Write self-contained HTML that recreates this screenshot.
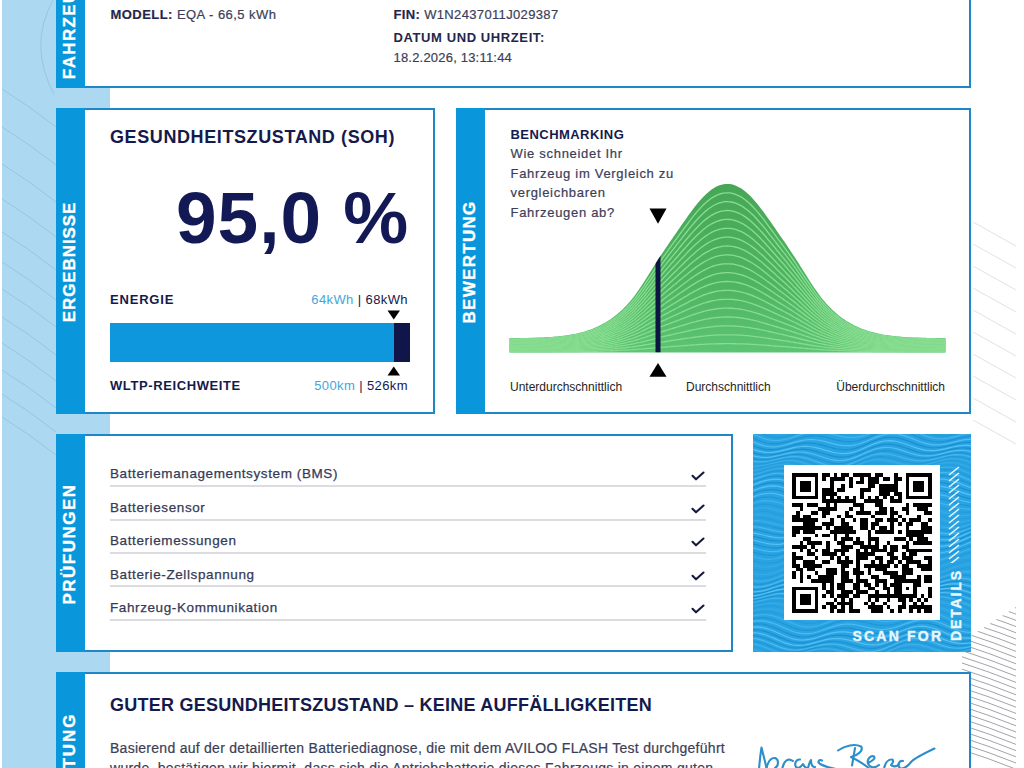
<!DOCTYPE html>
<html lang="de">
<head>
<meta charset="utf-8">
<title>AVILOO Batteriezertifikat</title>
<style>
*{margin:0;padding:0;box-sizing:border-box}
html,body{width:1024px;height:768px;overflow:hidden;background:#fff}
body{position:relative;font-family:"Liberation Sans",Arial,sans-serif;color:#1a1d4a}
.abs{position:absolute;white-space:nowrap;line-height:1}
.bgstrip{position:absolute;left:2px;top:0;width:54px;height:768px;background:#acd9f1}
.gap{position:absolute;left:56px;width:54px;background:#acd9f1}
.card{position:absolute;border:2px solid #1f87c7;background:#fff}
.lab{position:absolute;background:#0996da}
.lab span{position:absolute;left:calc(50% - 1.5px);top:calc(50% + 1px);-webkit-text-stroke:0.35px #fff;transform:translate(-50%,-50%) rotate(-90deg);color:#fff;font-weight:bold;font-size:17px;letter-spacing:1px;white-space:nowrap;line-height:1}
.t13{font-size:13px}
.b{font-weight:bold}
.navy{color:#141a4c}
.gray{color:#3b3e58;-webkit-text-stroke:0.2px #3b3e58}
.row{position:absolute;left:110px;width:596px;height:2px;background:#dcdce0}
.item{position:absolute;left:110px;font-size:13.5px;letter-spacing:0.6px;color:#363a57;-webkit-text-stroke:0.25px #363a57;line-height:1;white-space:nowrap}
.chk{position:absolute;left:691px;width:14px;height:10px}
</style>
</head>
<body>
<!-- background -->
<div class="bgstrip"></div>
<svg class="abs" style="left:0;top:0" width="1024" height="768" viewBox="0 0 1024 768">
  <g stroke="#93c5e2" stroke-width="1" fill="none" opacity="0.9"><path d="M2 89 Q28 105 56 127"/><path d="M2 127 Q28 143 56 165"/><path d="M2 164 Q28 180 56 202"/><path d="M2 199 Q28 215 56 237"/><path d="M2 232 Q28 248 56 270"/><path d="M2 262 Q28 278 56 300"/><path d="M2 289 Q28 305 56 327"/><path d="M2 317 Q28 333 56 355"/><path d="M2 343 Q28 359 56 381"/><path d="M2 370 Q28 386 56 408"/><path d="M2 394 Q28 410 56 432"/><path d="M2 417 Q28 433 56 455"/><path d="M53 0 Q28 46 54 94"/></g>
  <g stroke="#e2e2e6" stroke-width="1" fill="none"><path d="M973 222 L1016 246"/><path d="M973 244 L1016 268"/><path d="M973 266 L1016 290"/><path d="M973 288 L1016 312"/><path d="M973 310 L1016 334"/><path d="M973 332 L1016 356"/><path d="M973 354 L1016 378"/><path d="M973 376 L1016 400"/><path d="M973 398 L1016 422"/><path d="M973 420 L1016 444"/></g>
  <g stroke="#a4a4aa" stroke-width="1" fill="none"><path d="M1015.0 607.6 Q1015.5 607.8 1016 608.0"/><path d="M1008.8 611.6 Q1012.4 612.8 1016 614.2"/><path d="M1002.6 615.6 Q1009.3 617.7 1016 620.4"/><path d="M996.4 619.5 Q1006.2 622.7 1016 626.6"/><path d="M990.2 623.5 Q1003.1 627.6 1016 632.8"/><path d="M984.0 627.5 Q1000.0 632.6 1016 639.0"/><path d="M977.8 631.4 Q996.9 637.6 1016 645.2"/><path d="M971.6 635.4 Q993.8 642.5 1016 651.4"/><path d="M965.4 639.4 Q990.7 647.5 1016 657.6"/><path d="M962.0 644.4 Q989.0 653.0 1016 663.8"/><path d="M962.0 650.6 Q989.0 659.2 1016 670.0"/><path d="M962.0 656.8 Q989.0 665.4 1016 676.2"/><path d="M962.0 663.0 Q989.0 671.6 1016 682.4"/><path d="M962.0 669.2 Q989.0 677.8 1016 688.6"/><path d="M962.0 675.4 Q989.0 684.0 1016 694.8"/><path d="M962.0 681.6 Q989.0 690.2 1016 701.0"/><path d="M962.0 687.8 Q989.0 696.4 1016 707.2"/><path d="M962.0 694.0 Q989.0 702.6 1016 713.4"/><path d="M962.0 700.2 Q989.0 708.8 1016 719.6"/><path d="M962.0 706.4 Q989.0 715.0 1016 725.8"/><path d="M962.0 712.6 Q989.0 721.2 1016 732.0"/><path d="M962.0 718.8 Q989.0 727.4 1016 738.2"/><path d="M962.0 725.0 Q989.0 733.6 1016 744.4"/><path d="M962.0 731.2 Q989.0 739.8 1016 750.6"/><path d="M962.0 737.4 Q989.0 746.0 1016 756.8"/><path d="M962.0 743.6 Q989.0 752.2 1016 763.0"/><path d="M962.0 749.8 Q989.0 758.4 1016 769.2"/></g>
</svg>
<div class="gap" style="top:88px;height:20px"></div>
<div class="gap" style="top:414px;height:20px"></div>
<div class="gap" style="top:652px;height:20px"></div>

<!-- Card 1: Fahrzeug -->
<div class="card" style="left:56px;top:-33px;width:915px;height:121px"></div>
<div class="lab" style="left:56px;top:-33px;width:29px;height:121px"><span style="top:calc(50% - 0.5px);letter-spacing:1.35px">FAHRZEUG</span></div>
<div class="abs t13 gray" style="left:110.5px;top:7.5px;letter-spacing:0.45px"><b class="navy" style="color:#23264a">MODELL:</b> EQA - 66,5 kWh</div>
<div class="abs t13 gray" style="left:393.5px;top:7.9px;letter-spacing:0.35px"><b style="color:#23264a">FIN:</b> W1N2437011J029387</div>
<div class="abs t13 b" style="left:393.5px;top:31.4px;color:#23264a;letter-spacing:0.6px">DATUM UND UHRZEIT:</div>
<div class="abs t13 gray" style="left:393.5px;top:50.5px;letter-spacing:0.2px">18.2.2026, 13:11:44</div>

<!-- Card 2: Ergebnisse -->
<div class="card" style="left:56px;top:108px;width:379px;height:306px"></div>
<div class="lab" style="left:56px;top:108px;width:29px;height:306px"><span style="letter-spacing:0.9px">ERGEBNISSE</span></div>
<div class="abs b navy" style="left:110px;top:128.2px;font-size:18px;letter-spacing:0.6px">GESUNDHEITSZUSTAND (SOH)</div>
<div class="abs b" style="left:176px;top:181.3px;font-size:73px;color:#131955;letter-spacing:1px">95,0 %</div>
<div class="abs b navy t13" style="left:110px;top:293.3px;letter-spacing:0.8px">ENERGIE</div>
<div class="abs t13" style="right:616px;top:293.4px;letter-spacing:0.4px"><span style="color:#3fa7dd">64kWh</span> <span class="navy">| 68kWh</span></div>
<div class="abs" style="left:110px;top:323px;width:284px;height:39px;background:#0e97dc"></div>
<div class="abs" style="left:394px;top:323px;width:15.5px;height:39px;background:#10164a"></div>
<svg class="abs" style="left:387px;top:310px" width="14" height="10"><path d="M0.5 0.5 L13 0.5 L6.75 9.5 Z" fill="#000"/></svg>
<svg class="abs" style="left:387px;top:365.5px" width="14" height="10"><path d="M0.5 9.5 L13 9.5 L6.75 0.5 Z" fill="#000"/></svg>
<div class="abs b navy t13" style="left:110px;top:378.7px;letter-spacing:0.6px">WLTP-REICHWEITE</div>
<div class="abs t13" style="right:616px;top:378.7px;letter-spacing:0.4px"><span style="color:#3fa7dd">500km</span> <span class="navy">| 526km</span></div>

<!-- Card 3: Bewertung -->
<div class="card" style="left:456px;top:108px;width:515px;height:306px"></div>
<div class="lab" style="left:456px;top:108px;width:29px;height:306px"><span style="letter-spacing:1.3px">BEWERTUNG</span></div>
<div class="abs b t13 navy" style="left:510.5px;top:127.6px;letter-spacing:0.45px">BENCHMARKING</div>
<div class="abs t13 gray" style="left:510.5px;top:147px;letter-spacing:0.7px">Wie schneidet Ihr</div>
<div class="abs t13 gray" style="left:510.5px;top:167px;letter-spacing:0.7px">Fahrzeug im Vergleich zu</div>
<div class="abs t13 gray" style="left:510.5px;top:186.1px;letter-spacing:0.7px">vergleichbaren</div>
<div class="abs t13 gray" style="left:510.5px;top:205.7px;letter-spacing:0.7px">Fahrzeugen ab?</div>
<svg class="abs" style="left:0;top:0" width="1024" height="420" viewBox="0 0 1024 420">
  <defs>
    <linearGradient id="gfill" x1="0" y1="180" x2="0" y2="353" gradientUnits="userSpaceOnUse">
      <stop offset="0" stop-color="#45a656"/>
      <stop offset="0.6" stop-color="#4fb462"/>
      <stop offset="1" stop-color="#5cc474"/>
    </linearGradient>
  </defs>
  <clipPath id="bellclip"><path d="M509.5 338.1 L511.5 338.1 L513.5 338.1 L515.4 338.0 L517.4 338.0 L519.4 338.0 L521.4 338.0 L523.4 337.9 L525.4 337.9 L527.3 337.9 L529.3 337.8 L531.3 337.8 L533.3 337.7 L535.3 337.7 L537.2 337.6 L539.2 337.5 L541.2 337.4 L543.2 337.4 L545.2 337.3 L547.2 337.1 L549.1 337.0 L551.1 336.9 L553.1 336.7 L555.1 336.6 L557.1 336.4 L559.0 336.2 L561.0 336.0 L563.0 335.8 L565.0 335.5 L567.0 335.2 L569.0 334.9 L570.9 334.6 L572.9 334.2 L574.9 333.9 L576.9 333.4 L578.9 333.0 L580.8 332.5 L582.8 332.0 L584.8 331.4 L586.8 330.8 L588.8 330.1 L590.8 329.4 L592.7 328.7 L594.7 327.8 L596.7 327.0 L598.7 326.1 L600.7 325.1 L602.6 324.0 L604.6 322.9 L606.6 321.7 L608.6 320.5 L610.6 319.2 L612.6 317.7 L614.5 316.3 L616.5 314.7 L618.5 313.0 L620.5 311.3 L622.5 309.4 L624.4 307.5 L626.4 305.4 L628.4 303.2 L630.4 300.9 L632.4 298.5 L634.4 295.9 L636.3 293.3 L638.3 290.5 L640.3 287.6 L642.3 284.6 L644.3 281.6 L646.2 278.5 L648.2 275.3 L650.2 272.1 L652.2 268.9 L654.2 265.8 L656.2 262.6 L658.1 259.5 L660.1 256.5 L662.1 253.5 L664.1 250.5 L666.1 247.6 L668.0 244.7 L670.0 241.8 L672.0 238.9 L674.0 236.0 L676.0 233.2 L678.0 230.3 L679.9 227.5 L681.9 224.6 L683.9 221.8 L685.9 218.9 L687.9 216.1 L689.8 213.4 L691.8 210.7 L693.8 208.1 L695.8 205.5 L697.8 203.1 L699.8 200.7 L701.7 198.5 L703.7 196.4 L705.7 194.5 L707.7 192.7 L709.7 191.0 L711.6 189.5 L713.6 188.2 L715.6 187.1 L717.6 186.1 L719.6 185.3 L721.6 184.7 L723.5 184.2 L725.5 184.0 L727.5 183.9 L729.5 184.0 L731.5 184.3 L733.4 184.8 L735.4 185.5 L737.4 186.4 L739.4 187.4 L741.4 188.6 L743.4 190.0 L745.3 191.5 L747.3 193.2 L749.3 195.1 L751.3 197.1 L753.3 199.2 L755.2 201.4 L757.2 203.8 L759.2 206.3 L761.2 208.9 L763.2 211.5 L765.2 214.2 L767.1 217.0 L769.1 219.8 L771.1 222.6 L773.1 225.5 L775.1 228.3 L777.0 231.2 L779.0 234.0 L781.0 236.9 L783.0 239.8 L785.0 242.6 L787.0 245.5 L788.9 248.4 L790.9 251.4 L792.9 254.4 L794.9 257.4 L796.9 260.5 L798.8 263.6 L800.8 266.7 L802.8 269.9 L804.8 273.1 L806.8 276.3 L808.8 279.4 L810.7 282.5 L812.7 285.5 L814.7 288.5 L816.7 291.3 L818.7 294.1 L820.6 296.7 L822.6 299.2 L824.6 301.6 L826.6 303.9 L828.6 306.0 L830.6 308.1 L832.5 310.0 L834.5 311.8 L836.5 313.5 L838.5 315.2 L840.5 316.7 L842.4 318.2 L844.4 319.6 L846.4 320.9 L848.4 322.1 L850.4 323.3 L852.4 324.3 L854.3 325.4 L856.3 326.3 L858.3 327.2 L860.3 328.1 L862.3 328.9 L864.2 329.6 L866.2 330.3 L868.2 331.0 L870.2 331.6 L872.2 332.1 L874.2 332.6 L876.1 333.1 L878.1 333.6 L880.1 334.0 L882.1 334.4 L884.1 334.7 L886.0 335.0 L888.0 335.3 L890.0 335.6 L892.0 335.8 L894.0 336.1 L896.0 336.3 L897.9 336.5 L899.9 336.6 L901.9 336.8 L903.9 336.9 L905.9 337.1 L907.8 337.2 L909.8 337.3 L911.8 337.4 L913.8 337.5 L915.8 337.6 L917.8 337.6 L919.7 337.7 L921.7 337.7 L923.7 337.8 L925.7 337.8 L927.7 337.9 L929.6 337.9 L931.6 338.0 L933.6 338.0 L935.6 338.0 L937.6 338.0 L939.6 338.1 L941.5 338.1 L943.5 338.1 L945.5 338.1 L945.5 352.5 L509.5 352.5 Z"/></clipPath>
<path d="M509.5 338.1 L511.5 338.1 L513.5 338.1 L515.4 338.0 L517.4 338.0 L519.4 338.0 L521.4 338.0 L523.4 337.9 L525.4 337.9 L527.3 337.9 L529.3 337.8 L531.3 337.8 L533.3 337.7 L535.3 337.7 L537.2 337.6 L539.2 337.5 L541.2 337.4 L543.2 337.4 L545.2 337.3 L547.2 337.1 L549.1 337.0 L551.1 336.9 L553.1 336.7 L555.1 336.6 L557.1 336.4 L559.0 336.2 L561.0 336.0 L563.0 335.8 L565.0 335.5 L567.0 335.2 L569.0 334.9 L570.9 334.6 L572.9 334.2 L574.9 333.9 L576.9 333.4 L578.9 333.0 L580.8 332.5 L582.8 332.0 L584.8 331.4 L586.8 330.8 L588.8 330.1 L590.8 329.4 L592.7 328.7 L594.7 327.8 L596.7 327.0 L598.7 326.1 L600.7 325.1 L602.6 324.0 L604.6 322.9 L606.6 321.7 L608.6 320.5 L610.6 319.2 L612.6 317.7 L614.5 316.3 L616.5 314.7 L618.5 313.0 L620.5 311.3 L622.5 309.4 L624.4 307.5 L626.4 305.4 L628.4 303.2 L630.4 300.9 L632.4 298.5 L634.4 295.9 L636.3 293.3 L638.3 290.5 L640.3 287.6 L642.3 284.6 L644.3 281.6 L646.2 278.5 L648.2 275.3 L650.2 272.1 L652.2 268.9 L654.2 265.8 L656.2 262.6 L658.1 259.5 L660.1 256.5 L662.1 253.5 L664.1 250.5 L666.1 247.6 L668.0 244.7 L670.0 241.8 L672.0 238.9 L674.0 236.0 L676.0 233.2 L678.0 230.3 L679.9 227.5 L681.9 224.6 L683.9 221.8 L685.9 218.9 L687.9 216.1 L689.8 213.4 L691.8 210.7 L693.8 208.1 L695.8 205.5 L697.8 203.1 L699.8 200.7 L701.7 198.5 L703.7 196.4 L705.7 194.5 L707.7 192.7 L709.7 191.0 L711.6 189.5 L713.6 188.2 L715.6 187.1 L717.6 186.1 L719.6 185.3 L721.6 184.7 L723.5 184.2 L725.5 184.0 L727.5 183.9 L729.5 184.0 L731.5 184.3 L733.4 184.8 L735.4 185.5 L737.4 186.4 L739.4 187.4 L741.4 188.6 L743.4 190.0 L745.3 191.5 L747.3 193.2 L749.3 195.1 L751.3 197.1 L753.3 199.2 L755.2 201.4 L757.2 203.8 L759.2 206.3 L761.2 208.9 L763.2 211.5 L765.2 214.2 L767.1 217.0 L769.1 219.8 L771.1 222.6 L773.1 225.5 L775.1 228.3 L777.0 231.2 L779.0 234.0 L781.0 236.9 L783.0 239.8 L785.0 242.6 L787.0 245.5 L788.9 248.4 L790.9 251.4 L792.9 254.4 L794.9 257.4 L796.9 260.5 L798.8 263.6 L800.8 266.7 L802.8 269.9 L804.8 273.1 L806.8 276.3 L808.8 279.4 L810.7 282.5 L812.7 285.5 L814.7 288.5 L816.7 291.3 L818.7 294.1 L820.6 296.7 L822.6 299.2 L824.6 301.6 L826.6 303.9 L828.6 306.0 L830.6 308.1 L832.5 310.0 L834.5 311.8 L836.5 313.5 L838.5 315.2 L840.5 316.7 L842.4 318.2 L844.4 319.6 L846.4 320.9 L848.4 322.1 L850.4 323.3 L852.4 324.3 L854.3 325.4 L856.3 326.3 L858.3 327.2 L860.3 328.1 L862.3 328.9 L864.2 329.6 L866.2 330.3 L868.2 331.0 L870.2 331.6 L872.2 332.1 L874.2 332.6 L876.1 333.1 L878.1 333.6 L880.1 334.0 L882.1 334.4 L884.1 334.7 L886.0 335.0 L888.0 335.3 L890.0 335.6 L892.0 335.8 L894.0 336.1 L896.0 336.3 L897.9 336.5 L899.9 336.6 L901.9 336.8 L903.9 336.9 L905.9 337.1 L907.8 337.2 L909.8 337.3 L911.8 337.4 L913.8 337.5 L915.8 337.6 L917.8 337.6 L919.7 337.7 L921.7 337.7 L923.7 337.8 L925.7 337.8 L927.7 337.9 L929.6 337.9 L931.6 338.0 L933.6 338.0 L935.6 338.0 L937.6 338.0 L939.6 338.1 L941.5 338.1 L943.5 338.1 L945.5 338.1 L945.5 352.5 L509.5 352.5 Z" fill="url(#gfill)"/>
<path d="M509.5 338.9 L511.5 338.8 L513.5 338.8 L515.4 338.8 L517.4 338.8 L519.4 338.8 L521.4 338.7 L523.4 338.7 L525.4 338.7 L527.3 338.6 L529.3 338.6 L531.3 338.6 L533.3 338.5 L535.3 338.4 L537.2 338.4 L539.2 338.3 L541.2 338.2 L543.2 338.2 L545.2 338.1 L547.2 338.0 L549.1 337.8 L551.1 337.7 L553.1 337.6 L555.1 337.4 L557.1 337.3 L559.0 337.1 L561.0 336.9 L563.0 336.6 L565.0 336.4 L567.0 336.1 L569.0 335.9 L570.9 335.5 L572.9 335.2 L574.9 334.8 L576.9 334.4 L578.9 334.0 L580.8 333.5 L582.8 333.0 L584.8 332.5 L586.8 331.9 L588.8 331.3 L590.8 330.6 L592.7 329.9 L594.7 329.1 L596.7 328.3 L598.7 327.4 L600.7 326.5 L602.6 325.5 L604.6 324.5 L606.6 323.3 L608.6 322.2 L610.6 320.9 L612.6 319.6 L614.5 318.2 L616.5 316.7 L618.5 315.1 L620.5 313.4 L622.5 311.7 L624.4 309.8 L626.4 307.9 L628.4 305.8 L630.4 303.6 L632.4 301.3 L634.4 298.9 L636.3 296.4 L638.3 293.7 L640.3 291.0 L642.3 288.2 L644.3 285.3 L646.2 282.4 L648.2 279.4 L650.2 276.4 L652.2 273.3 L654.2 270.3 L656.2 267.4 L658.1 264.4 L660.1 261.5 L662.1 258.7 L664.1 255.9 L666.1 253.1 L668.0 250.3 L670.0 247.6 L672.0 244.9 L674.0 242.2 L676.0 239.5 L678.0 236.7 L679.9 234.0 L681.9 231.3 L683.9 228.6 L685.9 226.0 L687.9 223.3 L689.8 220.7 L691.8 218.2 L693.8 215.7 L695.8 213.3 L697.8 210.9 L699.8 208.7 L701.7 206.6 L703.7 204.6 L705.7 202.8 L707.7 201.1 L709.7 199.5 L711.6 198.1 L713.6 196.9 L715.6 195.8 L717.6 194.8 L719.6 194.1 L721.6 193.5 L723.5 193.1 L725.5 192.8 L727.5 192.8 L729.5 192.9 L731.5 193.2 L733.4 193.6 L735.4 194.3 L737.4 195.1 L739.4 196.1 L741.4 197.2 L743.4 198.5 L745.3 200.0 L747.3 201.6 L749.3 203.3 L751.3 205.2 L753.3 207.3 L755.2 209.4 L757.2 211.6 L759.2 214.0 L761.2 216.4 L763.2 218.9 L765.2 221.5 L767.1 224.1 L769.1 226.8 L771.1 229.5 L773.1 232.2 L775.1 234.9 L777.0 237.6 L779.0 240.3 L781.0 243.0 L783.0 245.7 L785.0 248.4 L787.0 251.2 L788.9 253.9 L790.9 256.7 L792.9 259.5 L794.9 262.4 L796.9 265.3 L798.8 268.3 L800.8 271.3 L802.8 274.3 L804.8 277.3 L806.8 280.3 L808.8 283.2 L810.7 286.2 L812.7 289.1 L814.7 291.9 L816.7 294.6 L818.7 297.2 L820.6 299.6 L822.6 302.0 L824.6 304.3 L826.6 306.4 L828.6 308.5 L830.6 310.4 L832.5 312.2 L834.5 314.0 L836.5 315.6 L838.5 317.1 L840.5 318.6 L842.4 320.0 L844.4 321.3 L846.4 322.5 L848.4 323.7 L850.4 324.8 L852.4 325.8 L854.3 326.8 L856.3 327.7 L858.3 328.6 L860.3 329.4 L862.3 330.1 L864.2 330.8 L866.2 331.5 L868.2 332.1 L870.2 332.7 L872.2 333.2 L874.2 333.7 L876.1 334.1 L878.1 334.6 L880.1 334.9 L882.1 335.3 L884.1 335.6 L886.0 335.9 L888.0 336.2 L890.0 336.5 L892.0 336.7 L894.0 336.9 L896.0 337.1 L897.9 337.3 L899.9 337.5 L901.9 337.6 L903.9 337.8 L905.9 337.9 L907.8 338.0 L909.8 338.1 L911.8 338.2 L913.8 338.3 L915.8 338.3 L917.8 338.4 L919.7 338.5 L921.7 338.5 L923.7 338.6 L925.7 338.6 L927.7 338.7 L929.6 338.7 L931.6 338.7 L933.6 338.7 L935.6 338.8 L937.6 338.8 L939.6 338.8 L941.5 338.8 L943.5 338.8 L945.5 338.9" fill="none" stroke="#86dc8f" stroke-width="1.35"/>
<path d="M509.5 339.6 L511.5 339.6 L513.5 339.6 L515.4 339.6 L517.4 339.5 L519.4 339.5 L521.4 339.5 L523.4 339.5 L525.4 339.4 L527.3 339.4 L529.3 339.4 L531.3 339.3 L533.3 339.3 L535.3 339.2 L537.2 339.2 L539.2 339.1 L541.2 339.0 L543.2 339.0 L545.2 338.9 L547.2 338.8 L549.1 338.7 L551.1 338.5 L553.1 338.4 L555.1 338.3 L557.1 338.1 L559.0 337.9 L561.0 337.7 L563.0 337.5 L565.0 337.3 L567.0 337.0 L569.0 336.8 L570.9 336.5 L572.9 336.2 L574.9 335.8 L576.9 335.4 L578.9 335.0 L580.8 334.6 L582.8 334.1 L584.8 333.6 L586.8 333.1 L588.8 332.5 L590.8 331.8 L592.7 331.2 L594.7 330.4 L596.7 329.7 L598.7 328.8 L600.7 328.0 L602.6 327.0 L604.6 326.0 L606.6 325.0 L608.6 323.8 L610.6 322.7 L612.6 321.4 L614.5 320.1 L616.5 318.7 L618.5 317.2 L620.5 315.6 L622.5 314.0 L624.4 312.2 L626.4 310.3 L628.4 308.4 L630.4 306.3 L632.4 304.2 L634.4 301.9 L636.3 299.5 L638.3 297.0 L640.3 294.4 L642.3 291.8 L644.3 289.0 L646.2 286.2 L648.2 283.4 L650.2 280.6 L652.2 277.7 L654.2 274.9 L656.2 272.1 L658.1 269.3 L660.1 266.6 L662.1 263.9 L664.1 261.2 L666.1 258.6 L668.0 256.0 L670.0 253.4 L672.0 250.9 L674.0 248.3 L676.0 245.7 L678.0 243.2 L679.9 240.6 L681.9 238.1 L683.9 235.5 L685.9 233.0 L687.9 230.5 L689.8 228.0 L691.8 225.6 L693.8 223.3 L695.8 221.0 L697.8 218.8 L699.8 216.7 L701.7 214.7 L703.7 212.9 L705.7 211.1 L707.7 209.5 L709.7 208.0 L711.6 206.7 L713.6 205.5 L715.6 204.5 L717.6 203.6 L719.6 202.9 L721.6 202.3 L723.5 201.9 L725.5 201.7 L727.5 201.6 L729.5 201.8 L731.5 202.0 L733.4 202.5 L735.4 203.1 L737.4 203.8 L739.4 204.8 L741.4 205.8 L743.4 207.1 L745.3 208.5 L747.3 210.0 L749.3 211.6 L751.3 213.4 L753.3 215.3 L755.2 217.3 L757.2 219.5 L759.2 221.7 L761.2 224.0 L763.2 226.3 L765.2 228.8 L767.1 231.2 L769.1 233.8 L771.1 236.3 L773.1 238.8 L775.1 241.4 L777.0 244.0 L779.0 246.5 L781.0 249.1 L783.0 251.6 L785.0 254.2 L787.0 256.8 L788.9 259.4 L790.9 262.0 L792.9 264.7 L794.9 267.4 L796.9 270.2 L798.8 272.9 L800.8 275.8 L802.8 278.6 L804.8 281.4 L806.8 284.3 L808.8 287.1 L810.7 289.9 L812.7 292.6 L814.7 295.2 L816.7 297.8 L818.7 300.2 L820.6 302.6 L822.6 304.8 L824.6 307.0 L826.6 309.0 L828.6 310.9 L830.6 312.7 L832.5 314.5 L834.5 316.1 L836.5 317.6 L838.5 319.1 L840.5 320.5 L842.4 321.8 L844.4 323.0 L846.4 324.2 L848.4 325.3 L850.4 326.3 L852.4 327.3 L854.3 328.2 L856.3 329.1 L858.3 329.9 L860.3 330.7 L862.3 331.4 L864.2 332.0 L866.2 332.7 L868.2 333.2 L870.2 333.8 L872.2 334.3 L874.2 334.7 L876.1 335.2 L878.1 335.6 L880.1 335.9 L882.1 336.3 L884.1 336.6 L886.0 336.9 L888.0 337.1 L890.0 337.4 L892.0 337.6 L894.0 337.8 L896.0 338.0 L897.9 338.2 L899.9 338.3 L901.9 338.4 L903.9 338.6 L905.9 338.7 L907.8 338.8 L909.8 338.9 L911.8 339.0 L913.8 339.1 L915.8 339.1 L917.8 339.2 L919.7 339.2 L921.7 339.3 L923.7 339.3 L925.7 339.4 L927.7 339.4 L929.6 339.5 L931.6 339.5 L933.6 339.5 L935.6 339.5 L937.6 339.6 L939.6 339.6 L941.5 339.6 L943.5 339.6 L945.5 339.6" fill="none" stroke="#86dc8f" stroke-width="1.35"/>
<path d="M509.5 340.4 L511.5 340.4 L513.5 340.3 L515.4 340.3 L517.4 340.3 L519.4 340.3 L521.4 340.3 L523.4 340.2 L525.4 340.2 L527.3 340.2 L529.3 340.1 L531.3 340.1 L533.3 340.1 L535.3 340.0 L537.2 340.0 L539.2 339.9 L541.2 339.8 L543.2 339.7 L545.2 339.7 L547.2 339.6 L549.1 339.5 L551.1 339.4 L553.1 339.2 L555.1 339.1 L557.1 338.9 L559.0 338.8 L561.0 338.6 L563.0 338.4 L565.0 338.2 L567.0 338.0 L569.0 337.7 L570.9 337.4 L572.9 337.1 L574.9 336.8 L576.9 336.4 L578.9 336.1 L580.8 335.6 L582.8 335.2 L584.8 334.7 L586.8 334.2 L588.8 333.6 L590.8 333.1 L592.7 332.4 L594.7 331.7 L596.7 331.0 L598.7 330.2 L600.7 329.4 L602.6 328.5 L604.6 327.6 L606.6 326.6 L608.6 325.5 L610.6 324.4 L612.6 323.2 L614.5 322.0 L616.5 320.7 L618.5 319.3 L620.5 317.8 L622.5 316.2 L624.4 314.6 L626.4 312.8 L628.4 311.0 L630.4 309.0 L632.4 307.0 L634.4 304.9 L636.3 302.6 L638.3 300.3 L640.3 297.8 L642.3 295.3 L644.3 292.8 L646.2 290.1 L648.2 287.5 L650.2 284.8 L652.2 282.1 L654.2 279.5 L656.2 276.8 L658.1 274.2 L660.1 271.6 L662.1 269.1 L664.1 266.6 L666.1 264.1 L668.0 261.7 L670.0 259.3 L672.0 256.8 L674.0 254.4 L676.0 252.0 L678.0 249.6 L679.9 247.2 L681.9 244.8 L683.9 242.4 L685.9 240.0 L687.9 237.7 L689.8 235.3 L691.8 233.1 L693.8 230.9 L695.8 228.7 L697.8 226.7 L699.8 224.7 L701.7 222.8 L703.7 221.1 L705.7 219.4 L707.7 217.9 L709.7 216.5 L711.6 215.3 L713.6 214.2 L715.6 213.2 L717.6 212.4 L719.6 211.7 L721.6 211.2 L723.5 210.8 L725.5 210.6 L727.5 210.5 L729.5 210.6 L731.5 210.9 L733.4 211.3 L735.4 211.9 L737.4 212.6 L739.4 213.5 L741.4 214.5 L743.4 215.6 L745.3 216.9 L747.3 218.4 L749.3 219.9 L751.3 221.6 L753.3 223.4 L755.2 225.3 L757.2 227.3 L759.2 229.4 L761.2 231.5 L763.2 233.8 L765.2 236.0 L767.1 238.4 L769.1 240.7 L771.1 243.1 L773.1 245.5 L775.1 247.9 L777.0 250.3 L779.0 252.7 L781.0 255.2 L783.0 257.6 L785.0 260.0 L787.0 262.4 L788.9 264.9 L790.9 267.4 L792.9 269.9 L794.9 272.4 L796.9 275.0 L798.8 277.6 L800.8 280.3 L802.8 282.9 L804.8 285.6 L806.8 288.3 L808.8 290.9 L810.7 293.6 L812.7 296.1 L814.7 298.6 L816.7 301.0 L818.7 303.3 L820.6 305.5 L822.6 307.6 L824.6 309.6 L826.6 311.6 L828.6 313.4 L830.6 315.1 L832.5 316.7 L834.5 318.2 L836.5 319.7 L838.5 321.1 L840.5 322.4 L842.4 323.6 L844.4 324.8 L846.4 325.9 L848.4 326.9 L850.4 327.9 L852.4 328.8 L854.3 329.7 L856.3 330.5 L858.3 331.2 L860.3 331.9 L862.3 332.6 L864.2 333.2 L866.2 333.8 L868.2 334.4 L870.2 334.9 L872.2 335.3 L874.2 335.8 L876.1 336.2 L878.1 336.6 L880.1 336.9 L882.1 337.2 L884.1 337.5 L886.0 337.8 L888.0 338.0 L890.0 338.3 L892.0 338.5 L894.0 338.7 L896.0 338.8 L897.9 339.0 L899.9 339.1 L901.9 339.3 L903.9 339.4 L905.9 339.5 L907.8 339.6 L909.8 339.7 L911.8 339.8 L913.8 339.8 L915.8 339.9 L917.8 340.0 L919.7 340.0 L921.7 340.1 L923.7 340.1 L925.7 340.2 L927.7 340.2 L929.6 340.2 L931.6 340.2 L933.6 340.3 L935.6 340.3 L937.6 340.3 L939.6 340.3 L941.5 340.3 L943.5 340.4 L945.5 340.4" fill="none" stroke="#86dc8f" stroke-width="1.35"/>
<path d="M509.5 341.1 L511.5 341.1 L513.5 341.1 L515.4 341.1 L517.4 341.1 L519.4 341.1 L521.4 341.0 L523.4 341.0 L525.4 341.0 L527.3 340.9 L529.3 340.9 L531.3 340.9 L533.3 340.8 L535.3 340.8 L537.2 340.7 L539.2 340.7 L541.2 340.6 L543.2 340.5 L545.2 340.5 L547.2 340.4 L549.1 340.3 L551.1 340.2 L553.1 340.1 L555.1 339.9 L557.1 339.8 L559.0 339.6 L561.0 339.5 L563.0 339.3 L565.0 339.1 L567.0 338.9 L569.0 338.6 L570.9 338.4 L572.9 338.1 L574.9 337.8 L576.9 337.4 L578.9 337.1 L580.8 336.7 L582.8 336.3 L584.8 335.8 L586.8 335.3 L588.8 334.8 L590.8 334.3 L592.7 333.7 L594.7 333.0 L596.7 332.3 L598.7 331.6 L600.7 330.8 L602.6 330.0 L604.6 329.1 L606.6 328.2 L608.6 327.2 L610.6 326.2 L612.6 325.1 L614.5 323.9 L616.5 322.6 L618.5 321.3 L620.5 320.0 L622.5 318.5 L624.4 316.9 L626.4 315.3 L628.4 313.6 L630.4 311.8 L632.4 309.8 L634.4 307.8 L636.3 305.7 L638.3 303.5 L640.3 301.3 L642.3 298.9 L644.3 296.5 L646.2 294.0 L648.2 291.6 L650.2 289.0 L652.2 286.5 L654.2 284.0 L656.2 281.6 L658.1 279.1 L660.1 276.7 L662.1 274.3 L664.1 272.0 L666.1 269.7 L668.0 267.4 L670.0 265.1 L672.0 262.8 L674.0 260.6 L676.0 258.3 L678.0 256.0 L679.9 253.8 L681.9 251.5 L683.9 249.3 L685.9 247.1 L687.9 244.8 L689.8 242.7 L691.8 240.5 L693.8 238.5 L695.8 236.5 L697.8 234.5 L699.8 232.7 L701.7 230.9 L703.7 229.3 L705.7 227.8 L707.7 226.3 L709.7 225.0 L711.6 223.8 L713.6 222.8 L715.6 221.9 L717.6 221.1 L719.6 220.5 L721.6 220.0 L723.5 219.6 L725.5 219.4 L727.5 219.4 L729.5 219.5 L731.5 219.7 L733.4 220.1 L735.4 220.7 L737.4 221.3 L739.4 222.1 L741.4 223.1 L743.4 224.2 L745.3 225.4 L747.3 226.7 L749.3 228.2 L751.3 229.8 L753.3 231.5 L755.2 233.2 L757.2 235.1 L759.2 237.1 L761.2 239.1 L763.2 241.2 L765.2 243.3 L767.1 245.5 L769.1 247.7 L771.1 250.0 L773.1 252.2 L775.1 254.5 L777.0 256.7 L779.0 259.0 L781.0 261.2 L783.0 263.5 L785.0 265.8 L787.0 268.1 L788.9 270.4 L790.9 272.7 L792.9 275.0 L794.9 277.4 L796.9 279.8 L798.8 282.3 L800.8 284.8 L802.8 287.3 L804.8 289.8 L806.8 292.3 L808.8 294.8 L810.7 297.2 L812.7 299.6 L814.7 302.0 L816.7 304.2 L818.7 306.4 L820.6 308.5 L822.6 310.4 L824.6 312.3 L826.6 314.1 L828.6 315.8 L830.6 317.4 L832.5 318.9 L834.5 320.4 L836.5 321.7 L838.5 323.0 L840.5 324.3 L842.4 325.4 L844.4 326.5 L846.4 327.5 L848.4 328.5 L850.4 329.4 L852.4 330.3 L854.3 331.1 L856.3 331.8 L858.3 332.6 L860.3 333.2 L862.3 333.9 L864.2 334.4 L866.2 335.0 L868.2 335.5 L870.2 336.0 L872.2 336.4 L874.2 336.8 L876.1 337.2 L878.1 337.6 L880.1 337.9 L882.1 338.2 L884.1 338.4 L886.0 338.7 L888.0 338.9 L890.0 339.1 L892.0 339.3 L894.0 339.5 L896.0 339.7 L897.9 339.8 L899.9 340.0 L901.9 340.1 L903.9 340.2 L905.9 340.3 L907.8 340.4 L909.8 340.5 L911.8 340.6 L913.8 340.6 L915.8 340.7 L917.8 340.8 L919.7 340.8 L921.7 340.9 L923.7 340.9 L925.7 340.9 L927.7 341.0 L929.6 341.0 L931.6 341.0 L933.6 341.0 L935.6 341.1 L937.6 341.1 L939.6 341.1 L941.5 341.1 L943.5 341.1 L945.5 341.1" fill="none" stroke="#86dc8f" stroke-width="1.35"/>
<path d="M509.5 341.9 L511.5 341.9 L513.5 341.9 L515.4 341.8 L517.4 341.8 L519.4 341.8 L521.4 341.8 L523.4 341.8 L525.4 341.7 L527.3 341.7 L529.3 341.7 L531.3 341.7 L533.3 341.6 L535.3 341.6 L537.2 341.5 L539.2 341.5 L541.2 341.4 L543.2 341.3 L545.2 341.3 L547.2 341.2 L549.1 341.1 L551.1 341.0 L553.1 340.9 L555.1 340.8 L557.1 340.6 L559.0 340.5 L561.0 340.3 L563.0 340.2 L565.0 340.0 L567.0 339.8 L569.0 339.6 L570.9 339.3 L572.9 339.0 L574.9 338.8 L576.9 338.5 L578.9 338.1 L580.8 337.8 L582.8 337.4 L584.8 336.9 L586.8 336.5 L588.8 336.0 L590.8 335.5 L592.7 334.9 L594.7 334.3 L596.7 333.7 L598.7 333.0 L600.7 332.3 L602.6 331.5 L604.6 330.7 L606.6 329.8 L608.6 328.9 L610.6 327.9 L612.6 326.9 L614.5 325.8 L616.5 324.6 L618.5 323.4 L620.5 322.1 L622.5 320.8 L624.4 319.3 L626.4 317.8 L628.4 316.2 L630.4 314.5 L632.4 312.7 L634.4 310.8 L636.3 308.8 L638.3 306.8 L640.3 304.7 L642.3 302.5 L644.3 300.2 L646.2 297.9 L648.2 295.6 L650.2 293.3 L652.2 290.9 L654.2 288.6 L656.2 286.3 L658.1 284.0 L660.1 281.8 L662.1 279.5 L664.1 277.3 L666.1 275.2 L668.0 273.0 L670.0 270.9 L672.0 268.8 L674.0 266.7 L676.0 264.6 L678.0 262.5 L679.9 260.4 L681.9 258.3 L683.9 256.2 L685.9 254.1 L687.9 252.0 L689.8 250.0 L691.8 248.0 L693.8 246.1 L695.8 244.2 L697.8 242.4 L699.8 240.7 L701.7 239.0 L703.7 237.5 L705.7 236.1 L707.7 234.7 L709.7 233.5 L711.6 232.4 L713.6 231.4 L715.6 230.6 L717.6 229.9 L719.6 229.3 L721.6 228.8 L723.5 228.5 L725.5 228.3 L727.5 228.3 L729.5 228.4 L731.5 228.6 L733.4 228.9 L735.4 229.4 L737.4 230.1 L739.4 230.8 L741.4 231.7 L743.4 232.7 L745.3 233.9 L747.3 235.1 L749.3 236.5 L751.3 238.0 L753.3 239.5 L755.2 241.2 L757.2 242.9 L759.2 244.8 L761.2 246.7 L763.2 248.6 L765.2 250.6 L767.1 252.6 L769.1 254.7 L771.1 256.8 L773.1 258.9 L775.1 261.0 L777.0 263.1 L779.0 265.2 L781.0 267.3 L783.0 269.4 L785.0 271.6 L787.0 273.7 L788.9 275.8 L790.9 278.0 L792.9 280.2 L794.9 282.4 L796.9 284.7 L798.8 287.0 L800.8 289.3 L802.8 291.6 L804.8 294.0 L806.8 296.3 L808.8 298.6 L810.7 300.9 L812.7 303.2 L814.7 305.3 L816.7 307.4 L818.7 309.5 L820.6 311.4 L822.6 313.2 L824.6 315.0 L826.6 316.7 L828.6 318.3 L830.6 319.8 L832.5 321.2 L834.5 322.5 L836.5 323.8 L838.5 325.0 L840.5 326.1 L842.4 327.2 L844.4 328.2 L846.4 329.2 L848.4 330.1 L850.4 330.9 L852.4 331.8 L854.3 332.5 L856.3 333.2 L858.3 333.9 L860.3 334.5 L862.3 335.1 L864.2 335.6 L866.2 336.2 L868.2 336.6 L870.2 337.1 L872.2 337.5 L874.2 337.9 L876.1 338.2 L878.1 338.5 L880.1 338.8 L882.1 339.1 L884.1 339.4 L886.0 339.6 L888.0 339.8 L890.0 340.0 L892.0 340.2 L894.0 340.4 L896.0 340.5 L897.9 340.7 L899.9 340.8 L901.9 340.9 L903.9 341.0 L905.9 341.1 L907.8 341.2 L909.8 341.3 L911.8 341.4 L913.8 341.4 L915.8 341.5 L917.8 341.5 L919.7 341.6 L921.7 341.6 L923.7 341.7 L925.7 341.7 L927.7 341.7 L929.6 341.8 L931.6 341.8 L933.6 341.8 L935.6 341.8 L937.6 341.8 L939.6 341.9 L941.5 341.9 L943.5 341.9 L945.5 341.9" fill="none" stroke="#86dc8f" stroke-width="1.35"/>
<path d="M509.5 342.6 L511.5 342.6 L513.5 342.6 L515.4 342.6 L517.4 342.6 L519.4 342.6 L521.4 342.6 L523.4 342.5 L525.4 342.5 L527.3 342.5 L529.3 342.5 L531.3 342.4 L533.3 342.4 L535.3 342.4 L537.2 342.3 L539.2 342.3 L541.2 342.2 L543.2 342.1 L545.2 342.1 L547.2 342.0 L549.1 341.9 L551.1 341.8 L553.1 341.7 L555.1 341.6 L557.1 341.5 L559.0 341.4 L561.0 341.2 L563.0 341.0 L565.0 340.9 L567.0 340.7 L569.0 340.5 L570.9 340.3 L572.9 340.0 L574.9 339.7 L576.9 339.5 L578.9 339.1 L580.8 338.8 L582.8 338.4 L584.8 338.1 L586.8 337.6 L588.8 337.2 L590.8 336.7 L592.7 336.2 L594.7 335.6 L596.7 335.0 L598.7 334.4 L600.7 333.7 L602.6 333.0 L604.6 332.3 L606.6 331.4 L608.6 330.6 L610.6 329.7 L612.6 328.7 L614.5 327.7 L616.5 326.6 L618.5 325.5 L620.5 324.3 L622.5 323.0 L624.4 321.7 L626.4 320.3 L628.4 318.8 L630.4 317.2 L632.4 315.5 L634.4 313.8 L636.3 312.0 L638.3 310.1 L640.3 308.1 L642.3 306.1 L644.3 304.0 L646.2 301.8 L648.2 299.7 L650.2 297.5 L652.2 295.3 L654.2 293.2 L656.2 291.0 L658.1 288.9 L660.1 286.8 L662.1 284.7 L664.1 282.7 L666.1 280.7 L668.0 278.7 L670.0 276.7 L672.0 274.8 L674.0 272.8 L676.0 270.9 L678.0 268.9 L679.9 266.9 L681.9 265.0 L683.9 263.0 L685.9 261.1 L687.9 259.2 L689.8 257.3 L691.8 255.5 L693.8 253.7 L695.8 251.9 L697.8 250.3 L699.8 248.7 L701.7 247.1 L703.7 245.7 L705.7 244.4 L707.7 243.1 L709.7 242.0 L711.6 241.0 L713.6 240.1 L715.6 239.3 L717.6 238.6 L719.6 238.1 L721.6 237.7 L723.5 237.4 L725.5 237.2 L727.5 237.1 L729.5 237.2 L731.5 237.4 L733.4 237.8 L735.4 238.2 L737.4 238.8 L739.4 239.5 L741.4 240.4 L743.4 241.3 L745.3 242.4 L747.3 243.5 L749.3 244.8 L751.3 246.1 L753.3 247.6 L755.2 249.1 L757.2 250.8 L759.2 252.5 L761.2 254.2 L763.2 256.0 L765.2 257.9 L767.1 259.8 L769.1 261.7 L771.1 263.6 L773.1 265.6 L775.1 267.5 L777.0 269.5 L779.0 271.5 L781.0 273.4 L783.0 275.4 L785.0 277.3 L787.0 279.3 L788.9 281.3 L790.9 283.3 L792.9 285.4 L794.9 287.4 L796.9 289.5 L798.8 291.7 L800.8 293.8 L802.8 296.0 L804.8 298.2 L806.8 300.3 L808.8 302.5 L810.7 304.6 L812.7 306.7 L814.7 308.7 L816.7 310.6 L818.7 312.5 L820.6 314.3 L822.6 316.0 L824.6 317.7 L826.6 319.2 L828.6 320.7 L830.6 322.1 L832.5 323.4 L834.5 324.7 L836.5 325.8 L838.5 327.0 L840.5 328.0 L842.4 329.0 L844.4 330.0 L846.4 330.9 L848.4 331.7 L850.4 332.5 L852.4 333.2 L854.3 333.9 L856.3 334.6 L858.3 335.2 L860.3 335.8 L862.3 336.3 L864.2 336.9 L866.2 337.3 L868.2 337.8 L870.2 338.2 L872.2 338.6 L874.2 338.9 L876.1 339.2 L878.1 339.5 L880.1 339.8 L882.1 340.1 L884.1 340.3 L886.0 340.5 L888.0 340.7 L890.0 340.9 L892.0 341.1 L894.0 341.3 L896.0 341.4 L897.9 341.5 L899.9 341.6 L901.9 341.8 L903.9 341.9 L905.9 341.9 L907.8 342.0 L909.8 342.1 L911.8 342.2 L913.8 342.2 L915.8 342.3 L917.8 342.3 L919.7 342.4 L921.7 342.4 L923.7 342.4 L925.7 342.5 L927.7 342.5 L929.6 342.5 L931.6 342.5 L933.6 342.6 L935.6 342.6 L937.6 342.6 L939.6 342.6 L941.5 342.6 L943.5 342.6 L945.5 342.6" fill="none" stroke="#86dc8f" stroke-width="1.35"/>
<path d="M509.5 343.4 L511.5 343.4 L513.5 343.4 L515.4 343.4 L517.4 343.4 L519.4 343.3 L521.4 343.3 L523.4 343.3 L525.4 343.3 L527.3 343.3 L529.3 343.2 L531.3 343.2 L533.3 343.2 L535.3 343.1 L537.2 343.1 L539.2 343.0 L541.2 343.0 L543.2 342.9 L545.2 342.9 L547.2 342.8 L549.1 342.7 L551.1 342.6 L553.1 342.6 L555.1 342.4 L557.1 342.3 L559.0 342.2 L561.0 342.1 L563.0 341.9 L565.0 341.8 L567.0 341.6 L569.0 341.4 L570.9 341.2 L572.9 341.0 L574.9 340.7 L576.9 340.5 L578.9 340.2 L580.8 339.9 L582.8 339.5 L584.8 339.2 L586.8 338.8 L588.8 338.4 L590.8 337.9 L592.7 337.4 L594.7 336.9 L596.7 336.4 L598.7 335.8 L600.7 335.2 L602.6 334.5 L604.6 333.8 L606.6 333.1 L608.6 332.3 L610.6 331.4 L612.6 330.6 L614.5 329.6 L616.5 328.6 L618.5 327.6 L620.5 326.5 L622.5 325.3 L624.4 324.1 L626.4 322.7 L628.4 321.4 L630.4 319.9 L632.4 318.4 L634.4 316.8 L636.3 315.1 L638.3 313.3 L640.3 311.5 L642.3 309.6 L644.3 307.7 L646.2 305.7 L648.2 303.7 L650.2 301.7 L652.2 299.7 L654.2 297.7 L656.2 295.7 L658.1 293.8 L660.1 291.9 L662.1 290.0 L664.1 288.1 L666.1 286.2 L668.0 284.4 L670.0 282.6 L672.0 280.8 L674.0 278.9 L676.0 277.1 L678.0 275.3 L679.9 273.5 L681.9 271.7 L683.9 269.9 L685.9 268.1 L687.9 266.4 L689.8 264.6 L691.8 262.9 L693.8 261.3 L695.8 259.7 L697.8 258.1 L699.8 256.7 L701.7 255.3 L703.7 253.9 L705.7 252.7 L707.7 251.6 L709.7 250.5 L711.6 249.6 L713.6 248.7 L715.6 248.0 L717.6 247.4 L719.6 246.9 L721.6 246.5 L723.5 246.2 L725.5 246.1 L727.5 246.0 L729.5 246.1 L731.5 246.3 L733.4 246.6 L735.4 247.0 L737.4 247.6 L739.4 248.2 L741.4 249.0 L743.4 249.9 L745.3 250.8 L747.3 251.9 L749.3 253.1 L751.3 254.3 L753.3 255.7 L755.2 257.1 L757.2 258.6 L759.2 260.2 L761.2 261.8 L763.2 263.4 L765.2 265.2 L767.1 266.9 L769.1 268.7 L771.1 270.5 L773.1 272.3 L775.1 274.1 L777.0 275.9 L779.0 277.7 L781.0 279.5 L783.0 281.3 L785.0 283.1 L787.0 284.9 L788.9 286.8 L790.9 288.6 L792.9 290.5 L794.9 292.4 L796.9 294.4 L798.8 296.3 L800.8 298.3 L802.8 300.3 L804.8 302.3 L806.8 304.3 L808.8 306.3 L810.7 308.3 L812.7 310.2 L814.7 312.1 L816.7 313.9 L818.7 315.6 L820.6 317.3 L822.6 318.8 L824.6 320.4 L826.6 321.8 L828.6 323.1 L830.6 324.4 L832.5 325.7 L834.5 326.8 L836.5 327.9 L838.5 328.9 L840.5 329.9 L842.4 330.8 L844.4 331.7 L846.4 332.5 L848.4 333.3 L850.4 334.0 L852.4 334.7 L854.3 335.4 L856.3 336.0 L858.3 336.5 L860.3 337.1 L862.3 337.6 L864.2 338.1 L866.2 338.5 L868.2 338.9 L870.2 339.3 L872.2 339.6 L874.2 340.0 L876.1 340.3 L878.1 340.5 L880.1 340.8 L882.1 341.0 L884.1 341.3 L886.0 341.5 L888.0 341.6 L890.0 341.8 L892.0 342.0 L894.0 342.1 L896.0 342.3 L897.9 342.4 L899.9 342.5 L901.9 342.6 L903.9 342.7 L905.9 342.8 L907.8 342.8 L909.8 342.9 L911.8 343.0 L913.8 343.0 L915.8 343.1 L917.8 343.1 L919.7 343.1 L921.7 343.2 L923.7 343.2 L925.7 343.2 L927.7 343.3 L929.6 343.3 L931.6 343.3 L933.6 343.3 L935.6 343.3 L937.6 343.4 L939.6 343.4 L941.5 343.4 L943.5 343.4 L945.5 343.4" fill="none" stroke="#86dc8f" stroke-width="1.35"/>
<path d="M509.5 344.2 L511.5 344.2 L513.5 344.1 L515.4 344.1 L517.4 344.1 L519.4 344.1 L521.4 344.1 L523.4 344.1 L525.4 344.1 L527.3 344.0 L529.3 344.0 L531.3 344.0 L533.3 343.9 L535.3 343.9 L537.2 343.9 L539.2 343.8 L541.2 343.8 L543.2 343.7 L545.2 343.7 L547.2 343.6 L549.1 343.5 L551.1 343.5 L553.1 343.4 L555.1 343.3 L557.1 343.2 L559.0 343.1 L561.0 342.9 L563.0 342.8 L565.0 342.7 L567.0 342.5 L569.0 342.3 L570.9 342.1 L572.9 341.9 L574.9 341.7 L576.9 341.5 L578.9 341.2 L580.8 340.9 L582.8 340.6 L584.8 340.3 L586.8 339.9 L588.8 339.5 L590.8 339.1 L592.7 338.7 L594.7 338.2 L596.7 337.7 L598.7 337.2 L600.7 336.6 L602.6 336.0 L604.6 335.4 L606.6 334.7 L608.6 334.0 L610.6 333.2 L612.6 332.4 L614.5 331.5 L616.5 330.6 L618.5 329.6 L620.5 328.6 L622.5 327.6 L624.4 326.4 L626.4 325.2 L628.4 324.0 L630.4 322.6 L632.4 321.2 L634.4 319.7 L636.3 318.2 L638.3 316.6 L640.3 314.9 L642.3 313.2 L644.3 311.4 L646.2 309.6 L648.2 307.8 L650.2 306.0 L652.2 304.1 L654.2 302.3 L656.2 300.5 L658.1 298.7 L660.1 296.9 L662.1 295.2 L664.1 293.4 L666.1 291.7 L668.0 290.1 L670.0 288.4 L672.0 286.7 L674.0 285.1 L676.0 283.4 L678.0 281.8 L679.9 280.1 L681.9 278.5 L683.9 276.8 L685.9 275.2 L687.9 273.6 L689.8 272.0 L691.8 270.4 L693.8 268.9 L695.8 267.4 L697.8 266.0 L699.8 264.6 L701.7 263.4 L703.7 262.1 L705.7 261.0 L707.7 260.0 L709.7 259.0 L711.6 258.2 L713.6 257.4 L715.6 256.7 L717.6 256.1 L719.6 255.7 L721.6 255.3 L723.5 255.1 L725.5 254.9 L727.5 254.9 L729.5 255.0 L731.5 255.1 L733.4 255.4 L735.4 255.8 L737.4 256.3 L739.4 256.9 L741.4 257.6 L743.4 258.4 L745.3 259.3 L747.3 260.3 L749.3 261.4 L751.3 262.5 L753.3 263.7 L755.2 265.0 L757.2 266.4 L759.2 267.8 L761.2 269.3 L763.2 270.9 L765.2 272.4 L767.1 274.0 L769.1 275.7 L771.1 277.3 L773.1 279.0 L775.1 280.6 L777.0 282.3 L779.0 283.9 L781.0 285.6 L783.0 287.2 L785.0 288.9 L787.0 290.6 L788.9 292.3 L790.9 294.0 L792.9 295.7 L794.9 297.4 L796.9 299.2 L798.8 301.0 L800.8 302.8 L802.8 304.7 L804.8 306.5 L806.8 308.4 L808.8 310.2 L810.7 312.0 L812.7 313.7 L814.7 315.4 L816.7 317.1 L818.7 318.7 L820.6 320.2 L822.6 321.7 L824.6 323.0 L826.6 324.3 L828.6 325.6 L830.6 326.8 L832.5 327.9 L834.5 328.9 L836.5 329.9 L838.5 330.9 L840.5 331.8 L842.4 332.6 L844.4 333.4 L846.4 334.2 L848.4 334.9 L850.4 335.6 L852.4 336.2 L854.3 336.8 L856.3 337.4 L858.3 337.9 L860.3 338.4 L862.3 338.8 L864.2 339.3 L866.2 339.7 L868.2 340.0 L870.2 340.4 L872.2 340.7 L874.2 341.0 L876.1 341.3 L878.1 341.5 L880.1 341.8 L882.1 342.0 L884.1 342.2 L886.0 342.4 L888.0 342.6 L890.0 342.7 L892.0 342.9 L894.0 343.0 L896.0 343.1 L897.9 343.2 L899.9 343.3 L901.9 343.4 L903.9 343.5 L905.9 343.6 L907.8 343.6 L909.8 343.7 L911.8 343.7 L913.8 343.8 L915.8 343.8 L917.8 343.9 L919.7 343.9 L921.7 344.0 L923.7 344.0 L925.7 344.0 L927.7 344.0 L929.6 344.1 L931.6 344.1 L933.6 344.1 L935.6 344.1 L937.6 344.1 L939.6 344.1 L941.5 344.1 L943.5 344.2 L945.5 344.2" fill="none" stroke="#86dc8f" stroke-width="1.35"/>
<path d="M509.5 344.9 L511.5 344.9 L513.5 344.9 L515.4 344.9 L517.4 344.9 L519.4 344.9 L521.4 344.9 L523.4 344.8 L525.4 344.8 L527.3 344.8 L529.3 344.8 L531.3 344.8 L533.3 344.7 L535.3 344.7 L537.2 344.7 L539.2 344.6 L541.2 344.6 L543.2 344.5 L545.2 344.5 L547.2 344.4 L549.1 344.4 L551.1 344.3 L553.1 344.2 L555.1 344.1 L557.1 344.0 L559.0 343.9 L561.0 343.8 L563.0 343.7 L565.0 343.6 L567.0 343.4 L569.0 343.3 L570.9 343.1 L572.9 342.9 L574.9 342.7 L576.9 342.5 L578.9 342.2 L580.8 342.0 L582.8 341.7 L584.8 341.4 L586.8 341.1 L588.8 340.7 L590.8 340.3 L592.7 339.9 L594.7 339.5 L596.7 339.1 L598.7 338.6 L600.7 338.1 L602.6 337.5 L604.6 336.9 L606.6 336.3 L608.6 335.6 L610.6 334.9 L612.6 334.2 L614.5 333.4 L616.5 332.6 L618.5 331.7 L620.5 330.8 L622.5 329.8 L624.4 328.8 L626.4 327.7 L628.4 326.6 L630.4 325.3 L632.4 324.1 L634.4 322.7 L636.3 321.3 L638.3 319.9 L640.3 318.3 L642.3 316.8 L644.3 315.2 L646.2 313.5 L648.2 311.9 L650.2 310.2 L652.2 308.5 L654.2 306.9 L656.2 305.2 L658.1 303.6 L660.1 302.0 L662.1 300.4 L664.1 298.8 L666.1 297.3 L668.0 295.7 L670.0 294.2 L672.0 292.7 L674.0 291.2 L676.0 289.7 L678.0 288.2 L679.9 286.7 L681.9 285.2 L683.9 283.7 L685.9 282.2 L687.9 280.7 L689.8 279.3 L691.8 277.9 L693.8 276.5 L695.8 275.1 L697.8 273.9 L699.8 272.6 L701.7 271.5 L703.7 270.4 L705.7 269.3 L707.7 268.4 L709.7 267.5 L711.6 266.7 L713.6 266.0 L715.6 265.4 L717.6 264.9 L719.6 264.5 L721.6 264.2 L723.5 263.9 L725.5 263.8 L727.5 263.8 L729.5 263.8 L731.5 264.0 L733.4 264.2 L735.4 264.6 L737.4 265.1 L739.4 265.6 L741.4 266.2 L743.4 267.0 L745.3 267.8 L747.3 268.7 L749.3 269.6 L751.3 270.7 L753.3 271.8 L755.2 273.0 L757.2 274.2 L759.2 275.5 L761.2 276.9 L763.2 278.3 L765.2 279.7 L767.1 281.2 L769.1 282.6 L771.1 284.1 L773.1 285.6 L775.1 287.1 L777.0 288.7 L779.0 290.2 L781.0 291.7 L783.0 293.2 L785.0 294.7 L787.0 296.2 L788.9 297.7 L790.9 299.3 L792.9 300.9 L794.9 302.4 L796.9 304.1 L798.8 305.7 L800.8 307.4 L802.8 309.0 L804.8 310.7 L806.8 312.4 L808.8 314.0 L810.7 315.7 L812.7 317.3 L814.7 318.8 L816.7 320.3 L818.7 321.8 L820.6 323.1 L822.6 324.5 L824.6 325.7 L826.6 326.9 L828.6 328.0 L830.6 329.1 L832.5 330.1 L834.5 331.1 L836.5 332.0 L838.5 332.9 L840.5 333.7 L842.4 334.4 L844.4 335.2 L846.4 335.8 L848.4 336.5 L850.4 337.1 L852.4 337.7 L854.3 338.2 L856.3 338.7 L858.3 339.2 L860.3 339.7 L862.3 340.1 L864.2 340.5 L866.2 340.8 L868.2 341.2 L870.2 341.5 L872.2 341.8 L874.2 342.0 L876.1 342.3 L878.1 342.5 L880.1 342.7 L882.1 342.9 L884.1 343.1 L886.0 343.3 L888.0 343.5 L890.0 343.6 L892.0 343.7 L894.0 343.8 L896.0 344.0 L897.9 344.1 L899.9 344.1 L901.9 344.2 L903.9 344.3 L905.9 344.4 L907.8 344.4 L909.8 344.5 L911.8 344.5 L913.8 344.6 L915.8 344.6 L917.8 344.7 L919.7 344.7 L921.7 344.7 L923.7 344.8 L925.7 344.8 L927.7 344.8 L929.6 344.8 L931.6 344.8 L933.6 344.9 L935.6 344.9 L937.6 344.9 L939.6 344.9 L941.5 344.9 L943.5 344.9 L945.5 344.9" fill="none" stroke="#86dc8f" stroke-width="1.35"/>
<path d="M509.5 345.7 L511.5 345.7 L513.5 345.7 L515.4 345.7 L517.4 345.6 L519.4 345.6 L521.4 345.6 L523.4 345.6 L525.4 345.6 L527.3 345.6 L529.3 345.5 L531.3 345.5 L533.3 345.5 L535.3 345.5 L537.2 345.4 L539.2 345.4 L541.2 345.4 L543.2 345.3 L545.2 345.3 L547.2 345.2 L549.1 345.2 L551.1 345.1 L553.1 345.0 L555.1 345.0 L557.1 344.9 L559.0 344.8 L561.0 344.7 L563.0 344.6 L565.0 344.5 L567.0 344.3 L569.0 344.2 L570.9 344.0 L572.9 343.9 L574.9 343.7 L576.9 343.5 L578.9 343.3 L580.8 343.0 L582.8 342.8 L584.8 342.5 L586.8 342.2 L588.8 341.9 L590.8 341.6 L592.7 341.2 L594.7 340.8 L596.7 340.4 L598.7 340.0 L600.7 339.5 L602.6 339.0 L604.6 338.5 L606.6 337.9 L608.6 337.3 L610.6 336.7 L612.6 336.0 L614.5 335.3 L616.5 334.6 L618.5 333.8 L620.5 333.0 L622.5 332.1 L624.4 331.2 L626.4 330.2 L628.4 329.1 L630.4 328.1 L632.4 326.9 L634.4 325.7 L636.3 324.4 L638.3 323.1 L640.3 321.8 L642.3 320.3 L644.3 318.9 L646.2 317.4 L648.2 315.9 L650.2 314.4 L652.2 312.9 L654.2 311.4 L656.2 309.9 L658.1 308.5 L660.1 307.0 L662.1 305.6 L664.1 304.2 L666.1 302.8 L668.0 301.4 L670.0 300.1 L672.0 298.7 L674.0 297.3 L676.0 296.0 L678.0 294.6 L679.9 293.3 L681.9 291.9 L683.9 290.6 L685.9 289.2 L687.9 287.9 L689.8 286.6 L691.8 285.3 L693.8 284.1 L695.8 282.9 L697.8 281.7 L699.8 280.6 L701.7 279.6 L703.7 278.6 L705.7 277.7 L707.7 276.8 L709.7 276.0 L711.6 275.3 L713.6 274.7 L715.6 274.1 L717.6 273.7 L719.6 273.3 L721.6 273.0 L723.5 272.8 L725.5 272.7 L727.5 272.6 L729.5 272.7 L731.5 272.8 L733.4 273.1 L735.4 273.4 L737.4 273.8 L739.4 274.3 L741.4 274.9 L743.4 275.5 L745.3 276.2 L747.3 277.0 L749.3 277.9 L751.3 278.9 L753.3 279.9 L755.2 280.9 L757.2 282.1 L759.2 283.2 L761.2 284.5 L763.2 285.7 L765.2 287.0 L767.1 288.3 L769.1 289.6 L771.1 291.0 L773.1 292.3 L775.1 293.7 L777.0 295.0 L779.0 296.4 L781.0 297.7 L783.0 299.1 L785.0 300.5 L787.0 301.8 L788.9 303.2 L790.9 304.6 L792.9 306.0 L794.9 307.5 L796.9 308.9 L798.8 310.4 L800.8 311.9 L802.8 313.4 L804.8 314.9 L806.8 316.4 L808.8 317.9 L810.7 319.3 L812.7 320.8 L814.7 322.2 L816.7 323.5 L818.7 324.8 L820.6 326.1 L822.6 327.3 L824.6 328.4 L826.6 329.5 L828.6 330.5 L830.6 331.4 L832.5 332.4 L834.5 333.2 L836.5 334.0 L838.5 334.8 L840.5 335.6 L842.4 336.2 L844.4 336.9 L846.4 337.5 L848.4 338.1 L850.4 338.6 L852.4 339.2 L854.3 339.7 L856.3 340.1 L858.3 340.5 L860.3 340.9 L862.3 341.3 L864.2 341.7 L866.2 342.0 L868.2 342.3 L870.2 342.6 L872.2 342.8 L874.2 343.1 L876.1 343.3 L878.1 343.5 L880.1 343.7 L882.1 343.9 L884.1 344.1 L886.0 344.2 L888.0 344.4 L890.0 344.5 L892.0 344.6 L894.0 344.7 L896.0 344.8 L897.9 344.9 L899.9 345.0 L901.9 345.1 L903.9 345.1 L905.9 345.2 L907.8 345.2 L909.8 345.3 L911.8 345.3 L913.8 345.4 L915.8 345.4 L917.8 345.5 L919.7 345.5 L921.7 345.5 L923.7 345.5 L925.7 345.6 L927.7 345.6 L929.6 345.6 L931.6 345.6 L933.6 345.6 L935.6 345.6 L937.6 345.6 L939.6 345.7 L941.5 345.7 L943.5 345.7 L945.5 345.7" fill="none" stroke="#86dc8f" stroke-width="1.35"/>
<path d="M509.5 346.4 L511.5 346.4 L513.5 346.4 L515.4 346.4 L517.4 346.4 L519.4 346.4 L521.4 346.4 L523.4 346.4 L525.4 346.4 L527.3 346.3 L529.3 346.3 L531.3 346.3 L533.3 346.3 L535.3 346.3 L537.2 346.2 L539.2 346.2 L541.2 346.2 L543.2 346.1 L545.2 346.1 L547.2 346.0 L549.1 346.0 L551.1 345.9 L553.1 345.9 L555.1 345.8 L557.1 345.7 L559.0 345.6 L561.0 345.6 L563.0 345.5 L565.0 345.3 L567.0 345.2 L569.0 345.1 L570.9 345.0 L572.9 344.8 L574.9 344.6 L576.9 344.5 L578.9 344.3 L580.8 344.1 L582.8 343.9 L584.8 343.6 L586.8 343.4 L588.8 343.1 L590.8 342.8 L592.7 342.5 L594.7 342.1 L596.7 341.8 L598.7 341.4 L600.7 340.9 L602.6 340.5 L604.6 340.0 L606.6 339.5 L608.6 339.0 L610.6 338.5 L612.6 337.9 L614.5 337.2 L616.5 336.6 L618.5 335.9 L620.5 335.1 L622.5 334.4 L624.4 333.5 L626.4 332.7 L628.4 331.7 L630.4 330.8 L632.4 329.8 L634.4 328.7 L636.3 327.6 L638.3 326.4 L640.3 325.2 L642.3 323.9 L644.3 322.6 L646.2 321.3 L648.2 320.0 L650.2 318.7 L652.2 317.3 L654.2 316.0 L656.2 314.7 L658.1 313.4 L660.1 312.1 L662.1 310.8 L664.1 309.6 L666.1 308.3 L668.0 307.1 L670.0 305.9 L672.0 304.7 L674.0 303.5 L676.0 302.3 L678.0 301.1 L679.9 299.9 L681.9 298.6 L683.9 297.4 L685.9 296.3 L687.9 295.1 L689.8 293.9 L691.8 292.8 L693.8 291.7 L695.8 290.6 L697.8 289.6 L699.8 288.6 L701.7 287.7 L703.7 286.8 L705.7 286.0 L707.7 285.2 L709.7 284.5 L711.6 283.9 L713.6 283.3 L715.6 282.8 L717.6 282.4 L719.6 282.1 L721.6 281.8 L723.5 281.6 L725.5 281.5 L727.5 281.5 L729.5 281.6 L731.5 281.7 L733.4 281.9 L735.4 282.2 L737.4 282.5 L739.4 283.0 L741.4 283.5 L743.4 284.1 L745.3 284.7 L747.3 285.4 L749.3 286.2 L751.3 287.0 L753.3 287.9 L755.2 288.9 L757.2 289.9 L759.2 290.9 L761.2 292.0 L763.2 293.1 L765.2 294.3 L767.1 295.4 L769.1 296.6 L771.1 297.8 L773.1 299.0 L775.1 300.2 L777.0 301.4 L779.0 302.6 L781.0 303.8 L783.0 305.0 L785.0 306.2 L787.0 307.5 L788.9 308.7 L790.9 309.9 L792.9 311.2 L794.9 312.5 L796.9 313.8 L798.8 315.1 L800.8 316.4 L802.8 317.7 L804.8 319.1 L806.8 320.4 L808.8 321.7 L810.7 323.0 L812.7 324.3 L814.7 325.5 L816.7 326.7 L818.7 327.9 L820.6 329.0 L822.6 330.1 L824.6 331.1 L826.6 332.0 L828.6 332.9 L830.6 333.8 L832.5 334.6 L834.5 335.4 L836.5 336.1 L838.5 336.8 L840.5 337.4 L842.4 338.0 L844.4 338.6 L846.4 339.2 L848.4 339.7 L850.4 340.2 L852.4 340.6 L854.3 341.1 L856.3 341.5 L858.3 341.9 L860.3 342.2 L862.3 342.6 L864.2 342.9 L866.2 343.2 L868.2 343.4 L870.2 343.7 L872.2 343.9 L874.2 344.1 L876.1 344.3 L878.1 344.5 L880.1 344.7 L882.1 344.9 L884.1 345.0 L886.0 345.1 L888.0 345.3 L890.0 345.4 L892.0 345.5 L894.0 345.6 L896.0 345.7 L897.9 345.7 L899.9 345.8 L901.9 345.9 L903.9 345.9 L905.9 346.0 L907.8 346.1 L909.8 346.1 L911.8 346.1 L913.8 346.2 L915.8 346.2 L917.8 346.2 L919.7 346.3 L921.7 346.3 L923.7 346.3 L925.7 346.3 L927.7 346.3 L929.6 346.4 L931.6 346.4 L933.6 346.4 L935.6 346.4 L937.6 346.4 L939.6 346.4 L941.5 346.4 L943.5 346.4 L945.5 346.4" fill="none" stroke="#86dc8f" stroke-width="1.35"/>
<path d="M509.5 347.2 L511.5 347.2 L513.5 347.2 L515.4 347.2 L517.4 347.2 L519.4 347.2 L521.4 347.1 L523.4 347.1 L525.4 347.1 L527.3 347.1 L529.3 347.1 L531.3 347.1 L533.3 347.1 L535.3 347.0 L537.2 347.0 L539.2 347.0 L541.2 347.0 L543.2 346.9 L545.2 346.9 L547.2 346.8 L549.1 346.8 L551.1 346.8 L553.1 346.7 L555.1 346.6 L557.1 346.6 L559.0 346.5 L561.0 346.4 L563.0 346.3 L565.0 346.2 L567.0 346.1 L569.0 346.0 L570.9 345.9 L572.9 345.8 L574.9 345.6 L576.9 345.5 L578.9 345.3 L580.8 345.1 L582.8 344.9 L584.8 344.7 L586.8 344.5 L588.8 344.3 L590.8 344.0 L592.7 343.7 L594.7 343.4 L596.7 343.1 L598.7 342.8 L600.7 342.4 L602.6 342.0 L604.6 341.6 L606.6 341.2 L608.6 340.7 L610.6 340.2 L612.6 339.7 L614.5 339.1 L616.5 338.6 L618.5 338.0 L620.5 337.3 L622.5 336.6 L624.4 335.9 L626.4 335.1 L628.4 334.3 L630.4 333.5 L632.4 332.6 L634.4 331.7 L636.3 330.7 L638.3 329.7 L640.3 328.6 L642.3 327.5 L644.3 326.4 L646.2 325.2 L648.2 324.1 L650.2 322.9 L652.2 321.7 L654.2 320.6 L656.2 319.4 L658.1 318.3 L660.1 317.1 L662.1 316.0 L664.1 314.9 L666.1 313.8 L668.0 312.8 L670.0 311.7 L672.0 310.6 L674.0 309.6 L676.0 308.5 L678.0 307.5 L679.9 306.4 L681.9 305.4 L683.9 304.3 L685.9 303.3 L687.9 302.3 L689.8 301.2 L691.8 300.3 L693.8 299.3 L695.8 298.4 L697.8 297.5 L699.8 296.6 L701.7 295.8 L703.7 295.0 L705.7 294.3 L707.7 293.6 L709.7 293.0 L711.6 292.5 L713.6 292.0 L715.6 291.5 L717.6 291.2 L719.6 290.9 L721.6 290.7 L723.5 290.5 L725.5 290.4 L727.5 290.4 L729.5 290.4 L731.5 290.5 L733.4 290.7 L735.4 291.0 L737.4 291.3 L739.4 291.7 L741.4 292.1 L743.4 292.6 L745.3 293.2 L747.3 293.8 L749.3 294.5 L751.3 295.2 L753.3 296.0 L755.2 296.8 L757.2 297.7 L759.2 298.6 L761.2 299.6 L763.2 300.6 L765.2 301.6 L767.1 302.6 L769.1 303.6 L771.1 304.6 L773.1 305.7 L775.1 306.8 L777.0 307.8 L779.0 308.9 L781.0 309.9 L783.0 311.0 L785.0 312.0 L787.0 313.1 L788.9 314.2 L790.9 315.2 L792.9 316.3 L794.9 317.5 L796.9 318.6 L798.8 319.7 L800.8 320.9 L802.8 322.1 L804.8 323.2 L806.8 324.4 L808.8 325.6 L810.7 326.7 L812.7 327.8 L814.7 328.9 L816.7 330.0 L818.7 331.0 L820.6 331.9 L822.6 332.9 L824.6 333.7 L826.6 334.6 L828.6 335.4 L830.6 336.1 L832.5 336.8 L834.5 337.5 L836.5 338.1 L838.5 338.7 L840.5 339.3 L842.4 339.9 L844.4 340.4 L846.4 340.8 L848.4 341.3 L850.4 341.7 L852.4 342.1 L854.3 342.5 L856.3 342.9 L858.3 343.2 L860.3 343.5 L862.3 343.8 L864.2 344.1 L866.2 344.3 L868.2 344.6 L870.2 344.8 L872.2 345.0 L874.2 345.2 L876.1 345.4 L878.1 345.5 L880.1 345.7 L882.1 345.8 L884.1 345.9 L886.0 346.1 L888.0 346.2 L890.0 346.3 L892.0 346.4 L894.0 346.4 L896.0 346.5 L897.9 346.6 L899.9 346.7 L901.9 346.7 L903.9 346.8 L905.9 346.8 L907.8 346.9 L909.8 346.9 L911.8 346.9 L913.8 347.0 L915.8 347.0 L917.8 347.0 L919.7 347.0 L921.7 347.1 L923.7 347.1 L925.7 347.1 L927.7 347.1 L929.6 347.1 L931.6 347.1 L933.6 347.2 L935.6 347.2 L937.6 347.2 L939.6 347.2 L941.5 347.2 L943.5 347.2 L945.5 347.2" fill="none" stroke="#86dc8f" stroke-width="1.35"/>
<path d="M509.5 348.0 L511.5 347.9 L513.5 347.9 L515.4 347.9 L517.4 347.9 L519.4 347.9 L521.4 347.9 L523.4 347.9 L525.4 347.9 L527.3 347.9 L529.3 347.9 L531.3 347.9 L533.3 347.8 L535.3 347.8 L537.2 347.8 L539.2 347.8 L541.2 347.7 L543.2 347.7 L545.2 347.7 L547.2 347.7 L549.1 347.6 L551.1 347.6 L553.1 347.5 L555.1 347.5 L557.1 347.4 L559.0 347.4 L561.0 347.3 L563.0 347.2 L565.0 347.1 L567.0 347.0 L569.0 347.0 L570.9 346.8 L572.9 346.7 L574.9 346.6 L576.9 346.5 L578.9 346.3 L580.8 346.2 L582.8 346.0 L584.8 345.8 L586.8 345.6 L588.8 345.4 L590.8 345.2 L592.7 345.0 L594.7 344.7 L596.7 344.4 L598.7 344.1 L600.7 343.8 L602.6 343.5 L604.6 343.2 L606.6 342.8 L608.6 342.4 L610.6 342.0 L612.6 341.5 L614.5 341.1 L616.5 340.6 L618.5 340.0 L620.5 339.5 L622.5 338.9 L624.4 338.3 L626.4 337.6 L628.4 336.9 L630.4 336.2 L632.4 335.4 L634.4 334.6 L636.3 333.8 L638.3 332.9 L640.3 332.0 L642.3 331.1 L644.3 330.1 L646.2 329.1 L648.2 328.1 L650.2 327.1 L652.2 326.1 L654.2 325.1 L656.2 324.1 L658.1 323.1 L660.1 322.2 L662.1 321.2 L664.1 320.3 L666.1 319.4 L668.0 318.4 L670.0 317.5 L672.0 316.6 L674.0 315.7 L676.0 314.8 L678.0 313.9 L679.9 313.0 L681.9 312.1 L683.9 311.2 L685.9 310.3 L687.9 309.4 L689.8 308.6 L691.8 307.7 L693.8 306.9 L695.8 306.1 L697.8 305.3 L699.8 304.6 L701.7 303.9 L703.7 303.2 L705.7 302.6 L707.7 302.0 L709.7 301.5 L711.6 301.0 L713.6 300.6 L715.6 300.3 L717.6 299.9 L719.6 299.7 L721.6 299.5 L723.5 299.4 L725.5 299.3 L727.5 299.3 L729.5 299.3 L731.5 299.4 L733.4 299.5 L735.4 299.8 L737.4 300.0 L739.4 300.4 L741.4 300.7 L743.4 301.2 L745.3 301.7 L747.3 302.2 L749.3 302.8 L751.3 303.4 L753.3 304.1 L755.2 304.8 L757.2 305.5 L759.2 306.3 L761.2 307.1 L763.2 308.0 L765.2 308.8 L767.1 309.7 L769.1 310.6 L771.1 311.5 L773.1 312.4 L775.1 313.3 L777.0 314.2 L779.0 315.1 L781.0 316.0 L783.0 316.9 L785.0 317.8 L787.0 318.7 L788.9 319.6 L790.9 320.6 L792.9 321.5 L794.9 322.5 L796.9 323.4 L798.8 324.4 L800.8 325.4 L802.8 326.4 L804.8 327.4 L806.8 328.4 L808.8 329.4 L810.7 330.4 L812.7 331.4 L814.7 332.3 L816.7 333.2 L818.7 334.1 L820.6 334.9 L822.6 335.7 L824.6 336.4 L826.6 337.1 L828.6 337.8 L830.6 338.5 L832.5 339.1 L834.5 339.7 L836.5 340.2 L838.5 340.7 L840.5 341.2 L842.4 341.7 L844.4 342.1 L846.4 342.5 L848.4 342.9 L850.4 343.3 L852.4 343.6 L854.3 343.9 L856.3 344.2 L858.3 344.5 L860.3 344.8 L862.3 345.0 L864.2 345.3 L866.2 345.5 L868.2 345.7 L870.2 345.9 L872.2 346.1 L874.2 346.2 L876.1 346.4 L878.1 346.5 L880.1 346.6 L882.1 346.8 L884.1 346.9 L886.0 347.0 L888.0 347.1 L890.0 347.2 L892.0 347.2 L894.0 347.3 L896.0 347.4 L897.9 347.4 L899.9 347.5 L901.9 347.5 L903.9 347.6 L905.9 347.6 L907.8 347.7 L909.8 347.7 L911.8 347.7 L913.8 347.8 L915.8 347.8 L917.8 347.8 L919.7 347.8 L921.7 347.8 L923.7 347.9 L925.7 347.9 L927.7 347.9 L929.6 347.9 L931.6 347.9 L933.6 347.9 L935.6 347.9 L937.6 347.9 L939.6 347.9 L941.5 347.9 L943.5 347.9 L945.5 348.0" fill="none" stroke="#86dc8f" stroke-width="1.35"/>
<path d="M509.5 348.7 L511.5 348.7 L513.5 348.7 L515.4 348.7 L517.4 348.7 L519.4 348.7 L521.4 348.7 L523.4 348.7 L525.4 348.7 L527.3 348.6 L529.3 348.6 L531.3 348.6 L533.3 348.6 L535.3 348.6 L537.2 348.6 L539.2 348.6 L541.2 348.5 L543.2 348.5 L545.2 348.5 L547.2 348.5 L549.1 348.4 L551.1 348.4 L553.1 348.4 L555.1 348.3 L557.1 348.3 L559.0 348.2 L561.0 348.2 L563.0 348.1 L565.0 348.0 L567.0 348.0 L569.0 347.9 L570.9 347.8 L572.9 347.7 L574.9 347.6 L576.9 347.5 L578.9 347.4 L580.8 347.2 L582.8 347.1 L584.8 346.9 L586.8 346.8 L588.8 346.6 L590.8 346.4 L592.7 346.2 L594.7 346.0 L596.7 345.8 L598.7 345.5 L600.7 345.3 L602.6 345.0 L604.6 344.7 L606.6 344.4 L608.6 344.1 L610.6 343.7 L612.6 343.4 L614.5 343.0 L616.5 342.5 L618.5 342.1 L620.5 341.7 L622.5 341.2 L624.4 340.6 L626.4 340.1 L628.4 339.5 L630.4 338.9 L632.4 338.3 L634.4 337.6 L636.3 336.9 L638.3 336.2 L640.3 335.4 L642.3 334.6 L644.3 333.8 L646.2 333.0 L648.2 332.2 L650.2 331.3 L652.2 330.5 L654.2 329.7 L656.2 328.9 L658.1 328.0 L660.1 327.2 L662.1 326.4 L664.1 325.7 L666.1 324.9 L668.0 324.1 L670.0 323.4 L672.0 322.6 L674.0 321.9 L676.0 321.1 L678.0 320.3 L679.9 319.6 L681.9 318.8 L683.9 318.1 L685.9 317.4 L687.9 316.6 L689.8 315.9 L691.8 315.2 L693.8 314.5 L695.8 313.8 L697.8 313.2 L699.8 312.6 L701.7 312.0 L703.7 311.4 L705.7 310.9 L707.7 310.4 L709.7 310.0 L711.6 309.6 L713.6 309.3 L715.6 309.0 L717.6 308.7 L719.6 308.5 L721.6 308.3 L723.5 308.2 L725.5 308.1 L727.5 308.1 L729.5 308.2 L731.5 308.2 L733.4 308.4 L735.4 308.6 L737.4 308.8 L739.4 309.0 L741.4 309.4 L743.4 309.7 L745.3 310.1 L747.3 310.6 L749.3 311.1 L751.3 311.6 L753.3 312.2 L755.2 312.7 L757.2 313.4 L759.2 314.0 L761.2 314.7 L763.2 315.4 L765.2 316.1 L767.1 316.8 L769.1 317.6 L771.1 318.3 L773.1 319.1 L775.1 319.8 L777.0 320.6 L779.0 321.3 L781.0 322.1 L783.0 322.8 L785.0 323.6 L787.0 324.4 L788.9 325.1 L790.9 325.9 L792.9 326.7 L794.9 327.5 L796.9 328.3 L798.8 329.1 L800.8 329.9 L802.8 330.8 L804.8 331.6 L806.8 332.4 L808.8 333.3 L810.7 334.1 L812.7 334.9 L814.7 335.7 L816.7 336.4 L818.7 337.1 L820.6 337.8 L822.6 338.5 L824.6 339.1 L826.6 339.7 L828.6 340.3 L830.6 340.8 L832.5 341.3 L834.5 341.8 L836.5 342.2 L838.5 342.7 L840.5 343.1 L842.4 343.5 L844.4 343.8 L846.4 344.2 L848.4 344.5 L850.4 344.8 L852.4 345.1 L854.3 345.4 L856.3 345.6 L858.3 345.9 L860.3 346.1 L862.3 346.3 L864.2 346.5 L866.2 346.7 L868.2 346.8 L870.2 347.0 L872.2 347.1 L874.2 347.3 L876.1 347.4 L878.1 347.5 L880.1 347.6 L882.1 347.7 L884.1 347.8 L886.0 347.9 L888.0 348.0 L890.0 348.0 L892.0 348.1 L894.0 348.2 L896.0 348.2 L897.9 348.3 L899.9 348.3 L901.9 348.4 L903.9 348.4 L905.9 348.4 L907.8 348.5 L909.8 348.5 L911.8 348.5 L913.8 348.5 L915.8 348.6 L917.8 348.6 L919.7 348.6 L921.7 348.6 L923.7 348.6 L925.7 348.6 L927.7 348.7 L929.6 348.7 L931.6 348.7 L933.6 348.7 L935.6 348.7 L937.6 348.7 L939.6 348.7 L941.5 348.7 L943.5 348.7 L945.5 348.7" fill="none" stroke="#86dc8f" stroke-width="1.35"/>
<path d="M509.5 349.5 L511.5 349.5 L513.5 349.5 L515.4 349.5 L517.4 349.5 L519.4 349.4 L521.4 349.4 L523.4 349.4 L525.4 349.4 L527.3 349.4 L529.3 349.4 L531.3 349.4 L533.3 349.4 L535.3 349.4 L537.2 349.4 L539.2 349.3 L541.2 349.3 L543.2 349.3 L545.2 349.3 L547.2 349.3 L549.1 349.2 L551.1 349.2 L553.1 349.2 L555.1 349.1 L557.1 349.1 L559.0 349.1 L561.0 349.0 L563.0 349.0 L565.0 348.9 L567.0 348.9 L569.0 348.8 L570.9 348.7 L572.9 348.7 L574.9 348.6 L576.9 348.5 L578.9 348.4 L580.8 348.3 L582.8 348.2 L584.8 348.1 L586.8 347.9 L588.8 347.8 L590.8 347.6 L592.7 347.5 L594.7 347.3 L596.7 347.1 L598.7 346.9 L600.7 346.7 L602.6 346.5 L604.6 346.3 L606.6 346.0 L608.6 345.8 L610.6 345.5 L612.6 345.2 L614.5 344.9 L616.5 344.5 L618.5 344.2 L620.5 343.8 L622.5 343.4 L624.4 343.0 L626.4 342.6 L628.4 342.1 L630.4 341.6 L632.4 341.1 L634.4 340.6 L636.3 340.0 L638.3 339.4 L640.3 338.8 L642.3 338.2 L644.3 337.6 L646.2 336.9 L648.2 336.2 L650.2 335.6 L652.2 334.9 L654.2 334.2 L656.2 333.6 L658.1 332.9 L660.1 332.3 L662.1 331.7 L664.1 331.0 L666.1 330.4 L668.0 329.8 L670.0 329.2 L672.0 328.6 L674.0 328.0 L676.0 327.4 L678.0 326.8 L679.9 326.2 L681.9 325.6 L683.9 325.0 L685.9 324.4 L687.9 323.8 L689.8 323.2 L691.8 322.6 L693.8 322.1 L695.8 321.6 L697.8 321.0 L699.8 320.6 L701.7 320.1 L703.7 319.6 L705.7 319.2 L707.7 318.9 L709.7 318.5 L711.6 318.2 L713.6 317.9 L715.6 317.7 L717.6 317.5 L719.6 317.3 L721.6 317.2 L723.5 317.1 L725.5 317.0 L727.5 317.0 L729.5 317.0 L731.5 317.1 L733.4 317.2 L735.4 317.3 L737.4 317.5 L739.4 317.7 L741.4 318.0 L743.4 318.3 L745.3 318.6 L747.3 319.0 L749.3 319.4 L751.3 319.8 L753.3 320.2 L755.2 320.7 L757.2 321.2 L759.2 321.7 L761.2 322.3 L763.2 322.8 L765.2 323.4 L767.1 324.0 L769.1 324.6 L771.1 325.2 L773.1 325.8 L775.1 326.4 L777.0 327.0 L779.0 327.6 L781.0 328.2 L783.0 328.8 L785.0 329.4 L787.0 330.0 L788.9 330.6 L790.9 331.2 L792.9 331.8 L794.9 332.5 L796.9 333.1 L798.8 333.8 L800.8 334.4 L802.8 335.1 L804.8 335.8 L806.8 336.4 L808.8 337.1 L810.7 337.8 L812.7 338.4 L814.7 339.0 L816.7 339.6 L818.7 340.2 L820.6 340.8 L822.6 341.3 L824.6 341.8 L826.6 342.3 L828.6 342.7 L830.6 343.1 L832.5 343.6 L834.5 343.9 L836.5 344.3 L838.5 344.6 L840.5 345.0 L842.4 345.3 L844.4 345.6 L846.4 345.8 L848.4 346.1 L850.4 346.3 L852.4 346.6 L854.3 346.8 L856.3 347.0 L858.3 347.2 L860.3 347.4 L862.3 347.5 L864.2 347.7 L866.2 347.8 L868.2 348.0 L870.2 348.1 L872.2 348.2 L874.2 348.3 L876.1 348.4 L878.1 348.5 L880.1 348.6 L882.1 348.7 L884.1 348.8 L886.0 348.8 L888.0 348.9 L890.0 348.9 L892.0 349.0 L894.0 349.0 L896.0 349.1 L897.9 349.1 L899.9 349.2 L901.9 349.2 L903.9 349.2 L905.9 349.3 L907.8 349.3 L909.8 349.3 L911.8 349.3 L913.8 349.3 L915.8 349.4 L917.8 349.4 L919.7 349.4 L921.7 349.4 L923.7 349.4 L925.7 349.4 L927.7 349.4 L929.6 349.4 L931.6 349.4 L933.6 349.4 L935.6 349.4 L937.6 349.5 L939.6 349.5 L941.5 349.5 L943.5 349.5 L945.5 349.5" fill="none" stroke="#86dc8f" stroke-width="1.35"/>
<path d="M509.5 350.2 L511.5 350.2 L513.5 350.2 L515.4 350.2 L517.4 350.2 L519.4 350.2 L521.4 350.2 L523.4 350.2 L525.4 350.2 L527.3 350.2 L529.3 350.2 L531.3 350.2 L533.3 350.2 L535.3 350.2 L537.2 350.1 L539.2 350.1 L541.2 350.1 L543.2 350.1 L545.2 350.1 L547.2 350.1 L549.1 350.1 L551.1 350.0 L553.1 350.0 L555.1 350.0 L557.1 350.0 L559.0 349.9 L561.0 349.9 L563.0 349.9 L565.0 349.8 L567.0 349.8 L569.0 349.7 L570.9 349.7 L572.9 349.6 L574.9 349.6 L576.9 349.5 L578.9 349.4 L580.8 349.3 L582.8 349.3 L584.8 349.2 L586.8 349.1 L588.8 349.0 L590.8 348.9 L592.7 348.7 L594.7 348.6 L596.7 348.5 L598.7 348.3 L600.7 348.2 L602.6 348.0 L604.6 347.8 L606.6 347.6 L608.6 347.4 L610.6 347.2 L612.6 347.0 L614.5 346.8 L616.5 346.5 L618.5 346.3 L620.5 346.0 L622.5 345.7 L624.4 345.4 L626.4 345.1 L628.4 344.7 L630.4 344.4 L632.4 344.0 L634.4 343.6 L636.3 343.1 L638.3 342.7 L640.3 342.3 L642.3 341.8 L644.3 341.3 L646.2 340.8 L648.2 340.3 L650.2 339.8 L652.2 339.3 L654.2 338.8 L656.2 338.3 L658.1 337.8 L660.1 337.3 L662.1 336.9 L664.1 336.4 L666.1 335.9 L668.0 335.5 L670.0 335.0 L672.0 334.6 L674.0 334.1 L676.0 333.7 L678.0 333.2 L679.9 332.8 L681.9 332.3 L683.9 331.9 L685.9 331.4 L687.9 331.0 L689.8 330.5 L691.8 330.1 L693.8 329.7 L695.8 329.3 L697.8 328.9 L699.8 328.5 L701.7 328.2 L703.7 327.9 L705.7 327.6 L707.7 327.3 L709.7 327.0 L711.6 326.8 L713.6 326.6 L715.6 326.4 L717.6 326.2 L719.6 326.1 L721.6 326.0 L723.5 325.9 L725.5 325.9 L727.5 325.9 L729.5 325.9 L731.5 325.9 L733.4 326.0 L735.4 326.1 L737.4 326.3 L739.4 326.4 L741.4 326.6 L743.4 326.8 L745.3 327.1 L747.3 327.3 L749.3 327.6 L751.3 328.0 L753.3 328.3 L755.2 328.6 L757.2 329.0 L759.2 329.4 L761.2 329.8 L763.2 330.2 L765.2 330.7 L767.1 331.1 L769.1 331.5 L771.1 332.0 L773.1 332.4 L775.1 332.9 L777.0 333.3 L779.0 333.8 L781.0 334.2 L783.0 334.7 L785.0 335.2 L787.0 335.6 L788.9 336.1 L790.9 336.5 L792.9 337.0 L794.9 337.5 L796.9 338.0 L798.8 338.5 L800.8 339.0 L802.8 339.5 L804.8 340.0 L806.8 340.5 L808.8 341.0 L810.7 341.4 L812.7 341.9 L814.7 342.4 L816.7 342.8 L818.7 343.3 L820.6 343.7 L822.6 344.1 L824.6 344.5 L826.6 344.8 L828.6 345.2 L830.6 345.5 L832.5 345.8 L834.5 346.1 L836.5 346.3 L838.5 346.6 L840.5 346.9 L842.4 347.1 L844.4 347.3 L846.4 347.5 L848.4 347.7 L850.4 347.9 L852.4 348.1 L854.3 348.2 L856.3 348.4 L858.3 348.5 L860.3 348.6 L862.3 348.8 L864.2 348.9 L866.2 349.0 L868.2 349.1 L870.2 349.2 L872.2 349.3 L874.2 349.4 L876.1 349.4 L878.1 349.5 L880.1 349.6 L882.1 349.6 L884.1 349.7 L886.0 349.7 L888.0 349.8 L890.0 349.8 L892.0 349.9 L894.0 349.9 L896.0 349.9 L897.9 350.0 L899.9 350.0 L901.9 350.0 L903.9 350.0 L905.9 350.1 L907.8 350.1 L909.8 350.1 L911.8 350.1 L913.8 350.1 L915.8 350.1 L917.8 350.2 L919.7 350.2 L921.7 350.2 L923.7 350.2 L925.7 350.2 L927.7 350.2 L929.6 350.2 L931.6 350.2 L933.6 350.2 L935.6 350.2 L937.6 350.2 L939.6 350.2 L941.5 350.2 L943.5 350.2 L945.5 350.2" fill="none" stroke="#86dc8f" stroke-width="1.35"/>
<path d="M509.5 351.0 L511.5 351.0 L513.5 351.0 L515.4 351.0 L517.4 351.0 L519.4 351.0 L521.4 351.0 L523.4 351.0 L525.4 351.0 L527.3 351.0 L529.3 351.0 L531.3 351.0 L533.3 350.9 L535.3 350.9 L537.2 350.9 L539.2 350.9 L541.2 350.9 L543.2 350.9 L545.2 350.9 L547.2 350.9 L549.1 350.9 L551.1 350.9 L553.1 350.8 L555.1 350.8 L557.1 350.8 L559.0 350.8 L561.0 350.8 L563.0 350.7 L565.0 350.7 L567.0 350.7 L569.0 350.7 L570.9 350.6 L572.9 350.6 L574.9 350.5 L576.9 350.5 L578.9 350.4 L580.8 350.4 L582.8 350.3 L584.8 350.3 L586.8 350.2 L588.8 350.1 L590.8 350.1 L592.7 350.0 L594.7 349.9 L596.7 349.8 L598.7 349.7 L600.7 349.6 L602.6 349.5 L604.6 349.4 L606.6 349.3 L608.6 349.1 L610.6 349.0 L612.6 348.8 L614.5 348.7 L616.5 348.5 L618.5 348.3 L620.5 348.2 L622.5 348.0 L624.4 347.8 L626.4 347.5 L628.4 347.3 L630.4 347.1 L632.4 346.8 L634.4 346.5 L636.3 346.3 L638.3 346.0 L640.3 345.7 L642.3 345.4 L644.3 345.0 L646.2 344.7 L648.2 344.4 L650.2 344.0 L652.2 343.7 L654.2 343.4 L656.2 343.0 L658.1 342.7 L660.1 342.4 L662.1 342.1 L664.1 341.8 L666.1 341.5 L668.0 341.1 L670.0 340.8 L672.0 340.5 L674.0 340.2 L676.0 339.9 L678.0 339.6 L679.9 339.3 L681.9 339.0 L683.9 338.7 L685.9 338.4 L687.9 338.1 L689.8 337.9 L691.8 337.6 L693.8 337.3 L695.8 337.0 L697.8 336.8 L699.8 336.5 L701.7 336.3 L703.7 336.1 L705.7 335.9 L707.7 335.7 L709.7 335.5 L711.6 335.3 L713.6 335.2 L715.6 335.1 L717.6 335.0 L719.6 334.9 L721.6 334.8 L723.5 334.8 L725.5 334.8 L727.5 334.8 L729.5 334.8 L731.5 334.8 L733.4 334.8 L735.4 334.9 L737.4 335.0 L739.4 335.1 L741.4 335.2 L743.4 335.4 L745.3 335.6 L747.3 335.7 L749.3 335.9 L751.3 336.1 L753.3 336.4 L755.2 336.6 L757.2 336.8 L759.2 337.1 L761.2 337.4 L763.2 337.7 L765.2 337.9 L767.1 338.2 L769.1 338.5 L771.1 338.8 L773.1 339.1 L775.1 339.4 L777.0 339.7 L779.0 340.0 L781.0 340.3 L783.0 340.6 L785.0 340.9 L787.0 341.2 L788.9 341.5 L790.9 341.9 L792.9 342.2 L794.9 342.5 L796.9 342.8 L798.8 343.1 L800.8 343.5 L802.8 343.8 L804.8 344.1 L806.8 344.5 L808.8 344.8 L810.7 345.1 L812.7 345.5 L814.7 345.8 L816.7 346.1 L818.7 346.4 L820.6 346.6 L822.6 346.9 L824.6 347.1 L826.6 347.4 L828.6 347.6 L830.6 347.8 L832.5 348.0 L834.5 348.2 L836.5 348.4 L838.5 348.6 L840.5 348.7 L842.4 348.9 L844.4 349.0 L846.4 349.2 L848.4 349.3 L850.4 349.4 L852.4 349.5 L854.3 349.6 L856.3 349.7 L858.3 349.8 L860.3 349.9 L862.3 350.0 L864.2 350.1 L866.2 350.2 L868.2 350.2 L870.2 350.3 L872.2 350.4 L874.2 350.4 L876.1 350.5 L878.1 350.5 L880.1 350.5 L882.1 350.6 L884.1 350.6 L886.0 350.7 L888.0 350.7 L890.0 350.7 L892.0 350.7 L894.0 350.8 L896.0 350.8 L897.9 350.8 L899.9 350.8 L901.9 350.8 L903.9 350.9 L905.9 350.9 L907.8 350.9 L909.8 350.9 L911.8 350.9 L913.8 350.9 L915.8 350.9 L917.8 350.9 L919.7 350.9 L921.7 350.9 L923.7 351.0 L925.7 351.0 L927.7 351.0 L929.6 351.0 L931.6 351.0 L933.6 351.0 L935.6 351.0 L937.6 351.0 L939.6 351.0 L941.5 351.0 L943.5 351.0 L945.5 351.0" fill="none" stroke="#86dc8f" stroke-width="1.35"/>
<path d="M509.5 351.7 L511.5 351.7 L513.5 351.7 L515.4 351.7 L517.4 351.7 L519.4 351.7 L521.4 351.7 L523.4 351.7 L525.4 351.7 L527.3 351.7 L529.3 351.7 L531.3 351.7 L533.3 351.7 L535.3 351.7 L537.2 351.7 L539.2 351.7 L541.2 351.7 L543.2 351.7 L545.2 351.7 L547.2 351.7 L549.1 351.7 L551.1 351.7 L553.1 351.7 L555.1 351.7 L557.1 351.7 L559.0 351.6 L561.0 351.6 L563.0 351.6 L565.0 351.6 L567.0 351.6 L569.0 351.6 L570.9 351.6 L572.9 351.5 L574.9 351.5 L576.9 351.5 L578.9 351.5 L580.8 351.4 L582.8 351.4 L584.8 351.4 L586.8 351.4 L588.8 351.3 L590.8 351.3 L592.7 351.2 L594.7 351.2 L596.7 351.2 L598.7 351.1 L600.7 351.1 L602.6 351.0 L604.6 350.9 L606.6 350.9 L608.6 350.8 L610.6 350.7 L612.6 350.7 L614.5 350.6 L616.5 350.5 L618.5 350.4 L620.5 350.3 L622.5 350.2 L624.4 350.1 L626.4 350.0 L628.4 349.9 L630.4 349.8 L632.4 349.7 L634.4 349.5 L636.3 349.4 L638.3 349.2 L640.3 349.1 L642.3 348.9 L644.3 348.8 L646.2 348.6 L648.2 348.4 L650.2 348.3 L652.2 348.1 L654.2 347.9 L656.2 347.8 L658.1 347.6 L660.1 347.4 L662.1 347.3 L664.1 347.1 L666.1 347.0 L668.0 346.8 L670.0 346.7 L672.0 346.5 L674.0 346.4 L676.0 346.2 L678.0 346.1 L679.9 345.9 L681.9 345.8 L683.9 345.6 L685.9 345.5 L687.9 345.3 L689.8 345.2 L691.8 345.0 L693.8 344.9 L695.8 344.8 L697.8 344.6 L699.8 344.5 L701.7 344.4 L703.7 344.3 L705.7 344.2 L707.7 344.1 L709.7 344.0 L711.6 343.9 L713.6 343.9 L715.6 343.8 L717.6 343.7 L719.6 343.7 L721.6 343.7 L723.5 343.6 L725.5 343.6 L727.5 343.6 L729.5 343.6 L731.5 343.6 L733.4 343.7 L735.4 343.7 L737.4 343.8 L739.4 343.8 L741.4 343.9 L743.4 343.9 L745.3 344.0 L747.3 344.1 L749.3 344.2 L751.3 344.3 L753.3 344.4 L755.2 344.5 L757.2 344.7 L759.2 344.8 L761.2 344.9 L763.2 345.1 L765.2 345.2 L767.1 345.4 L769.1 345.5 L771.1 345.7 L773.1 345.8 L775.1 346.0 L777.0 346.1 L779.0 346.3 L781.0 346.4 L783.0 346.6 L785.0 346.7 L787.0 346.9 L788.9 347.0 L790.9 347.2 L792.9 347.3 L794.9 347.5 L796.9 347.7 L798.8 347.8 L800.8 348.0 L802.8 348.2 L804.8 348.3 L806.8 348.5 L808.8 348.7 L810.7 348.8 L812.7 349.0 L814.7 349.1 L816.7 349.3 L818.7 349.4 L820.6 349.6 L822.6 349.7 L824.6 349.8 L826.6 349.9 L828.6 350.1 L830.6 350.2 L832.5 350.3 L834.5 350.4 L836.5 350.4 L838.5 350.5 L840.5 350.6 L842.4 350.7 L844.4 350.8 L846.4 350.8 L848.4 350.9 L850.4 351.0 L852.4 351.0 L854.3 351.1 L856.3 351.1 L858.3 351.2 L860.3 351.2 L862.3 351.3 L864.2 351.3 L866.2 351.3 L868.2 351.4 L870.2 351.4 L872.2 351.4 L874.2 351.5 L876.1 351.5 L878.1 351.5 L880.1 351.5 L882.1 351.5 L884.1 351.6 L886.0 351.6 L888.0 351.6 L890.0 351.6 L892.0 351.6 L894.0 351.6 L896.0 351.6 L897.9 351.7 L899.9 351.7 L901.9 351.7 L903.9 351.7 L905.9 351.7 L907.8 351.7 L909.8 351.7 L911.8 351.7 L913.8 351.7 L915.8 351.7 L917.8 351.7 L919.7 351.7 L921.7 351.7 L923.7 351.7 L925.7 351.7 L927.7 351.7 L929.6 351.7 L931.6 351.7 L933.6 351.7 L935.6 351.7 L937.6 351.7 L939.6 351.7 L941.5 351.7 L943.5 351.7 L945.5 351.7" fill="none" stroke="#86dc8f" stroke-width="1.35"/>

  <rect x="655.5" y="230" width="5" height="122.5" fill="#0e1540" clip-path="url(#bellclip)"/>
  <path d="M649.5 208.5 L666.5 208.5 L658 223.7 Z" fill="#000"/>
  <path d="M649.5 376.7 L666.5 376.7 L658 363 Z" fill="#000"/>
</svg>
<div class="abs" style="left:510px;top:380.7px;font-size:12px;color:#1e1e24">Unterdurchschnittlich</div>
<div class="abs" style="left:686px;top:380.7px;font-size:12px;color:#1e1e24">Durchschnittlich</div>
<div class="abs" style="right:79px;top:380.7px;font-size:12px;color:#1e1e24">Überdurchschnittlich</div>

<!-- Card 4: Pruefungen -->
<div class="card" style="left:56px;top:434px;width:677px;height:218px"></div>
<div class="lab" style="left:56px;top:434px;width:29px;height:218px"><span style="letter-spacing:1.5px">PRÜFUNGEN</span></div>
<div class="item" style="top:466.9px">Batteriemanagementsystem (BMS)</div>
<div class="item" style="top:500.6px">Batteriesensor</div>
<div class="item" style="top:533.7px">Batteriemessungen</div>
<div class="item" style="top:567.5px">Batterie-Zellspannung</div>
<div class="item" style="top:600.6px">Fahrzeug-Kommunikation</div>
<div class="row" style="top:485px"></div>
<div class="row" style="top:519px"></div>
<div class="row" style="top:552px"></div>
<div class="row" style="top:585px"></div>
<div class="row" style="top:619px"></div>
<svg class="chk" style="top:471px" viewBox="0 0 14 10"><path d="M1.5 4.8 L5 8.3 L12.5 1.5" stroke="#141a3c" stroke-width="2.1" fill="none" stroke-linecap="round" stroke-linejoin="round"/></svg>
<svg class="chk" style="top:503.5px" viewBox="0 0 14 10"><path d="M1.5 4.8 L5 8.3 L12.5 1.5" stroke="#141a3c" stroke-width="2.1" fill="none" stroke-linecap="round" stroke-linejoin="round"/></svg>
<svg class="chk" style="top:537px" viewBox="0 0 14 10"><path d="M1.5 4.8 L5 8.3 L12.5 1.5" stroke="#141a3c" stroke-width="2.1" fill="none" stroke-linecap="round" stroke-linejoin="round"/></svg>
<svg class="chk" style="top:570.5px" viewBox="0 0 14 10"><path d="M1.5 4.8 L5 8.3 L12.5 1.5" stroke="#141a3c" stroke-width="2.1" fill="none" stroke-linecap="round" stroke-linejoin="round"/></svg>
<svg class="chk" style="top:603.5px" viewBox="0 0 14 10"><path d="M1.5 4.8 L5 8.3 L12.5 1.5" stroke="#141a3c" stroke-width="2.1" fill="none" stroke-linecap="round" stroke-linejoin="round"/></svg>

<!-- QR card -->
<div class="abs" style="left:753px;top:434px;width:218px;height:218px;background:#2aa3e2;overflow:hidden">
  <svg width="218" height="218" viewBox="0 0 218 218" style="position:absolute;left:0;top:0"><path d="M0.0 -15.3 L4.0 -13.7 L8.0 -12.0 L12.0 -10.3 L16.0 -8.8 L20.0 -7.6 L24.0 -6.8 L28.0 -6.4 L32.0 -6.5 L36.0 -7.1 L40.0 -8.0 L44.0 -9.3 L48.0 -10.9 L52.0 -12.5 L56.0 -14.0 L60.0 -15.4 L64.0 -16.5 L68.0 -17.3 L72.0 -17.6 L76.0 -17.6 L80.0 -17.2 L84.0 -16.4 L88.0 -15.5 L92.0 -14.5 L96.0 -13.6 L100.0 -12.8 L104.0 -12.2 L108.0 -12.0 L112.0 -12.1 L116.0 -12.7 L120.0 -13.5 L124.0 -14.6 L128.0 -15.9 L132.0 -17.1 L136.0 -18.3 L140.0 -19.3 L144.0 -20.0 L148.0 -20.2 L152.0 -20.1 L156.0 -19.4 L160.0 -18.3 L164.0 -16.9 L168.0 -15.3 L172.0 -13.5 L176.0 -11.7 L180.0 -10.1 L184.0 -8.8 L188.0 -7.8 L192.0 -7.3 L196.0 -7.2 L200.0 -7.6 L204.0 -8.3 L208.0 -9.4 L212.0 -10.7 L216.0 -12.1 L220.0 -13.4" stroke="#5cc6f6" stroke-width="1.2" fill="none" opacity="0.20"/><path d="M0.0 -11.7 L4.0 -10.0 L8.0 -8.3 L12.0 -6.6 L16.0 -5.2 L20.0 -4.1 L24.0 -3.4 L28.0 -3.2 L32.0 -3.5 L36.0 -4.2 L40.0 -5.3 L44.0 -6.6 L48.0 -8.1 L52.0 -9.7 L56.0 -11.1 L60.0 -12.3 L64.0 -13.2 L68.0 -13.7 L72.0 -13.8 L76.0 -13.6 L80.0 -13.0 L84.0 -12.2 L88.0 -11.2 L92.0 -10.2 L96.0 -9.4 L100.0 -8.7 L104.0 -8.4 L108.0 -8.4 L112.0 -8.8 L116.0 -9.6 L120.0 -10.7 L124.0 -11.9 L128.0 -13.3 L132.0 -14.6 L136.0 -15.8 L140.0 -16.7 L144.0 -17.2 L148.0 -17.3 L152.0 -16.9 L156.0 -16.1 L160.0 -14.9 L164.0 -13.3 L168.0 -11.6 L172.0 -9.8 L176.0 -8.1 L180.0 -6.6 L184.0 -5.4 L188.0 -4.6 L192.0 -4.3 L196.0 -4.4 L200.0 -4.9 L204.0 -5.8 L208.0 -6.9 L212.0 -8.2 L216.0 -9.4 L220.0 -10.6" stroke="#178ccf" stroke-width="1.2" fill="none" opacity="0.22"/><path d="M0.0 -7.9 L4.0 -6.1 L8.0 -4.4 L12.0 -2.8 L16.0 -1.5 L20.0 -0.5 L24.0 -0.0 L28.0 -0.0 L32.0 -0.4 L36.0 -1.3 L40.0 -2.4 L44.0 -3.8 L48.0 -5.3 L52.0 -6.7 L56.0 -8.0 L60.0 -9.0 L64.0 -9.6 L68.0 -9.9 L72.0 -9.8 L76.0 -9.3 L80.0 -8.6 L84.0 -7.7 L88.0 -6.7 L92.0 -5.8 L96.0 -5.1 L100.0 -4.6 L104.0 -4.5 L108.0 -4.8 L112.0 -5.5 L116.0 -6.5 L120.0 -7.7 L124.0 -9.1 L128.0 -10.6 L132.0 -11.9 L136.0 -13.0 L140.0 -13.8 L144.0 -14.2 L148.0 -14.1 L152.0 -13.5 L156.0 -12.5 L160.0 -11.1 L164.0 -9.5 L168.0 -7.8 L172.0 -6.0 L176.0 -4.4 L180.0 -3.0 L184.0 -2.0 L188.0 -1.4 L192.0 -1.3 L196.0 -1.5 L200.0 -2.2 L204.0 -3.2 L208.0 -4.3 L212.0 -5.5 L216.0 -6.7 L220.0 -7.6" stroke="#5cc6f6" stroke-width="1.2" fill="none" opacity="0.30"/><path d="M0.0 -4.0 L4.0 -2.2 L8.0 -0.5 L12.0 1.0 L16.0 2.2 L20.0 3.0 L24.0 3.3 L28.0 3.2 L32.0 2.6 L36.0 1.6 L40.0 0.4 L44.0 -1.0 L48.0 -2.4 L52.0 -3.6 L56.0 -4.7 L60.0 -5.5 L64.0 -5.9 L68.0 -5.9 L72.0 -5.6 L76.0 -4.9 L80.0 -4.1 L84.0 -3.1 L88.0 -2.2 L92.0 -1.3 L96.0 -0.8 L100.0 -0.5 L104.0 -0.7 L108.0 -1.2 L112.0 -2.1 L116.0 -3.3 L120.0 -4.7 L124.0 -6.2 L128.0 -7.7 L132.0 -9.0 L136.0 -10.0 L140.0 -10.7 L144.0 -10.9 L148.0 -10.6 L152.0 -9.9 L156.0 -8.7 L160.0 -7.3 L164.0 -5.6 L168.0 -3.8 L172.0 -2.1 L176.0 -0.6 L180.0 0.6 L184.0 1.4 L188.0 1.8 L192.0 1.7 L196.0 1.3 L200.0 0.5 L204.0 -0.5 L208.0 -1.7 L212.0 -2.8 L216.0 -3.8 L220.0 -4.5" stroke="#178ccf" stroke-width="1.2" fill="none" opacity="0.41"/><path d="M0.0 0.0 L4.0 1.8 L8.0 3.4 L12.0 4.8 L16.0 5.8 L20.0 6.4 L24.0 6.5 L28.0 6.2 L32.0 5.5 L36.0 4.5 L40.0 3.2 L44.0 1.9 L48.0 0.6 L52.0 -0.5 L56.0 -1.3 L60.0 -1.8 L64.0 -2.0 L68.0 -1.8 L72.0 -1.2 L76.0 -0.4 L80.0 0.5 L84.0 1.5 L88.0 2.4 L92.0 3.1 L96.0 3.5 L100.0 3.5 L104.0 3.2 L108.0 2.4 L112.0 1.3 L116.0 -0.1 L120.0 -1.7 L124.0 -3.2 L128.0 -4.7 L132.0 -6.0 L136.0 -6.9 L140.0 -7.4 L144.0 -7.4 L148.0 -6.9 L152.0 -6.0 L156.0 -4.8 L160.0 -3.2 L164.0 -1.5 L168.0 0.2 L172.0 1.7 L176.0 3.1 L180.0 4.1 L184.0 4.7 L188.0 4.9 L192.0 4.6 L196.0 4.0 L200.0 3.2 L204.0 2.1 L208.0 1.0 L212.0 0.0 L216.0 -0.8 L220.0 -1.3" stroke="#5cc6f6" stroke-width="1.2" fill="none" opacity="0.55"/><path d="M0.0 4.0 L4.0 5.7 L8.0 7.2 L12.0 8.5 L16.0 9.3 L20.0 9.7 L24.0 9.6 L28.0 9.2 L32.0 8.3 L36.0 7.3 L40.0 6.0 L44.0 4.8 L48.0 3.7 L52.0 2.7 L56.0 2.1 L60.0 1.9 L64.0 2.0 L68.0 2.4 L72.0 3.2 L76.0 4.1 L80.0 5.1 L84.0 6.1 L88.0 6.9 L92.0 7.5 L96.0 7.7 L100.0 7.5 L104.0 6.9 L108.0 5.9 L112.0 4.6 L116.0 3.1 L120.0 1.4 L124.0 -0.2 L128.0 -1.6 L132.0 -2.8 L136.0 -3.6 L140.0 -3.9 L144.0 -3.7 L148.0 -3.1 L152.0 -2.1 L156.0 -0.7 L160.0 0.8 L164.0 2.5 L168.0 4.1 L172.0 5.6 L176.0 6.7 L180.0 7.5 L184.0 7.9 L188.0 7.8 L192.0 7.4 L196.0 6.7 L200.0 5.8 L204.0 4.7 L208.0 3.7 L212.0 2.9 L216.0 2.3 L220.0 2.0" stroke="#178ccf" stroke-width="1.2" fill="none" opacity="0.69"/><path d="M0.0 7.9 L4.0 9.5 L8.0 10.9 L12.0 12.0 L16.0 12.6 L20.0 12.8 L24.0 12.6 L28.0 12.0 L32.0 11.0 L36.0 9.9 L40.0 8.7 L44.0 7.6 L48.0 6.7 L52.0 6.0 L56.0 5.6 L60.0 5.6 L64.0 6.0 L68.0 6.7 L72.0 7.6 L76.0 8.6 L80.0 9.7 L84.0 10.6 L88.0 11.3 L92.0 11.7 L96.0 11.7 L100.0 11.3 L104.0 10.5 L108.0 9.3 L112.0 7.8 L116.0 6.2 L120.0 4.5 L124.0 2.9 L128.0 1.5 L132.0 0.4 L136.0 -0.2 L140.0 -0.3 L144.0 -0.0 L148.0 0.8 L152.0 1.9 L156.0 3.3 L160.0 4.9 L164.0 6.5 L168.0 8.0 L172.0 9.3 L176.0 10.2 L180.0 10.8 L184.0 10.9 L188.0 10.7 L192.0 10.1 L196.0 9.3 L200.0 8.3 L204.0 7.3 L208.0 6.4 L212.0 5.7 L216.0 5.3 L220.0 5.3" stroke="#5cc6f6" stroke-width="1.2" fill="none" opacity="0.80"/><path d="M0.0 11.7 L4.0 13.2 L8.0 14.4 L12.0 15.3 L16.0 15.7 L20.0 15.7 L24.0 15.3 L28.0 14.5 L32.0 13.6 L36.0 12.5 L40.0 11.4 L44.0 10.4 L48.0 9.6 L52.0 9.2 L56.0 9.1 L60.0 9.4 L64.0 10.0 L68.0 10.8 L72.0 11.9 L76.0 13.0 L80.0 14.1 L84.0 15.0 L88.0 15.5 L92.0 15.8 L96.0 15.5 L100.0 14.9 L104.0 13.9 L108.0 12.5 L112.0 10.9 L116.0 9.2 L120.0 7.4 L124.0 5.9 L128.0 4.6 L132.0 3.7 L136.0 3.3 L140.0 3.3 L144.0 3.8 L148.0 4.7 L152.0 5.9 L156.0 7.3 L160.0 8.9 L164.0 10.4 L168.0 11.7 L172.0 12.8 L176.0 13.5 L180.0 13.8 L184.0 13.7 L188.0 13.3 L192.0 12.6 L196.0 11.7 L200.0 10.7 L204.0 9.8 L208.0 9.0 L212.0 8.5 L216.0 8.4 L220.0 8.6" stroke="#178ccf" stroke-width="1.2" fill="none" opacity="0.88"/><path d="M0.0 15.3 L4.0 16.6 L8.0 17.7 L12.0 18.3 L16.0 18.5 L20.0 18.3 L24.0 17.7 L28.0 16.9 L32.0 15.9 L36.0 14.8 L40.0 13.8 L44.0 13.0 L48.0 12.5 L52.0 12.3 L56.0 12.5 L60.0 13.0 L64.0 13.8 L68.0 14.9 L72.0 16.1 L76.0 17.2 L80.0 18.3 L84.0 19.0 L88.0 19.5 L92.0 19.5 L96.0 19.1 L100.0 18.3 L104.0 17.0 L108.0 15.5 L112.0 13.8 L116.0 12.0 L120.0 10.3 L124.0 8.9 L128.0 7.7 L132.0 7.0 L136.0 6.7 L140.0 6.9 L144.0 7.5 L148.0 8.5 L152.0 9.8 L156.0 11.3 L160.0 12.7 L164.0 14.1 L168.0 15.2 L172.0 16.1 L176.0 16.5 L180.0 16.6 L184.0 16.3 L188.0 15.7 L192.0 14.9 L196.0 13.9 L200.0 13.0 L204.0 12.2 L208.0 11.6 L212.0 11.3 L216.0 11.4 L220.0 11.8" stroke="#5cc6f6" stroke-width="1.2" fill="none" opacity="0.90"/><path d="M0.0 18.7 L4.0 19.8 L8.0 20.6 L12.0 21.0 L16.0 21.0 L20.0 20.7 L24.0 20.0 L28.0 19.0 L32.0 18.0 L36.0 17.0 L40.0 16.2 L44.0 15.6 L48.0 15.3 L52.0 15.4 L56.0 15.8 L60.0 16.6 L64.0 17.6 L68.0 18.8 L72.0 20.0 L76.0 21.2 L80.0 22.2 L84.0 22.9 L88.0 23.1 L92.0 23.0 L96.0 22.4 L100.0 21.3 L104.0 19.9 L108.0 18.3 L112.0 16.5 L116.0 14.8 L120.0 13.1 L124.0 11.8 L128.0 10.8 L132.0 10.2 L136.0 10.1 L140.0 10.5 L144.0 11.3 L148.0 12.4 L152.0 13.7 L156.0 15.1 L160.0 16.4 L164.0 17.6 L168.0 18.5 L172.0 19.1 L176.0 19.3 L180.0 19.2 L184.0 18.7 L188.0 17.9 L192.0 17.0 L196.0 16.0 L200.0 15.1 L204.0 14.4 L208.0 14.0 L212.0 13.9 L216.0 14.3 L220.0 15.0" stroke="#178ccf" stroke-width="1.2" fill="none" opacity="0.87"/><path d="M0.0 21.8 L4.0 22.7 L8.0 23.3 L12.0 23.5 L16.0 23.3 L20.0 22.7 L24.0 21.9 L28.0 21.0 L32.0 20.0 L36.0 19.1 L40.0 18.4 L44.0 18.0 L48.0 18.0 L52.0 18.3 L56.0 19.0 L60.0 20.0 L64.0 21.2 L68.0 22.5 L72.0 23.8 L76.0 25.0 L80.0 25.9 L84.0 26.4 L88.0 26.5 L92.0 26.1 L96.0 25.3 L100.0 24.1 L104.0 22.6 L108.0 20.9 L112.0 19.1 L116.0 17.4 L120.0 15.8 L124.0 14.6 L128.0 13.8 L132.0 13.4 L136.0 13.5 L140.0 14.0 L144.0 14.9 L148.0 16.1 L152.0 17.4 L156.0 18.7 L160.0 19.9 L164.0 20.9 L168.0 21.6 L172.0 21.9 L176.0 21.9 L180.0 21.5 L184.0 20.8 L188.0 19.9 L192.0 18.9 L196.0 17.9 L200.0 17.1 L204.0 16.6 L208.0 16.4 L212.0 16.5 L216.0 17.1 L220.0 18.0" stroke="#5cc6f6" stroke-width="1.2" fill="none" opacity="0.79"/><path d="M0.0 24.7 L4.0 25.4 L8.0 25.7 L12.0 25.7 L16.0 25.3 L20.0 24.6 L24.0 23.7 L28.0 22.7 L32.0 21.8 L36.0 21.0 L40.0 20.5 L44.0 20.4 L48.0 20.6 L52.0 21.2 L56.0 22.1 L60.0 23.3 L64.0 24.6 L68.0 26.0 L72.0 27.3 L76.0 28.4 L80.0 29.2 L84.0 29.6 L88.0 29.5 L92.0 29.0 L96.0 28.0 L100.0 26.7 L104.0 25.0 L108.0 23.3 L112.0 21.5 L116.0 19.9 L120.0 18.5 L124.0 17.4 L128.0 16.8 L132.0 16.6 L136.0 16.9 L140.0 17.5 L144.0 18.5 L148.0 19.7 L152.0 20.9 L156.0 22.1 L160.0 23.1 L164.0 23.9 L168.0 24.4 L172.0 24.4 L176.0 24.1 L180.0 23.5 L184.0 22.7 L188.0 21.7 L192.0 20.7 L196.0 19.7 L200.0 19.0 L204.0 18.7 L208.0 18.6 L212.0 19.0 L216.0 19.8 L220.0 21.0" stroke="#178ccf" stroke-width="1.2" fill="none" opacity="0.67"/><path d="M0.0 27.3 L4.0 27.8 L8.0 27.9 L12.0 27.6 L16.0 27.0 L20.0 26.2 L24.0 25.3 L28.0 24.3 L32.0 23.5 L36.0 22.9 L40.0 22.6 L44.0 22.6 L48.0 23.1 L52.0 23.9 L56.0 25.1 L60.0 26.4 L64.0 27.9 L68.0 29.3 L72.0 30.6 L76.0 31.7 L80.0 32.3 L84.0 32.5 L88.0 32.3 L92.0 31.5 L96.0 30.4 L100.0 28.9 L104.0 27.3 L108.0 25.5 L112.0 23.8 L116.0 22.3 L120.0 21.0 L124.0 20.2 L128.0 19.7 L132.0 19.8 L136.0 20.2 L140.0 21.0 L144.0 22.0 L148.0 23.1 L152.0 24.3 L156.0 25.4 L160.0 26.2 L164.0 26.7 L168.0 26.9 L172.0 26.7 L176.0 26.2 L180.0 25.4 L184.0 24.4 L188.0 23.3 L192.0 22.3 L196.0 21.5 L200.0 20.9 L204.0 20.7 L208.0 20.9 L212.0 21.5 L216.0 22.5 L220.0 23.9" stroke="#5cc6f6" stroke-width="1.2" fill="none" opacity="0.53"/><path d="M0.0 29.8 L4.0 30.0 L8.0 29.9 L12.0 29.4 L16.0 28.6 L20.0 27.7 L24.0 26.7 L28.0 25.8 L32.0 25.1 L36.0 24.7 L40.0 24.6 L44.0 24.9 L48.0 25.6 L52.0 26.7 L56.0 28.0 L60.0 29.5 L64.0 31.0 L68.0 32.5 L72.0 33.7 L76.0 34.6 L80.0 35.1 L84.0 35.2 L88.0 34.7 L92.0 33.9 L96.0 32.6 L100.0 31.0 L104.0 29.3 L108.0 27.6 L112.0 26.0 L116.0 24.6 L120.0 23.6 L124.0 22.9 L128.0 22.7 L132.0 22.9 L136.0 23.5 L140.0 24.4 L144.0 25.4 L148.0 26.5 L152.0 27.6 L156.0 28.5 L160.0 29.1 L164.0 29.3 L168.0 29.3 L172.0 28.8 L176.0 28.1 L180.0 27.1 L184.0 26.0 L188.0 24.9 L192.0 23.9 L196.0 23.1 L200.0 22.7 L204.0 22.7 L208.0 23.1 L212.0 24.0 L216.0 25.2 L220.0 26.7" stroke="#178ccf" stroke-width="1.2" fill="none" opacity="0.40"/><path d="M0.0 32.1 L4.0 32.1 L8.0 31.7 L12.0 31.0 L16.0 30.1 L20.0 29.1 L24.0 28.1 L28.0 27.3 L32.0 26.7 L36.0 26.5 L40.0 26.6 L44.0 27.2 L48.0 28.1 L52.0 29.4 L56.0 30.8 L60.0 32.5 L64.0 34.0 L68.0 35.5 L72.0 36.6 L76.0 37.4 L80.0 37.7 L84.0 37.6 L88.0 37.0 L92.0 36.0 L96.0 34.6 L100.0 33.0 L104.0 31.3 L108.0 29.7 L112.0 28.2 L116.0 27.0 L120.0 26.2 L124.0 25.7 L128.0 25.7 L132.0 26.1 L136.0 26.8 L140.0 27.7 L144.0 28.8 L148.0 29.8 L152.0 30.7 L156.0 31.4 L160.0 31.8 L164.0 31.8 L168.0 31.5 L172.0 30.8 L176.0 29.8 L180.0 28.7 L184.0 27.5 L188.0 26.4 L192.0 25.4 L196.0 24.8 L200.0 24.6 L204.0 24.8 L208.0 25.4 L212.0 26.4 L216.0 27.8 L220.0 29.4" stroke="#5cc6f6" stroke-width="1.2" fill="none" opacity="0.29"/><path d="M0.0 34.3 L4.0 34.0 L8.0 33.4 L12.0 32.5 L16.0 31.5 L20.0 30.5 L24.0 29.5 L28.0 28.8 L32.0 28.4 L36.0 28.4 L40.0 28.7 L44.0 29.5 L48.0 30.7 L52.0 32.1 L56.0 33.7 L60.0 35.4 L64.0 37.0 L68.0 38.3 L72.0 39.4 L76.0 40.0 L80.0 40.2 L84.0 39.9 L88.0 39.1 L92.0 38.0 L96.0 36.5 L100.0 34.9 L104.0 33.3 L108.0 31.7 L112.0 30.4 L116.0 29.4 L120.0 28.8 L124.0 28.6 L128.0 28.8 L132.0 29.4 L136.0 30.2 L140.0 31.1 L144.0 32.2 L148.0 33.1 L152.0 33.8 L156.0 34.3 L160.0 34.4 L164.0 34.2 L168.0 33.6 L172.0 32.6 L176.0 31.5 L180.0 30.3 L184.0 29.0 L188.0 27.9 L192.0 27.1 L196.0 26.6 L200.0 26.5 L204.0 26.9 L208.0 27.7 L212.0 29.0 L216.0 30.5 L220.0 32.2" stroke="#178ccf" stroke-width="1.2" fill="none" opacity="0.22"/><path d="M0.0 36.4 L4.0 35.9 L8.0 35.1 L12.0 34.1 L16.0 33.0 L20.0 31.9 L24.0 31.1 L28.0 30.5 L32.0 30.2 L36.0 30.4 L40.0 31.0 L44.0 32.0 L48.0 33.3 L52.0 34.9 L56.0 36.6 L60.0 38.3 L64.0 39.8 L68.0 41.1 L72.0 42.0 L76.0 42.5 L80.0 42.5 L84.0 42.0 L88.0 41.1 L92.0 39.9 L96.0 38.4 L100.0 36.8 L104.0 35.3 L108.0 33.9 L112.0 32.8 L116.0 32.0 L120.0 31.6 L124.0 31.6 L128.0 32.0 L132.0 32.7 L136.0 33.6 L140.0 34.6 L144.0 35.5 L148.0 36.3 L152.0 36.9 L156.0 37.1 L160.0 37.0 L164.0 36.5 L168.0 35.6 L172.0 34.5 L176.0 33.2 L180.0 31.9 L184.0 30.7 L188.0 29.6 L192.0 28.9 L196.0 28.5 L200.0 28.7 L204.0 29.2 L208.0 30.3 L212.0 31.6 L216.0 33.3 L220.0 35.0" stroke="#5cc6f6" stroke-width="1.2" fill="none" opacity="0.20"/><path d="M0.0 38.6 L4.0 37.8 L8.0 36.8 L12.0 35.7 L16.0 34.6 L20.0 33.5 L24.0 32.7 L28.0 32.3 L32.0 32.2 L36.0 32.6 L40.0 33.4 L44.0 34.6 L48.0 36.1 L52.0 37.8 L56.0 39.5 L60.0 41.2 L64.0 42.7 L68.0 43.9 L72.0 44.6 L76.0 44.9 L80.0 44.7 L84.0 44.1 L88.0 43.1 L92.0 41.8 L96.0 40.3 L100.0 38.8 L104.0 37.4 L108.0 36.2 L112.0 35.3 L116.0 34.7 L120.0 34.6 L124.0 34.8 L128.0 35.4 L132.0 36.2 L136.0 37.2 L140.0 38.1 L144.0 39.0 L148.0 39.6 L152.0 40.0 L156.0 39.9 L160.0 39.6 L164.0 38.8 L168.0 37.7 L172.0 36.4 L176.0 35.0 L180.0 33.7 L184.0 32.4 L188.0 31.5 L192.0 30.9 L196.0 30.7 L200.0 31.0 L204.0 31.8 L208.0 32.9 L212.0 34.4 L216.0 36.1 L220.0 37.9" stroke="#178ccf" stroke-width="1.2" fill="none" opacity="0.24"/><path d="M0.0 40.8 L4.0 39.8 L8.0 38.7 L12.0 37.5 L16.0 36.3 L20.0 35.3 L24.0 34.6 L28.0 34.4 L32.0 34.5 L36.0 35.1 L40.0 36.1 L44.0 37.4 L48.0 39.1 L52.0 40.8 L56.0 42.6 L60.0 44.2 L64.0 45.6 L68.0 46.6 L72.0 47.2 L76.0 47.3 L80.0 46.9 L84.0 46.2 L88.0 45.1 L92.0 43.7 L96.0 42.3 L100.0 40.9 L104.0 39.6 L108.0 38.7 L112.0 38.0 L116.0 37.7 L120.0 37.8 L124.0 38.3 L128.0 39.0 L132.0 39.9 L136.0 40.8 L140.0 41.7 L144.0 42.5 L148.0 43.0 L152.0 43.1 L156.0 42.8 L160.0 42.2 L164.0 41.2 L168.0 39.9 L172.0 38.5 L176.0 37.0 L180.0 35.6 L184.0 34.4 L188.0 33.6 L192.0 33.1 L196.0 33.1 L200.0 33.6 L204.0 34.6 L208.0 35.9 L212.0 37.4 L216.0 39.2 L220.0 40.9" stroke="#5cc6f6" stroke-width="1.2" fill="none" opacity="0.33"/><path d="M0.0 43.1 L4.0 41.9 L8.0 40.7 L12.0 39.4 L16.0 38.3 L20.0 37.4 L24.0 36.8 L28.0 36.7 L32.0 37.0 L36.0 37.8 L40.0 39.0 L44.0 40.5 L48.0 42.2 L52.0 44.0 L56.0 45.7 L60.0 47.3 L64.0 48.5 L68.0 49.4 L72.0 49.7 L76.0 49.7 L80.0 49.2 L84.0 48.3 L88.0 47.1 L92.0 45.8 L96.0 44.4 L100.0 43.2 L104.0 42.1 L108.0 41.4 L112.0 40.9 L116.0 40.9 L120.0 41.2 L124.0 41.9 L128.0 42.7 L132.0 43.7 L136.0 44.7 L140.0 45.5 L144.0 46.1 L148.0 46.3 L152.0 46.2 L156.0 45.7 L160.0 44.8 L164.0 43.6 L168.0 42.2 L172.0 40.7 L176.0 39.1 L180.0 37.8 L184.0 36.7 L188.0 36.0 L192.0 35.7 L196.0 35.9 L200.0 36.5 L204.0 37.6 L208.0 39.0 L212.0 40.7 L216.0 42.4 L220.0 44.1" stroke="#178ccf" stroke-width="1.2" fill="none" opacity="0.45"/><path d="M0.0 45.5 L4.0 44.2 L8.0 42.9 L12.0 41.6 L16.0 40.5 L20.0 39.7 L24.0 39.3 L28.0 39.4 L32.0 39.9 L36.0 40.8 L40.0 42.2 L44.0 43.8 L48.0 45.6 L52.0 47.3 L56.0 49.0 L60.0 50.4 L64.0 51.5 L68.0 52.2 L72.0 52.4 L76.0 52.1 L80.0 51.5 L84.0 50.5 L88.0 49.3 L92.0 48.0 L96.0 46.8 L100.0 45.7 L104.0 44.8 L108.0 44.3 L112.0 44.2 L116.0 44.4 L120.0 44.9 L124.0 45.7 L128.0 46.7 L132.0 47.7 L136.0 48.6 L140.0 49.3 L144.0 49.8 L148.0 49.8 L152.0 49.5 L156.0 48.7 L160.0 47.6 L164.0 46.2 L168.0 44.7 L172.0 43.1 L176.0 41.5 L180.0 40.2 L184.0 39.2 L188.0 38.7 L192.0 38.5 L196.0 38.9 L200.0 39.7 L204.0 40.9 L208.0 42.4 L212.0 44.1 L216.0 45.8 L220.0 47.3" stroke="#5cc6f6" stroke-width="1.2" fill="none" opacity="0.59"/><path d="M0.0 48.1 L4.0 46.7 L8.0 45.3 L12.0 44.0 L16.0 43.0 L20.0 42.3 L24.0 42.1 L28.0 42.3 L32.0 43.1 L36.0 44.2 L40.0 45.6 L44.0 47.3 L48.0 49.1 L52.0 50.8 L56.0 52.4 L60.0 53.6 L64.0 54.5 L68.0 55.0 L72.0 55.0 L76.0 54.6 L80.0 53.8 L84.0 52.8 L88.0 51.6 L92.0 50.4 L96.0 49.3 L100.0 48.4 L104.0 47.8 L108.0 47.5 L112.0 47.6 L116.0 48.1 L120.0 48.8 L124.0 49.8 L128.0 50.8 L132.0 51.8 L136.0 52.7 L140.0 53.3 L144.0 53.5 L148.0 53.4 L152.0 52.8 L156.0 51.8 L160.0 50.5 L164.0 49.0 L168.0 47.3 L172.0 45.7 L176.0 44.2 L180.0 43.0 L184.0 42.1 L188.0 41.7 L192.0 41.7 L196.0 42.3 L200.0 43.2 L204.0 44.5 L208.0 46.1 L212.0 47.7 L216.0 49.3 L220.0 50.7" stroke="#178ccf" stroke-width="1.2" fill="none" opacity="0.72"/><path d="M0.0 50.9 L4.0 49.4 L8.0 47.9 L12.0 46.7 L16.0 45.8 L20.0 45.3 L24.0 45.2 L28.0 45.6 L32.0 46.5 L36.0 47.8 L40.0 49.3 L44.0 51.0 L48.0 52.8 L52.0 54.4 L56.0 55.8 L60.0 56.9 L64.0 57.6 L68.0 57.9 L72.0 57.7 L76.0 57.1 L80.0 56.3 L84.0 55.2 L88.0 54.1 L92.0 53.0 L96.0 52.0 L100.0 51.3 L104.0 51.0 L108.0 51.0 L112.0 51.4 L116.0 52.0 L120.0 53.0 L124.0 54.0 L128.0 55.1 L132.0 56.1 L136.0 56.9 L140.0 57.3 L144.0 57.3 L148.0 57.0 L152.0 56.2 L156.0 55.0 L160.0 53.5 L164.0 51.9 L168.0 50.2 L172.0 48.5 L176.0 47.1 L180.0 46.0 L184.0 45.3 L188.0 45.0 L192.0 45.3 L196.0 46.0 L200.0 47.0 L204.0 48.4 L208.0 49.9 L212.0 51.5 L216.0 53.0 L220.0 54.2" stroke="#5cc6f6" stroke-width="1.2" fill="none" opacity="0.83"/><path d="M0.0 53.8 L4.0 52.2 L8.0 50.8 L12.0 49.6 L16.0 48.8 L20.0 48.5 L24.0 48.6 L28.0 49.2 L32.0 50.2 L36.0 51.6 L40.0 53.2 L44.0 54.9 L48.0 56.6 L52.0 58.1 L56.0 59.4 L60.0 60.2 L64.0 60.7 L68.0 60.8 L72.0 60.4 L76.0 59.7 L80.0 58.8 L84.0 57.7 L88.0 56.6 L92.0 55.7 L96.0 54.9 L100.0 54.5 L104.0 54.4 L108.0 54.7 L112.0 55.3 L116.0 56.2 L120.0 57.3 L124.0 58.4 L128.0 59.5 L132.0 60.4 L136.0 61.1 L140.0 61.3 L144.0 61.2 L148.0 60.6 L152.0 59.6 L156.0 58.2 L160.0 56.6 L164.0 54.9 L168.0 53.2 L172.0 51.6 L176.0 50.2 L180.0 49.3 L184.0 48.7 L188.0 48.7 L192.0 49.1 L196.0 49.9 L200.0 51.1 L204.0 52.5 L208.0 54.0 L212.0 55.4 L216.0 56.7 L220.0 57.8" stroke="#178ccf" stroke-width="1.2" fill="none" opacity="0.89"/><path d="M0.0 56.8 L4.0 55.2 L8.0 53.8 L12.0 52.8 L16.0 52.1 L20.0 51.9 L24.0 52.2 L28.0 53.0 L32.0 54.2 L36.0 55.6 L40.0 57.2 L44.0 58.9 L48.0 60.5 L52.0 61.8 L56.0 62.9 L60.0 63.5 L64.0 63.8 L68.0 63.6 L72.0 63.1 L76.0 62.3 L80.0 61.4 L84.0 60.3 L88.0 59.3 L92.0 58.5 L96.0 58.0 L100.0 57.8 L104.0 58.0 L108.0 58.5 L112.0 59.4 L116.0 60.4 L120.0 61.6 L124.0 62.8 L128.0 63.9 L132.0 64.8 L136.0 65.3 L140.0 65.4 L144.0 65.0 L148.0 64.2 L152.0 63.0 L156.0 61.5 L160.0 59.8 L164.0 58.0 L168.0 56.3 L172.0 54.8 L176.0 53.6 L180.0 52.8 L184.0 52.4 L188.0 52.5 L192.0 53.1 L196.0 54.0 L200.0 55.3 L204.0 56.7 L208.0 58.1 L212.0 59.4 L216.0 60.6 L220.0 61.4" stroke="#5cc6f6" stroke-width="1.2" fill="none" opacity="0.90"/><path d="M0.0 59.8 L4.0 58.3 L8.0 57.0 L12.0 56.1 L16.0 55.6 L20.0 55.6 L24.0 56.1 L28.0 57.0 L32.0 58.2 L36.0 59.7 L40.0 61.3 L44.0 62.9 L48.0 64.3 L52.0 65.5 L56.0 66.3 L60.0 66.8 L64.0 66.8 L68.0 66.5 L72.0 65.8 L76.0 64.9 L80.0 63.9 L84.0 63.0 L88.0 62.1 L92.0 61.5 L96.0 61.2 L100.0 61.3 L104.0 61.7 L108.0 62.5 L112.0 63.5 L116.0 64.8 L120.0 66.0 L124.0 67.3 L128.0 68.3 L132.0 69.0 L136.0 69.4 L140.0 69.3 L144.0 68.7 L148.0 67.8 L152.0 66.4 L156.0 64.8 L160.0 63.0 L164.0 61.2 L168.0 59.6 L172.0 58.2 L176.0 57.1 L180.0 56.5 L184.0 56.3 L188.0 56.6 L192.0 57.3 L196.0 58.3 L200.0 59.6 L204.0 60.9 L208.0 62.3 L212.0 63.4 L216.0 64.4 L220.0 65.0" stroke="#178ccf" stroke-width="1.2" fill="none" opacity="0.85"/><path d="M0.0 63.0 L4.0 61.5 L8.0 60.3 L12.0 59.6 L16.0 59.3 L20.0 59.4 L24.0 60.1 L28.0 61.1 L32.0 62.4 L36.0 63.9 L40.0 65.4 L44.0 66.9 L48.0 68.2 L52.0 69.1 L56.0 69.7 L60.0 69.9 L64.0 69.7 L68.0 69.2 L72.0 68.4 L76.0 67.5 L80.0 66.5 L84.0 65.6 L88.0 64.9 L92.0 64.5 L96.0 64.5 L100.0 64.8 L104.0 65.5 L108.0 66.5 L112.0 67.7 L116.0 69.1 L120.0 70.4 L124.0 71.6 L128.0 72.6 L132.0 73.2 L136.0 73.4 L140.0 73.1 L144.0 72.3 L148.0 71.2 L152.0 69.7 L156.0 68.0 L160.0 66.2 L164.0 64.5 L168.0 62.9 L172.0 61.7 L176.0 60.8 L180.0 60.3 L184.0 60.4 L188.0 60.8 L192.0 61.6 L196.0 62.7 L200.0 64.0 L204.0 65.2 L208.0 66.4 L212.0 67.4 L216.0 68.1 L220.0 68.4" stroke="#5cc6f6" stroke-width="1.2" fill="none" opacity="0.75"/><path d="M0.0 66.1 L4.0 64.7 L8.0 63.7 L12.0 63.1 L16.0 63.0 L20.0 63.3 L24.0 64.1 L28.0 65.2 L32.0 66.6 L36.0 68.0 L40.0 69.5 L44.0 70.8 L48.0 71.8 L52.0 72.6 L56.0 72.9 L60.0 72.9 L64.0 72.5 L68.0 71.8 L72.0 70.9 L76.0 70.0 L80.0 69.0 L84.0 68.3 L88.0 67.8 L92.0 67.6 L96.0 67.8 L100.0 68.4 L104.0 69.3 L108.0 70.5 L112.0 71.9 L116.0 73.3 L120.0 74.7 L124.0 75.8 L128.0 76.7 L132.0 77.2 L136.0 77.2 L140.0 76.7 L144.0 75.8 L148.0 74.5 L152.0 72.9 L156.0 71.1 L160.0 69.4 L164.0 67.7 L168.0 66.3 L172.0 65.2 L176.0 64.5 L180.0 64.3 L184.0 64.5 L188.0 65.1 L192.0 66.0 L196.0 67.1 L200.0 68.3 L204.0 69.5 L208.0 70.5 L212.0 71.2 L216.0 71.7 L220.0 71.8" stroke="#178ccf" stroke-width="1.2" fill="none" opacity="0.63"/><path d="M0.0 69.3 L4.0 68.0 L8.0 67.1 L12.0 66.7 L16.0 66.8 L20.0 67.3 L24.0 68.1 L28.0 69.3 L32.0 70.7 L36.0 72.1 L40.0 73.4 L44.0 74.5 L48.0 75.4 L52.0 75.8 L56.0 75.9 L60.0 75.7 L64.0 75.1 L68.0 74.3 L72.0 73.3 L76.0 72.4 L80.0 71.5 L84.0 70.9 L88.0 70.6 L92.0 70.6 L96.0 71.1 L100.0 71.9 L104.0 73.0 L108.0 74.4 L112.0 75.9 L116.0 77.4 L120.0 78.8 L124.0 79.8 L128.0 80.6 L132.0 80.9 L136.0 80.7 L140.0 80.0 L144.0 79.0 L148.0 77.6 L152.0 75.9 L156.0 74.2 L160.0 72.5 L164.0 70.9 L168.0 69.6 L172.0 68.7 L176.0 68.3 L180.0 68.2 L184.0 68.6 L188.0 69.3 L192.0 70.3 L196.0 71.4 L200.0 72.5 L204.0 73.6 L208.0 74.4 L212.0 74.9 L216.0 75.1 L220.0 74.9" stroke="#5cc6f6" stroke-width="1.2" fill="none" opacity="0.49"/><path d="M0.0 72.3 L4.0 71.2 L8.0 70.5 L12.0 70.3 L16.0 70.5 L20.0 71.2 L24.0 72.2 L28.0 73.4 L32.0 74.7 L36.0 76.0 L40.0 77.1 L44.0 78.1 L48.0 78.7 L52.0 78.9 L56.0 78.7 L60.0 78.2 L64.0 77.5 L68.0 76.6 L72.0 75.6 L76.0 74.6 L80.0 73.9 L84.0 73.4 L88.0 73.3 L92.0 73.6 L96.0 74.3 L100.0 75.4 L104.0 76.7 L108.0 78.2 L112.0 79.8 L116.0 81.3 L120.0 82.6 L124.0 83.6 L128.0 84.2 L132.0 84.3 L136.0 83.9 L140.0 83.1 L144.0 81.9 L148.0 80.4 L152.0 78.8 L156.0 77.1 L160.0 75.4 L164.0 74.0 L168.0 73.0 L172.0 72.3 L176.0 72.0 L180.0 72.2 L184.0 72.7 L188.0 73.5 L192.0 74.5 L196.0 75.6 L200.0 76.6 L204.0 77.5 L208.0 78.1 L212.0 78.4 L216.0 78.3 L220.0 77.8" stroke="#178ccf" stroke-width="1.2" fill="none" opacity="0.36"/><path d="M0.0 75.3 L4.0 74.4 L8.0 73.9 L12.0 73.9 L16.0 74.3 L20.0 75.0 L24.0 76.1 L28.0 77.3 L32.0 78.5 L36.0 79.7 L40.0 80.7 L44.0 81.4 L48.0 81.7 L52.0 81.7 L56.0 81.3 L60.0 80.6 L64.0 79.7 L68.0 78.7 L72.0 77.7 L76.0 76.8 L80.0 76.2 L84.0 75.9 L88.0 76.0 L92.0 76.5 L96.0 77.5 L100.0 78.7 L104.0 80.2 L108.0 81.8 L112.0 83.5 L116.0 84.9 L120.0 86.2 L124.0 87.0 L128.0 87.5 L132.0 87.4 L136.0 86.9 L140.0 85.9 L144.0 84.6 L148.0 83.1 L152.0 81.4 L156.0 79.8 L160.0 78.3 L164.0 77.1 L168.0 76.2 L172.0 75.7 L176.0 75.7 L180.0 76.0 L184.0 76.7 L188.0 77.6 L192.0 78.6 L196.0 79.6 L200.0 80.5 L204.0 81.2 L208.0 81.6 L212.0 81.6 L216.0 81.2 L220.0 80.5" stroke="#5cc6f6" stroke-width="1.2" fill="none" opacity="0.26"/><path d="M0.0 78.3 L4.0 77.5 L8.0 77.3 L12.0 77.4 L16.0 77.9 L20.0 78.8 L24.0 79.9 L28.0 81.1 L32.0 82.2 L36.0 83.2 L40.0 84.0 L44.0 84.4 L48.0 84.5 L52.0 84.2 L56.0 83.6 L60.0 82.7 L64.0 81.7 L68.0 80.6 L72.0 79.6 L76.0 78.9 L80.0 78.4 L84.0 78.3 L88.0 78.7 L92.0 79.4 L96.0 80.5 L100.0 82.0 L104.0 83.6 L108.0 85.3 L112.0 86.9 L116.0 88.3 L120.0 89.4 L124.0 90.2 L128.0 90.4 L132.0 90.2 L136.0 89.5 L140.0 88.4 L144.0 87.1 L148.0 85.5 L152.0 83.9 L156.0 82.4 L160.0 81.0 L164.0 80.0 L168.0 79.4 L172.0 79.1 L176.0 79.3 L180.0 79.8 L184.0 80.6 L188.0 81.5 L192.0 82.5 L196.0 83.5 L200.0 84.2 L204.0 84.7 L208.0 84.8 L212.0 84.5 L216.0 83.9 L220.0 83.0" stroke="#178ccf" stroke-width="1.2" fill="none" opacity="0.21"/><path d="M0.0 81.1 L4.0 80.6 L8.0 80.5 L12.0 80.9 L16.0 81.5 L20.0 82.5 L24.0 83.6 L28.0 84.7 L32.0 85.7 L36.0 86.5 L40.0 87.0 L44.0 87.2 L48.0 87.0 L52.0 86.5 L56.0 85.6 L60.0 84.6 L64.0 83.5 L68.0 82.4 L72.0 81.5 L76.0 80.9 L80.0 80.6 L84.0 80.7 L88.0 81.2 L92.0 82.2 L96.0 83.5 L100.0 85.1 L104.0 86.8 L108.0 88.5 L112.0 90.1 L116.0 91.4 L120.0 92.4 L124.0 93.0 L128.0 93.0 L132.0 92.7 L136.0 91.8 L140.0 90.7 L144.0 89.2 L148.0 87.7 L152.0 86.2 L156.0 84.8 L160.0 83.7 L164.0 82.9 L168.0 82.5 L172.0 82.5 L176.0 82.8 L180.0 83.5 L184.0 84.4 L188.0 85.3 L192.0 86.3 L196.0 87.1 L200.0 87.7 L204.0 87.9 L208.0 87.8 L212.0 87.3 L216.0 86.4 L220.0 85.3" stroke="#5cc6f6" stroke-width="1.2" fill="none" opacity="0.21"/><path d="M0.0 84.0 L4.0 83.7 L8.0 83.8 L12.0 84.3 L16.0 85.1 L20.0 86.1 L24.0 87.1 L28.0 88.1 L32.0 89.0 L36.0 89.6 L40.0 89.9 L44.0 89.8 L48.0 89.3 L52.0 88.6 L56.0 87.5 L60.0 86.4 L64.0 85.2 L68.0 84.1 L72.0 83.3 L76.0 82.8 L80.0 82.7 L84.0 83.0 L88.0 83.7 L92.0 84.9 L96.0 86.4 L100.0 88.0 L104.0 89.8 L108.0 91.5 L112.0 93.1 L116.0 94.3 L120.0 95.1 L124.0 95.5 L128.0 95.4 L132.0 94.8 L136.0 93.9 L140.0 92.6 L144.0 91.2 L148.0 89.8 L152.0 88.4 L156.0 87.2 L160.0 86.3 L164.0 85.7 L168.0 85.5 L172.0 85.8 L176.0 86.3 L180.0 87.1 L184.0 88.0 L188.0 89.0 L192.0 89.9 L196.0 90.5 L200.0 90.9 L204.0 90.9 L208.0 90.5 L212.0 89.7 L216.0 88.7 L220.0 87.3" stroke="#178ccf" stroke-width="1.2" fill="none" opacity="0.26"/><path d="M0.0 86.8 L4.0 86.7 L8.0 87.0 L12.0 87.7 L16.0 88.6 L20.0 89.6 L24.0 90.6 L28.0 91.5 L32.0 92.1 L36.0 92.5 L40.0 92.5 L44.0 92.1 L48.0 91.4 L52.0 90.5 L56.0 89.3 L60.0 88.0 L64.0 86.8 L68.0 85.8 L72.0 85.1 L76.0 84.7 L80.0 84.8 L84.0 85.3 L88.0 86.3 L92.0 87.6 L96.0 89.2 L100.0 90.9 L104.0 92.7 L108.0 94.4 L112.0 95.8 L116.0 96.9 L120.0 97.5 L124.0 97.7 L128.0 97.4 L132.0 96.8 L136.0 95.7 L140.0 94.4 L144.0 93.1 L148.0 91.7 L152.0 90.4 L156.0 89.5 L160.0 88.8 L164.0 88.5 L168.0 88.6 L172.0 89.0 L176.0 89.7 L180.0 90.6 L184.0 91.6 L188.0 92.5 L192.0 93.3 L196.0 93.7 L200.0 93.9 L204.0 93.6 L208.0 93.0 L212.0 92.0 L216.0 90.7 L220.0 89.3" stroke="#5cc6f6" stroke-width="1.2" fill="none" opacity="0.36"/><path d="M0.0 89.7 L4.0 89.8 L8.0 90.3 L12.0 91.1 L16.0 92.0 L20.0 93.0 L24.0 93.9 L28.0 94.6 L32.0 95.1 L36.0 95.2 L40.0 95.0 L44.0 94.4 L48.0 93.4 L52.0 92.3 L56.0 91.0 L60.0 89.7 L64.0 88.5 L68.0 87.5 L72.0 86.9 L76.0 86.7 L80.0 87.0 L84.0 87.7 L88.0 88.8 L92.0 90.3 L96.0 92.0 L100.0 93.7 L104.0 95.5 L108.0 97.1 L112.0 98.4 L116.0 99.3 L120.0 99.7 L124.0 99.7 L128.0 99.3 L132.0 98.5 L136.0 97.4 L140.0 96.1 L144.0 94.8 L148.0 93.6 L152.0 92.5 L156.0 91.7 L160.0 91.3 L164.0 91.3 L168.0 91.6 L172.0 92.2 L176.0 93.1 L180.0 94.1 L184.0 95.0 L188.0 95.9 L192.0 96.5 L196.0 96.8 L200.0 96.7 L204.0 96.2 L208.0 95.4 L212.0 94.2 L216.0 92.7 L220.0 91.2" stroke="#178ccf" stroke-width="1.2" fill="none" opacity="0.49"/><path d="M0.0 92.6 L4.0 93.0 L8.0 93.6 L12.0 94.5 L16.0 95.4 L20.0 96.4 L24.0 97.2 L28.0 97.8 L32.0 98.0 L36.0 97.9 L40.0 97.4 L44.0 96.5 L48.0 95.4 L52.0 94.0 L56.0 92.6 L60.0 91.3 L64.0 90.1 L68.0 89.3 L72.0 88.8 L76.0 88.8 L80.0 89.3 L84.0 90.2 L88.0 91.4 L92.0 93.0 L96.0 94.7 L100.0 96.5 L104.0 98.2 L108.0 99.7 L112.0 100.8 L116.0 101.5 L120.0 101.8 L124.0 101.6 L128.0 101.0 L132.0 100.1 L136.0 99.0 L140.0 97.7 L144.0 96.5 L148.0 95.4 L152.0 94.6 L156.0 94.1 L160.0 93.9 L164.0 94.1 L168.0 94.7 L172.0 95.5 L176.0 96.5 L180.0 97.5 L184.0 98.4 L188.0 99.2 L192.0 99.7 L196.0 99.7 L200.0 99.4 L204.0 98.7 L208.0 97.6 L212.0 96.2 L216.0 94.7 L220.0 93.0" stroke="#5cc6f6" stroke-width="1.2" fill="none" opacity="0.63"/><path d="M0.0 95.7 L4.0 96.2 L8.0 97.0 L12.0 97.9 L16.0 98.9 L20.0 99.8 L24.0 100.4 L28.0 100.8 L32.0 100.8 L36.0 100.4 L40.0 99.7 L44.0 98.6 L48.0 97.3 L52.0 95.8 L56.0 94.4 L60.0 93.0 L64.0 92.0 L68.0 91.2 L72.0 90.9 L76.0 91.1 L80.0 91.7 L84.0 92.8 L88.0 94.2 L92.0 95.8 L96.0 97.6 L100.0 99.3 L104.0 100.9 L108.0 102.2 L112.0 103.1 L116.0 103.7 L120.0 103.7 L124.0 103.4 L128.0 102.7 L132.0 101.7 L136.0 100.6 L140.0 99.4 L144.0 98.3 L148.0 97.4 L152.0 96.8 L156.0 96.5 L160.0 96.6 L164.0 97.1 L168.0 97.9 L172.0 98.8 L176.0 99.9 L180.0 100.9 L184.0 101.8 L188.0 102.4 L192.0 102.7 L196.0 102.6 L200.0 102.1 L204.0 101.1 L208.0 99.9 L212.0 98.3 L216.0 96.6 L220.0 95.0" stroke="#178ccf" stroke-width="1.2" fill="none" opacity="0.76"/><path d="M0.0 98.9 L4.0 99.6 L8.0 100.5 L12.0 101.5 L16.0 102.4 L20.0 103.2 L24.0 103.7 L28.0 103.9 L32.0 103.6 L36.0 103.0 L40.0 102.0 L44.0 100.8 L48.0 99.3 L52.0 97.7 L56.0 96.3 L60.0 95.0 L64.0 94.0 L68.0 93.4 L72.0 93.2 L76.0 93.6 L80.0 94.4 L84.0 95.6 L88.0 97.1 L92.0 98.8 L96.0 100.5 L100.0 102.2 L104.0 103.6 L108.0 104.7 L112.0 105.5 L116.0 105.8 L120.0 105.6 L124.0 105.1 L128.0 104.3 L132.0 103.3 L136.0 102.2 L140.0 101.1 L144.0 100.2 L148.0 99.5 L152.0 99.1 L156.0 99.2 L160.0 99.5 L164.0 100.2 L168.0 101.2 L172.0 102.2 L176.0 103.4 L180.0 104.4 L184.0 105.2 L188.0 105.7 L192.0 105.8 L196.0 105.4 L200.0 104.7 L204.0 103.6 L208.0 102.1 L212.0 100.4 L216.0 98.7 L220.0 97.0" stroke="#5cc6f6" stroke-width="1.2" fill="none" opacity="0.85"/><path d="M0.0 102.4 L4.0 103.2 L8.0 104.2 L12.0 105.2 L16.0 106.1 L20.0 106.7 L24.0 107.0 L28.0 107.0 L32.0 106.5 L36.0 105.6 L40.0 104.4 L44.0 103.0 L48.0 101.4 L52.0 99.8 L56.0 98.3 L60.0 97.1 L64.0 96.2 L68.0 95.8 L72.0 95.8 L76.0 96.4 L80.0 97.3 L84.0 98.6 L88.0 100.2 L92.0 101.9 L96.0 103.5 L100.0 105.1 L104.0 106.3 L108.0 107.2 L112.0 107.8 L116.0 107.9 L120.0 107.6 L124.0 106.9 L128.0 106.0 L132.0 105.0 L136.0 103.9 L140.0 103.0 L144.0 102.2 L148.0 101.8 L152.0 101.7 L156.0 102.0 L160.0 102.6 L164.0 103.5 L168.0 104.6 L172.0 105.8 L176.0 106.9 L180.0 107.9 L184.0 108.6 L188.0 108.9 L192.0 108.8 L196.0 108.3 L200.0 107.3 L204.0 106.0 L208.0 104.4 L212.0 102.7 L216.0 100.9 L220.0 99.3" stroke="#178ccf" stroke-width="1.2" fill="none" opacity="0.90"/><path d="M0.0 106.0 L4.0 107.0 L8.0 108.0 L12.0 109.0 L16.0 109.8 L20.0 110.2 L24.0 110.4 L28.0 110.1 L32.0 109.4 L36.0 108.3 L40.0 106.9 L44.0 105.4 L48.0 103.7 L52.0 102.1 L56.0 100.6 L60.0 99.5 L64.0 98.8 L68.0 98.5 L72.0 98.8 L76.0 99.4 L80.0 100.5 L84.0 101.9 L88.0 103.5 L92.0 105.1 L96.0 106.7 L100.0 108.1 L104.0 109.1 L108.0 109.8 L112.0 110.1 L116.0 110.0 L120.0 109.5 L124.0 108.8 L128.0 107.8 L132.0 106.8 L136.0 105.8 L140.0 105.0 L144.0 104.5 L148.0 104.3 L152.0 104.5 L156.0 105.0 L160.0 105.9 L164.0 107.0 L168.0 108.2 L172.0 109.4 L176.0 110.6 L180.0 111.5 L184.0 112.0 L188.0 112.2 L192.0 111.9 L196.0 111.2 L200.0 110.0 L204.0 108.5 L208.0 106.9 L212.0 105.1 L216.0 103.3 L220.0 101.8" stroke="#5cc6f6" stroke-width="1.2" fill="none" opacity="0.89"/><path d="M0.0 109.8 L4.0 110.9 L8.0 112.0 L12.0 112.9 L16.0 113.5 L20.0 113.9 L24.0 113.8 L28.0 113.3 L32.0 112.4 L36.0 111.1 L40.0 109.6 L44.0 107.9 L48.0 106.2 L52.0 104.6 L56.0 103.2 L60.0 102.3 L64.0 101.7 L68.0 101.6 L72.0 102.0 L76.0 102.8 L80.0 104.0 L84.0 105.4 L88.0 107.0 L92.0 108.5 L96.0 110.0 L100.0 111.2 L104.0 112.0 L108.0 112.5 L112.0 112.5 L116.0 112.2 L120.0 111.6 L124.0 110.7 L128.0 109.8 L132.0 108.8 L136.0 107.9 L140.0 107.3 L144.0 107.0 L148.0 107.1 L152.0 107.5 L156.0 108.3 L160.0 109.4 L164.0 110.6 L168.0 111.9 L172.0 113.2 L176.0 114.3 L180.0 115.1 L184.0 115.5 L188.0 115.5 L192.0 115.0 L196.0 114.1 L200.0 112.8 L204.0 111.2 L208.0 109.4 L212.0 107.7 L216.0 106.0 L220.0 104.5" stroke="#178ccf" stroke-width="1.2" fill="none" opacity="0.83"/><path d="M0.0 113.8 L4.0 115.0 L8.0 116.0 L12.0 116.9 L16.0 117.4 L20.0 117.6 L24.0 117.3 L28.0 116.6 L32.0 115.4 L36.0 114.0 L40.0 112.3 L44.0 110.6 L48.0 108.9 L52.0 107.4 L56.0 106.1 L60.0 105.3 L64.0 104.9 L68.0 105.0 L72.0 105.5 L76.0 106.5 L80.0 107.7 L84.0 109.2 L88.0 110.7 L92.0 112.1 L96.0 113.4 L100.0 114.4 L104.0 115.0 L108.0 115.2 L112.0 115.0 L116.0 114.5 L120.0 113.8 L124.0 112.9 L128.0 111.9 L132.0 111.0 L136.0 110.3 L140.0 109.9 L144.0 109.8 L148.0 110.1 L152.0 110.8 L156.0 111.8 L160.0 113.1 L164.0 114.5 L168.0 115.8 L172.0 117.1 L176.0 118.1 L180.0 118.8 L184.0 119.1 L188.0 118.9 L192.0 118.2 L196.0 117.1 L200.0 115.7 L204.0 114.0 L208.0 112.2 L212.0 110.5 L216.0 108.9 L220.0 107.6" stroke="#5cc6f6" stroke-width="1.2" fill="none" opacity="0.72"/><path d="M0.0 118.0 L4.0 119.2 L8.0 120.2 L12.0 121.0 L16.0 121.3 L20.0 121.3 L24.0 120.8 L28.0 119.9 L32.0 118.6 L36.0 117.0 L40.0 115.3 L44.0 113.5 L48.0 111.8 L52.0 110.4 L56.0 109.3 L60.0 108.6 L64.0 108.4 L68.0 108.7 L72.0 109.4 L76.0 110.4 L80.0 111.7 L84.0 113.1 L88.0 114.6 L92.0 115.8 L96.0 116.9 L100.0 117.6 L104.0 118.0 L108.0 118.0 L112.0 117.6 L116.0 117.0 L120.0 116.1 L124.0 115.1 L128.0 114.2 L132.0 113.4 L136.0 112.9 L140.0 112.7 L144.0 112.9 L148.0 113.4 L152.0 114.3 L156.0 115.6 L160.0 117.0 L164.0 118.4 L168.0 119.9 L172.0 121.1 L176.0 122.0 L180.0 122.5 L184.0 122.6 L188.0 122.2 L192.0 121.4 L196.0 120.2 L200.0 118.6 L204.0 116.9 L208.0 115.1 L212.0 113.5 L216.0 112.0 L220.0 110.9" stroke="#178ccf" stroke-width="1.2" fill="none" opacity="0.59"/><path d="M0.0 122.3 L4.0 123.5 L8.0 124.4 L12.0 125.1 L16.0 125.3 L20.0 125.0 L24.0 124.3 L28.0 123.2 L32.0 121.8 L36.0 120.1 L40.0 118.3 L44.0 116.6 L48.0 115.0 L52.0 113.7 L56.0 112.7 L60.0 112.3 L64.0 112.2 L68.0 112.6 L72.0 113.5 L76.0 114.6 L80.0 115.9 L84.0 117.2 L88.0 118.5 L92.0 119.7 L96.0 120.5 L100.0 121.0 L104.0 121.1 L108.0 120.8 L112.0 120.3 L116.0 119.4 L120.0 118.5 L124.0 117.5 L128.0 116.7 L132.0 116.0 L136.0 115.7 L140.0 115.7 L144.0 116.1 L148.0 116.9 L152.0 118.1 L156.0 119.5 L160.0 121.0 L164.0 122.5 L168.0 123.9 L172.0 125.1 L176.0 125.9 L180.0 126.3 L184.0 126.2 L188.0 125.6 L192.0 124.6 L196.0 123.3 L200.0 121.7 L204.0 119.9 L208.0 118.2 L212.0 116.7 L216.0 115.4 L220.0 114.4" stroke="#5cc6f6" stroke-width="1.2" fill="none" opacity="0.45"/><path d="M0.0 126.6 L4.0 127.8 L8.0 128.6 L12.0 129.1 L16.0 129.2 L20.0 128.7 L24.0 127.8 L28.0 126.6 L32.0 125.0 L36.0 123.3 L40.0 121.5 L44.0 119.8 L48.0 118.3 L52.0 117.2 L56.0 116.4 L60.0 116.1 L64.0 116.3 L68.0 116.8 L72.0 117.8 L76.0 118.9 L80.0 120.2 L84.0 121.5 L88.0 122.6 L92.0 123.5 L96.0 124.1 L100.0 124.3 L104.0 124.2 L108.0 123.7 L112.0 122.9 L116.0 122.0 L120.0 121.0 L124.0 120.1 L128.0 119.3 L132.0 118.8 L136.0 118.7 L140.0 118.9 L144.0 119.6 L148.0 120.6 L152.0 121.9 L156.0 123.5 L160.0 125.1 L164.0 126.6 L168.0 128.0 L172.0 129.1 L176.0 129.7 L180.0 129.9 L184.0 129.7 L188.0 128.9 L192.0 127.8 L196.0 126.4 L200.0 124.7 L204.0 123.0 L208.0 121.4 L212.0 120.0 L216.0 118.9 L220.0 118.2" stroke="#178ccf" stroke-width="1.2" fill="none" opacity="0.33"/><path d="M0.0 131.0 L4.0 132.0 L8.0 132.8 L12.0 133.1 L16.0 132.9 L20.0 132.3 L24.0 131.3 L28.0 129.9 L32.0 128.2 L36.0 126.5 L40.0 124.7 L44.0 123.1 L48.0 121.8 L52.0 120.8 L56.0 120.3 L60.0 120.2 L64.0 120.5 L68.0 121.2 L72.0 122.2 L76.0 123.3 L80.0 124.6 L84.0 125.7 L88.0 126.7 L92.0 127.3 L96.0 127.7 L100.0 127.6 L104.0 127.2 L108.0 126.6 L112.0 125.6 L116.0 124.6 L120.0 123.6 L124.0 122.7 L128.0 122.0 L132.0 121.7 L136.0 121.8 L140.0 122.3 L144.0 123.2 L148.0 124.4 L152.0 125.9 L156.0 127.6 L160.0 129.2 L164.0 130.7 L168.0 132.0 L172.0 133.0 L176.0 133.5 L180.0 133.5 L184.0 133.1 L188.0 132.2 L192.0 131.0 L196.0 129.5 L200.0 127.8 L204.0 126.2 L208.0 124.7 L212.0 123.5 L216.0 122.6 L220.0 122.1" stroke="#5cc6f6" stroke-width="1.2" fill="none" opacity="0.24"/><path d="M0.0 135.2 L4.0 136.2 L8.0 136.8 L12.0 136.9 L16.0 136.6 L20.0 135.8 L24.0 134.6 L28.0 133.1 L32.0 131.4 L36.0 129.7 L40.0 128.0 L44.0 126.5 L48.0 125.4 L52.0 124.6 L56.0 124.2 L60.0 124.3 L64.0 124.8 L68.0 125.6 L72.0 126.7 L76.0 127.8 L80.0 128.9 L84.0 129.9 L88.0 130.7 L92.0 131.1 L96.0 131.2 L100.0 130.9 L104.0 130.2 L108.0 129.4 L112.0 128.3 L116.0 127.2 L120.0 126.2 L124.0 125.4 L128.0 124.9 L132.0 124.8 L136.0 125.0 L140.0 125.8 L144.0 126.9 L148.0 128.3 L152.0 129.9 L156.0 131.6 L160.0 133.3 L164.0 134.8 L168.0 135.9 L172.0 136.7 L176.0 137.1 L180.0 136.9 L184.0 136.3 L188.0 135.3 L192.0 134.0 L196.0 132.5 L200.0 130.9 L204.0 129.4 L208.0 128.1 L212.0 127.1 L216.0 126.4 L220.0 126.1" stroke="#178ccf" stroke-width="1.2" fill="none" opacity="0.20"/><path d="M0.0 139.2 L4.0 140.1 L8.0 140.6 L12.0 140.5 L16.0 140.0 L20.0 139.1 L24.0 137.8 L28.0 136.2 L32.0 134.5 L36.0 132.8 L40.0 131.3 L44.0 129.9 L48.0 129.0 L52.0 128.4 L56.0 128.3 L60.0 128.5 L64.0 129.2 L68.0 130.1 L72.0 131.1 L76.0 132.2 L80.0 133.2 L84.0 134.0 L88.0 134.5 L92.0 134.7 L96.0 134.5 L100.0 134.0 L104.0 133.1 L108.0 132.1 L112.0 130.9 L116.0 129.8 L120.0 128.8 L124.0 128.1 L128.0 127.8 L132.0 127.8 L136.0 128.3 L140.0 129.3 L144.0 130.5 L148.0 132.1 L152.0 133.8 L156.0 135.6 L160.0 137.2 L164.0 138.6 L168.0 139.7 L172.0 140.3 L176.0 140.5 L180.0 140.1 L184.0 139.4 L188.0 138.3 L192.0 136.9 L196.0 135.4 L200.0 133.9 L204.0 132.6 L208.0 131.5 L212.0 130.7 L216.0 130.2 L220.0 130.2" stroke="#5cc6f6" stroke-width="1.2" fill="none" opacity="0.22"/><path d="M0.0 143.1 L4.0 143.8 L8.0 144.1 L12.0 143.9 L16.0 143.2 L20.0 142.2 L24.0 140.8 L28.0 139.2 L32.0 137.5 L36.0 135.9 L40.0 134.5 L44.0 133.3 L48.0 132.6 L52.0 132.2 L56.0 132.3 L60.0 132.8 L64.0 133.5 L68.0 134.5 L72.0 135.5 L76.0 136.5 L80.0 137.4 L84.0 138.0 L88.0 138.2 L92.0 138.1 L96.0 137.7 L100.0 136.9 L104.0 135.9 L108.0 134.7 L112.0 133.5 L116.0 132.4 L120.0 131.5 L124.0 130.9 L128.0 130.7 L132.0 131.0 L136.0 131.7 L140.0 132.8 L144.0 134.2 L148.0 135.9 L152.0 137.7 L156.0 139.4 L160.0 141.0 L164.0 142.3 L168.0 143.2 L172.0 143.6 L176.0 143.6 L180.0 143.1 L184.0 142.2 L188.0 141.1 L192.0 139.7 L196.0 138.3 L200.0 136.9 L204.0 135.7 L208.0 134.8 L212.0 134.2 L216.0 134.1 L220.0 134.3" stroke="#178ccf" stroke-width="1.2" fill="none" opacity="0.29"/><path d="M0.0 146.7 L4.0 147.2 L8.0 147.3 L12.0 147.0 L16.0 146.2 L20.0 145.0 L24.0 143.5 L28.0 141.9 L32.0 140.3 L36.0 138.9 L40.0 137.6 L44.0 136.7 L48.0 136.2 L52.0 136.1 L56.0 136.3 L60.0 136.9 L64.0 137.8 L68.0 138.8 L72.0 139.7 L76.0 140.6 L80.0 141.3 L84.0 141.7 L88.0 141.7 L92.0 141.3 L96.0 140.6 L100.0 139.6 L104.0 138.4 L108.0 137.2 L112.0 135.9 L116.0 134.8 L120.0 134.0 L124.0 133.6 L128.0 133.6 L132.0 134.1 L136.0 134.9 L140.0 136.2 L144.0 137.8 L148.0 139.5 L152.0 141.3 L156.0 143.0 L160.0 144.5 L164.0 145.6 L168.0 146.4 L172.0 146.6 L176.0 146.4 L180.0 145.8 L184.0 144.8 L188.0 143.6 L192.0 142.3 L196.0 140.9 L200.0 139.7 L204.0 138.7 L208.0 138.0 L212.0 137.7 L216.0 137.8 L220.0 138.2" stroke="#5cc6f6" stroke-width="1.2" fill="none" opacity="0.40"/><path d="M0.0 149.9 L4.0 150.3 L8.0 150.3 L12.0 149.7 L16.0 148.8 L20.0 147.5 L24.0 146.1 L28.0 144.5 L32.0 143.0 L36.0 141.7 L40.0 140.7 L44.0 140.0 L48.0 139.7 L52.0 139.8 L56.0 140.3 L60.0 141.0 L64.0 141.9 L68.0 142.9 L72.0 143.8 L76.0 144.6 L80.0 145.0 L84.0 145.2 L88.0 144.9 L92.0 144.3 L96.0 143.4 L100.0 142.2 L104.0 140.8 L108.0 139.5 L112.0 138.2 L116.0 137.2 L120.0 136.5 L124.0 136.3 L128.0 136.5 L132.0 137.1 L136.0 138.2 L140.0 139.6 L144.0 141.3 L148.0 143.0 L152.0 144.8 L156.0 146.4 L160.0 147.8 L164.0 148.7 L168.0 149.2 L172.0 149.3 L176.0 149.0 L180.0 148.2 L184.0 147.2 L188.0 145.9 L192.0 144.7 L196.0 143.4 L200.0 142.4 L204.0 141.6 L208.0 141.2 L212.0 141.2 L216.0 141.5 L220.0 142.1" stroke="#178ccf" stroke-width="1.2" fill="none" opacity="0.53"/><path d="M0.0 152.9 L4.0 153.1 L8.0 152.9 L12.0 152.2 L16.0 151.1 L20.0 149.8 L24.0 148.4 L28.0 146.9 L32.0 145.6 L36.0 144.4 L40.0 143.6 L44.0 143.2 L48.0 143.1 L52.0 143.5 L56.0 144.1 L60.0 144.9 L64.0 145.9 L68.0 146.8 L72.0 147.6 L76.0 148.2 L80.0 148.5 L84.0 148.4 L88.0 147.9 L92.0 147.0 L96.0 145.9 L100.0 144.5 L104.0 143.1 L108.0 141.7 L112.0 140.5 L116.0 139.5 L120.0 139.0 L124.0 138.9 L128.0 139.3 L132.0 140.1 L136.0 141.3 L140.0 142.9 L144.0 144.6 L148.0 146.4 L152.0 148.1 L156.0 149.6 L160.0 150.7 L164.0 151.5 L168.0 151.8 L172.0 151.7 L176.0 151.2 L180.0 150.3 L184.0 149.3 L188.0 148.1 L192.0 146.9 L196.0 145.8 L200.0 145.0 L204.0 144.5 L208.0 144.3 L212.0 144.5 L216.0 145.1 L220.0 145.9" stroke="#5cc6f6" stroke-width="1.2" fill="none" opacity="0.67"/><path d="M0.0 155.5 L4.0 155.6 L8.0 155.2 L12.0 154.4 L16.0 153.2 L20.0 151.9 L24.0 150.5 L28.0 149.1 L32.0 148.0 L36.0 147.1 L40.0 146.5 L44.0 146.3 L48.0 146.5 L52.0 147.0 L56.0 147.8 L60.0 148.7 L64.0 149.7 L68.0 150.6 L72.0 151.3 L76.0 151.7 L80.0 151.7 L84.0 151.3 L88.0 150.6 L92.0 149.5 L96.0 148.2 L100.0 146.7 L104.0 145.2 L108.0 143.8 L112.0 142.6 L116.0 141.8 L120.0 141.4 L124.0 141.5 L128.0 142.1 L132.0 143.1 L136.0 144.4 L140.0 146.0 L144.0 147.8 L148.0 149.5 L152.0 151.1 L156.0 152.4 L160.0 153.4 L164.0 154.0 L168.0 154.1 L172.0 153.8 L176.0 153.2 L180.0 152.2 L184.0 151.1 L188.0 150.0 L192.0 148.9 L196.0 148.0 L200.0 147.4 L204.0 147.2 L208.0 147.3 L212.0 147.8 L216.0 148.5 L220.0 149.5" stroke="#178ccf" stroke-width="1.2" fill="none" opacity="0.79"/><path d="M0.0 157.9 L4.0 157.7 L8.0 157.2 L12.0 156.3 L16.0 155.1 L20.0 153.8 L24.0 152.5 L28.0 151.3 L32.0 150.3 L36.0 149.6 L40.0 149.3 L44.0 149.4 L48.0 149.8 L52.0 150.5 L56.0 151.4 L60.0 152.4 L64.0 153.3 L68.0 154.1 L72.0 154.6 L76.0 154.8 L80.0 154.6 L84.0 154.0 L88.0 153.1 L92.0 151.8 L96.0 150.3 L100.0 148.7 L104.0 147.2 L108.0 145.8 L112.0 144.8 L116.0 144.1 L120.0 143.9 L124.0 144.1 L128.0 144.9 L132.0 146.0 L136.0 147.4 L140.0 149.1 L144.0 150.8 L148.0 152.4 L152.0 153.9 L156.0 155.0 L160.0 155.8 L164.0 156.2 L168.0 156.1 L172.0 155.7 L176.0 154.9 L180.0 153.9 L184.0 152.8 L188.0 151.8 L192.0 150.8 L196.0 150.2 L200.0 149.8 L204.0 149.8 L208.0 150.2 L212.0 150.9 L216.0 151.9 L220.0 153.0" stroke="#5cc6f6" stroke-width="1.2" fill="none" opacity="0.87"/><path d="M0.0 160.0 L4.0 159.6 L8.0 159.0 L12.0 158.0 L16.0 156.8 L20.0 155.5 L24.0 154.3 L28.0 153.3 L32.0 152.5 L36.0 152.1 L40.0 152.1 L44.0 152.4 L48.0 153.0 L52.0 153.9 L56.0 154.9 L60.0 155.9 L64.0 156.8 L68.0 157.5 L72.0 157.8 L76.0 157.8 L80.0 157.4 L84.0 156.5 L88.0 155.3 L92.0 153.9 L96.0 152.3 L100.0 150.7 L104.0 149.1 L108.0 147.8 L112.0 146.9 L116.0 146.4 L120.0 146.3 L124.0 146.8 L128.0 147.6 L132.0 148.9 L136.0 150.4 L140.0 152.0 L144.0 153.7 L148.0 155.2 L152.0 156.5 L156.0 157.5 L160.0 158.0 L164.0 158.1 L168.0 157.9 L172.0 157.3 L176.0 156.4 L180.0 155.4 L184.0 154.4 L188.0 153.4 L192.0 152.7 L196.0 152.3 L200.0 152.2 L204.0 152.4 L208.0 153.1 L212.0 154.0 L216.0 155.1 L220.0 156.3" stroke="#178ccf" stroke-width="1.2" fill="none" opacity="0.90"/><path d="M0.0 161.8 L4.0 161.4 L8.0 160.6 L12.0 159.5 L16.0 158.3 L20.0 157.2 L24.0 156.1 L28.0 155.3 L32.0 154.8 L36.0 154.7 L40.0 154.9 L44.0 155.4 L48.0 156.2 L52.0 157.2 L56.0 158.3 L60.0 159.3 L64.0 160.1 L68.0 160.7 L72.0 160.8 L76.0 160.6 L80.0 159.9 L84.0 158.9 L88.0 157.5 L92.0 155.9 L96.0 154.2 L100.0 152.6 L104.0 151.1 L108.0 149.9 L112.0 149.1 L116.0 148.8 L120.0 148.9 L124.0 149.5 L128.0 150.5 L132.0 151.8 L136.0 153.3 L140.0 154.9 L144.0 156.5 L148.0 157.9 L152.0 159.0 L156.0 159.7 L160.0 160.0 L164.0 159.9 L168.0 159.5 L172.0 158.8 L176.0 157.8 L180.0 156.8 L184.0 155.9 L188.0 155.1 L192.0 154.6 L196.0 154.4 L200.0 154.5 L204.0 155.1 L208.0 155.9 L212.0 157.0 L216.0 158.3 L220.0 159.6" stroke="#5cc6f6" stroke-width="1.2" fill="none" opacity="0.88"/><path d="M0.0 163.6 L4.0 163.0 L8.0 162.1 L12.0 161.0 L16.0 159.9 L20.0 158.8 L24.0 158.0 L28.0 157.4 L32.0 157.1 L36.0 157.2 L40.0 157.7 L44.0 158.5 L48.0 159.5 L52.0 160.6 L56.0 161.7 L60.0 162.6 L64.0 163.3 L68.0 163.7 L72.0 163.7 L76.0 163.2 L80.0 162.4 L84.0 161.1 L88.0 159.6 L92.0 157.9 L96.0 156.2 L100.0 154.5 L104.0 153.1 L108.0 152.1 L112.0 151.4 L116.0 151.3 L120.0 151.6 L124.0 152.3 L128.0 153.4 L132.0 154.8 L136.0 156.3 L140.0 157.8 L144.0 159.3 L148.0 160.4 L152.0 161.3 L156.0 161.8 L160.0 161.9 L164.0 161.6 L168.0 161.0 L172.0 160.2 L176.0 159.2 L180.0 158.2 L184.0 157.4 L188.0 156.8 L192.0 156.5 L196.0 156.5 L200.0 156.9 L204.0 157.7 L208.0 158.8 L212.0 160.1 L216.0 161.4 L220.0 162.8" stroke="#178ccf" stroke-width="1.2" fill="none" opacity="0.80"/><path d="M0.0 165.2 L4.0 164.5 L8.0 163.6 L12.0 162.5 L16.0 161.5 L20.0 160.6 L24.0 159.9 L28.0 159.5 L32.0 159.6 L36.0 159.9 L40.0 160.6 L44.0 161.6 L48.0 162.7 L52.0 163.9 L56.0 165.0 L60.0 165.9 L64.0 166.5 L68.0 166.7 L72.0 166.5 L76.0 165.8 L80.0 164.7 L84.0 163.3 L88.0 161.7 L92.0 159.9 L96.0 158.2 L100.0 156.6 L104.0 155.3 L108.0 154.4 L112.0 153.9 L116.0 153.9 L120.0 154.4 L124.0 155.3 L128.0 156.5 L132.0 157.9 L136.0 159.3 L140.0 160.8 L144.0 162.0 L148.0 163.0 L152.0 163.6 L156.0 163.9 L160.0 163.7 L164.0 163.2 L168.0 162.5 L172.0 161.6 L176.0 160.6 L180.0 159.7 L184.0 159.0 L188.0 158.6 L192.0 158.5 L196.0 158.8 L200.0 159.5 L204.0 160.5 L208.0 161.8 L212.0 163.2 L216.0 164.6 L220.0 165.9" stroke="#5cc6f6" stroke-width="1.2" fill="none" opacity="0.68"/><path d="M0.0 166.9 L4.0 166.1 L8.0 165.1 L12.0 164.1 L16.0 163.1 L20.0 162.4 L24.0 162.0 L28.0 161.9 L32.0 162.2 L36.0 162.8 L40.0 163.7 L44.0 164.9 L48.0 166.1 L52.0 167.3 L56.0 168.4 L60.0 169.2 L64.0 169.6 L68.0 169.7 L72.0 169.2 L76.0 168.4 L80.0 167.1 L84.0 165.6 L88.0 163.8 L92.0 162.0 L96.0 160.3 L100.0 158.9 L104.0 157.7 L108.0 157.0 L112.0 156.7 L116.0 156.9 L120.0 157.5 L124.0 158.4 L128.0 159.7 L132.0 161.1 L136.0 162.4 L140.0 163.7 L144.0 164.8 L148.0 165.5 L152.0 165.9 L156.0 165.9 L160.0 165.5 L164.0 164.9 L168.0 164.0 L172.0 163.0 L176.0 162.1 L180.0 161.3 L184.0 160.8 L188.0 160.5 L192.0 160.7 L196.0 161.3 L200.0 162.2 L204.0 163.4 L208.0 164.8 L212.0 166.3 L216.0 167.8 L220.0 169.1" stroke="#178ccf" stroke-width="1.2" fill="none" opacity="0.55"/><path d="M0.0 168.6 L4.0 167.7 L8.0 166.7 L12.0 165.8 L16.0 165.0 L20.0 164.4 L24.0 164.2 L28.0 164.4 L32.0 165.0 L36.0 165.8 L40.0 166.9 L44.0 168.2 L48.0 169.5 L52.0 170.8 L56.0 171.8 L60.0 172.5 L64.0 172.8 L68.0 172.6 L72.0 172.0 L76.0 170.9 L80.0 169.5 L84.0 167.9 L88.0 166.1 L92.0 164.3 L96.0 162.7 L100.0 161.3 L104.0 160.3 L108.0 159.8 L112.0 159.7 L116.0 160.0 L120.0 160.8 L124.0 161.8 L128.0 163.1 L132.0 164.4 L136.0 165.7 L140.0 166.8 L144.0 167.6 L148.0 168.1 L152.0 168.2 L156.0 168.0 L160.0 167.4 L164.0 166.6 L168.0 165.6 L172.0 164.7 L176.0 163.8 L180.0 163.1 L184.0 162.7 L188.0 162.7 L192.0 163.1 L196.0 163.9 L200.0 165.0 L204.0 166.4 L208.0 168.0 L212.0 169.6 L216.0 171.0 L220.0 172.3" stroke="#5cc6f6" stroke-width="1.2" fill="none" opacity="0.41"/><path d="M0.0 170.4 L4.0 169.5 L8.0 168.5 L12.0 167.7 L16.0 167.0 L20.0 166.7 L24.0 166.8 L28.0 167.2 L32.0 168.0 L36.0 169.1 L40.0 170.4 L44.0 171.8 L48.0 173.1 L52.0 174.3 L56.0 175.2 L60.0 175.8 L64.0 175.9 L68.0 175.5 L72.0 174.7 L76.0 173.5 L80.0 172.0 L84.0 170.3 L88.0 168.5 L92.0 166.8 L96.0 165.3 L100.0 164.1 L104.0 163.3 L108.0 162.9 L112.0 163.0 L116.0 163.5 L120.0 164.3 L124.0 165.4 L128.0 166.7 L132.0 167.9 L136.0 169.0 L140.0 169.9 L144.0 170.5 L148.0 170.8 L152.0 170.6 L156.0 170.1 L160.0 169.4 L164.0 168.4 L168.0 167.4 L172.0 166.5 L176.0 165.6 L180.0 165.1 L184.0 164.9 L188.0 165.2 L192.0 165.8 L196.0 166.8 L200.0 168.1 L204.0 169.7 L208.0 171.3 L212.0 172.9 L216.0 174.4 L220.0 175.5" stroke="#178ccf" stroke-width="1.2" fill="none" opacity="0.30"/><path d="M0.0 172.4 L4.0 171.4 L8.0 170.5 L12.0 169.8 L16.0 169.4 L20.0 169.3 L24.0 169.6 L28.0 170.2 L32.0 171.2 L36.0 172.5 L40.0 174.0 L44.0 175.4 L48.0 176.8 L52.0 177.9 L56.0 178.7 L60.0 179.1 L64.0 179.1 L68.0 178.5 L72.0 177.6 L76.0 176.2 L80.0 174.6 L84.0 172.9 L88.0 171.1 L92.0 169.5 L96.0 168.1 L100.0 167.1 L104.0 166.5 L108.0 166.3 L112.0 166.6 L116.0 167.2 L120.0 168.2 L124.0 169.3 L128.0 170.5 L132.0 171.6 L136.0 172.5 L140.0 173.2 L144.0 173.5 L148.0 173.5 L152.0 173.1 L156.0 172.4 L160.0 171.5 L164.0 170.5 L168.0 169.4 L172.0 168.5 L176.0 167.8 L180.0 167.4 L184.0 167.4 L188.0 167.9 L192.0 168.8 L196.0 170.0 L200.0 171.5 L204.0 173.1 L208.0 174.8 L212.0 176.4 L216.0 177.8 L220.0 178.8" stroke="#5cc6f6" stroke-width="1.2" fill="none" opacity="0.22"/><path d="M0.0 174.5 L4.0 173.5 L8.0 172.7 L12.0 172.2 L16.0 171.9 L20.0 172.1 L24.0 172.6 L28.0 173.5 L32.0 174.7 L36.0 176.2 L40.0 177.7 L44.0 179.2 L48.0 180.6 L52.0 181.6 L56.0 182.3 L60.0 182.5 L64.0 182.3 L68.0 181.6 L72.0 180.5 L76.0 179.0 L80.0 177.4 L84.0 175.6 L88.0 173.9 L92.0 172.4 L96.0 171.2 L100.0 170.4 L104.0 170.0 L108.0 170.1 L112.0 170.5 L116.0 171.3 L120.0 172.2 L124.0 173.4 L128.0 174.5 L132.0 175.4 L136.0 176.2 L140.0 176.6 L144.0 176.7 L148.0 176.4 L152.0 175.7 L156.0 174.8 L160.0 173.8 L164.0 172.7 L168.0 171.6 L172.0 170.8 L176.0 170.2 L180.0 170.0 L184.0 170.2 L188.0 170.9 L192.0 172.0 L196.0 173.4 L200.0 175.0 L204.0 176.7 L208.0 178.4 L212.0 180.0 L216.0 181.2 L220.0 182.1" stroke="#178ccf" stroke-width="1.2" fill="none" opacity="0.20"/><path d="M0.0 176.8 L4.0 175.9 L8.0 175.2 L12.0 174.8 L16.0 174.8 L20.0 175.1 L24.0 175.9 L28.0 177.0 L32.0 178.4 L36.0 180.0 L40.0 181.6 L44.0 183.1 L48.0 184.4 L52.0 185.4 L56.0 185.9 L60.0 185.9 L64.0 185.5 L68.0 184.7 L72.0 183.4 L76.0 181.9 L80.0 180.2 L84.0 178.5 L88.0 177.0 L92.0 175.6 L96.0 174.6 L100.0 174.0 L104.0 173.8 L108.0 174.1 L112.0 174.7 L116.0 175.5 L120.0 176.5 L124.0 177.6 L128.0 178.6 L132.0 179.4 L136.0 179.9 L140.0 180.1 L144.0 179.9 L148.0 179.3 L152.0 178.5 L156.0 177.4 L160.0 176.2 L164.0 175.1 L168.0 174.0 L172.0 173.3 L176.0 172.9 L180.0 172.9 L184.0 173.3 L188.0 174.2 L192.0 175.4 L196.0 177.0 L200.0 178.7 L204.0 180.5 L208.0 182.1 L212.0 183.6 L216.0 184.7 L220.0 185.4" stroke="#5cc6f6" stroke-width="1.2" fill="none" opacity="0.23"/><path d="M0.0 179.2 L4.0 178.4 L8.0 177.8 L12.0 177.6 L16.0 177.8 L20.0 178.4 L24.0 179.4 L28.0 180.8 L32.0 182.3 L36.0 184.0 L40.0 185.6 L44.0 187.1 L48.0 188.3 L52.0 189.1 L56.0 189.4 L60.0 189.3 L64.0 188.7 L68.0 187.7 L72.0 186.4 L76.0 184.8 L80.0 183.2 L84.0 181.6 L88.0 180.2 L92.0 179.0 L96.0 178.3 L100.0 177.9 L104.0 177.9 L108.0 178.3 L112.0 179.0 L116.0 180.0 L120.0 181.0 L124.0 182.0 L128.0 182.8 L132.0 183.4 L136.0 183.7 L140.0 183.6 L144.0 183.1 L148.0 182.3 L152.0 181.3 L156.0 180.1 L160.0 178.8 L164.0 177.7 L168.0 176.7 L172.0 176.1 L176.0 175.8 L180.0 176.0 L184.0 176.7 L188.0 177.7 L192.0 179.1 L196.0 180.8 L200.0 182.6 L204.0 184.3 L208.0 185.9 L212.0 187.3 L216.0 188.2 L220.0 188.8" stroke="#178ccf" stroke-width="1.2" fill="none" opacity="0.32"/><path d="M0.0 181.8 L4.0 181.1 L8.0 180.7 L12.0 180.7 L16.0 181.1 L20.0 181.9 L24.0 183.1 L28.0 184.6 L32.0 186.3 L36.0 188.0 L40.0 189.6 L44.0 191.0 L48.0 192.1 L52.0 192.8 L56.0 192.9 L60.0 192.7 L64.0 191.9 L68.0 190.8 L72.0 189.4 L76.0 187.9 L80.0 186.3 L84.0 184.8 L88.0 183.6 L92.0 182.6 L96.0 182.1 L100.0 181.9 L104.0 182.2 L108.0 182.7 L112.0 183.6 L116.0 184.5 L120.0 185.5 L124.0 186.4 L128.0 187.1 L132.0 187.4 L136.0 187.5 L140.0 187.1 L144.0 186.4 L148.0 185.4 L152.0 184.2 L156.0 182.9 L160.0 181.6 L164.0 180.4 L168.0 179.6 L172.0 179.1 L176.0 179.0 L180.0 179.4 L184.0 180.2 L188.0 181.4 L192.0 183.0 L196.0 184.7 L200.0 186.5 L204.0 188.2 L208.0 189.7 L212.0 190.9 L216.0 191.7 L220.0 192.0" stroke="#5cc6f6" stroke-width="1.2" fill="none" opacity="0.44"/><path d="M0.0 184.6 L4.0 183.9 L8.0 183.7 L12.0 183.9 L16.0 184.5 L20.0 185.6 L24.0 187.0 L28.0 188.6 L32.0 190.3 L36.0 192.0 L40.0 193.6 L44.0 194.9 L48.0 195.8 L52.0 196.3 L56.0 196.3 L60.0 195.9 L64.0 195.0 L68.0 193.8 L72.0 192.4 L76.0 190.9 L80.0 189.4 L84.0 188.1 L88.0 187.1 L92.0 186.4 L96.0 186.1 L100.0 186.1 L104.0 186.6 L108.0 187.3 L112.0 188.2 L116.0 189.2 L120.0 190.1 L124.0 190.8 L128.0 191.3 L132.0 191.4 L136.0 191.2 L140.0 190.6 L144.0 189.7 L148.0 188.5 L152.0 187.1 L156.0 185.7 L160.0 184.4 L164.0 183.3 L168.0 182.6 L172.0 182.2 L176.0 182.3 L180.0 182.9 L184.0 183.9 L188.0 185.3 L192.0 186.9 L196.0 188.7 L200.0 190.5 L204.0 192.1 L208.0 193.5 L212.0 194.5 L216.0 195.1 L220.0 195.2" stroke="#178ccf" stroke-width="1.2" fill="none" opacity="0.57"/><path d="M0.0 187.4 L4.0 186.9 L8.0 186.8 L12.0 187.2 L16.0 188.1 L20.0 189.3 L24.0 190.8 L28.0 192.5 L32.0 194.3 L36.0 196.0 L40.0 197.5 L44.0 198.7 L48.0 199.4 L52.0 199.7 L56.0 199.6 L60.0 199.0 L64.0 198.0 L68.0 196.7 L72.0 195.3 L76.0 193.9 L80.0 192.6 L84.0 191.4 L88.0 190.6 L92.0 190.2 L96.0 190.1 L100.0 190.4 L104.0 191.0 L108.0 191.9 L112.0 192.8 L116.0 193.8 L120.0 194.6 L124.0 195.2 L128.0 195.5 L132.0 195.4 L136.0 194.9 L140.0 194.0 L144.0 192.9 L148.0 191.5 L152.0 190.0 L156.0 188.6 L160.0 187.3 L164.0 186.3 L168.0 185.7 L172.0 185.5 L176.0 185.8 L180.0 186.6 L184.0 187.7 L188.0 189.2 L192.0 190.9 L196.0 192.7 L200.0 194.4 L204.0 195.9 L208.0 197.1 L212.0 197.9 L216.0 198.3 L220.0 198.3" stroke="#5cc6f6" stroke-width="1.2" fill="none" opacity="0.71"/><path d="M0.0 190.2 L4.0 189.9 L8.0 190.0 L12.0 190.6 L16.0 191.7 L20.0 193.0 L24.0 194.7 L28.0 196.5 L32.0 198.2 L36.0 199.9 L40.0 201.2 L44.0 202.3 L48.0 202.8 L52.0 203.0 L56.0 202.6 L60.0 201.9 L64.0 200.8 L68.0 199.5 L72.0 198.2 L76.0 196.9 L80.0 195.7 L84.0 194.8 L88.0 194.2 L92.0 194.0 L96.0 194.2 L100.0 194.7 L104.0 195.5 L108.0 196.4 L112.0 197.4 L116.0 198.3 L120.0 199.0 L124.0 199.4 L128.0 199.5 L132.0 199.1 L136.0 198.4 L140.0 197.3 L144.0 196.0 L148.0 194.5 L152.0 192.9 L156.0 191.5 L160.0 190.3 L164.0 189.4 L168.0 188.9 L172.0 188.9 L176.0 189.4 L180.0 190.3 L184.0 191.6 L188.0 193.1 L192.0 194.9 L196.0 196.6 L200.0 198.2 L204.0 199.6 L208.0 200.6 L212.0 201.2 L216.0 201.4 L220.0 201.1" stroke="#178ccf" stroke-width="1.2" fill="none" opacity="0.82"/><path d="M0.0 193.1 L4.0 192.9 L8.0 193.3 L12.0 194.1 L16.0 195.2 L20.0 196.7 L24.0 198.5 L28.0 200.3 L32.0 202.0 L36.0 203.5 L40.0 204.8 L44.0 205.6 L48.0 206.0 L52.0 205.9 L56.0 205.4 L60.0 204.6 L64.0 203.5 L68.0 202.2 L72.0 200.9 L76.0 199.7 L80.0 198.8 L84.0 198.1 L88.0 197.8 L92.0 197.8 L96.0 198.3 L100.0 199.0 L104.0 199.9 L108.0 200.9 L112.0 201.8 L116.0 202.6 L120.0 203.2 L124.0 203.4 L128.0 203.3 L132.0 202.7 L136.0 201.7 L140.0 200.4 L144.0 198.9 L148.0 197.3 L152.0 195.8 L156.0 194.3 L160.0 193.2 L164.0 192.5 L168.0 192.2 L172.0 192.3 L176.0 193.0 L180.0 194.0 L184.0 195.4 L188.0 197.0 L192.0 198.7 L196.0 200.4 L200.0 201.8 L204.0 203.0 L208.0 203.8 L212.0 204.2 L216.0 204.2 L220.0 203.8" stroke="#5cc6f6" stroke-width="1.2" fill="none" opacity="0.88"/><path d="M0.0 195.9 L4.0 196.0 L8.0 196.5 L12.0 197.4 L16.0 198.8 L20.0 200.4 L24.0 202.1 L28.0 203.9 L32.0 205.5 L36.0 206.9 L40.0 208.0 L44.0 208.6 L48.0 208.8 L52.0 208.6 L56.0 208.0 L60.0 207.0 L64.0 205.9 L68.0 204.7 L72.0 203.5 L76.0 202.5 L80.0 201.7 L84.0 201.3 L88.0 201.3 L92.0 201.6 L96.0 202.2 L100.0 203.1 L104.0 204.1 L108.0 205.1 L112.0 206.1 L116.0 206.8 L120.0 207.2 L124.0 207.2 L128.0 206.8 L132.0 206.0 L136.0 204.8 L140.0 203.4 L144.0 201.8 L148.0 200.1 L152.0 198.5 L156.0 197.2 L160.0 196.1 L164.0 195.5 L168.0 195.4 L172.0 195.8 L176.0 196.6 L180.0 197.7 L184.0 199.2 L188.0 200.8 L192.0 202.4 L196.0 204.0 L200.0 205.2 L204.0 206.2 L208.0 206.8 L212.0 207.0 L216.0 206.8 L220.0 206.2" stroke="#178ccf" stroke-width="1.2" fill="none" opacity="0.90"/><path d="M0.0 198.7 L4.0 199.0 L8.0 199.7 L12.0 200.8 L16.0 202.2 L20.0 203.9 L24.0 205.6 L28.0 207.3 L32.0 208.9 L36.0 210.1 L40.0 211.0 L44.0 211.4 L48.0 211.4 L52.0 211.0 L56.0 210.2 L60.0 209.2 L64.0 208.1 L68.0 207.0 L72.0 205.9 L76.0 205.1 L80.0 204.6 L84.0 204.5 L88.0 204.7 L92.0 205.3 L96.0 206.1 L100.0 207.1 L104.0 208.2 L108.0 209.2 L112.0 210.1 L116.0 210.7 L120.0 210.9 L124.0 210.7 L128.0 210.1 L132.0 209.0 L136.0 207.7 L140.0 206.1 L144.0 204.4 L148.0 202.7 L152.0 201.2 L156.0 199.9 L160.0 199.0 L164.0 198.6 L168.0 198.6 L172.0 199.2 L176.0 200.1 L180.0 201.4 L184.0 202.8 L188.0 204.4 L192.0 205.9 L196.0 207.3 L200.0 208.4 L204.0 209.2 L208.0 209.5 L212.0 209.5 L216.0 209.1 L220.0 208.4" stroke="#5cc6f6" stroke-width="1.2" fill="none" opacity="0.86"/><path d="M0.0 201.5 L4.0 201.9 L8.0 202.8 L12.0 204.0 L16.0 205.6 L20.0 207.2 L24.0 209.0 L28.0 210.6 L32.0 211.9 L36.0 213.0 L40.0 213.6 L44.0 213.9 L48.0 213.7 L52.0 213.1 L56.0 212.3 L60.0 211.2 L64.0 210.1 L68.0 209.1 L72.0 208.3 L76.0 207.7 L80.0 207.4 L84.0 207.5 L88.0 208.0 L92.0 208.8 L96.0 209.8 L100.0 210.9 L104.0 212.1 L108.0 213.1 L112.0 213.8 L116.0 214.3 L120.0 214.3 L124.0 213.9 L128.0 213.0 L132.0 211.8 L136.0 210.3 L140.0 208.6 L144.0 206.9 L148.0 205.2 L152.0 203.7 L156.0 202.6 L160.0 201.9 L164.0 201.6 L168.0 201.9 L172.0 202.5 L176.0 203.6 L180.0 204.9 L184.0 206.4 L188.0 207.9 L192.0 209.3 L196.0 210.5 L200.0 211.3 L204.0 211.8 L208.0 212.0 L212.0 211.7 L216.0 211.1 L220.0 210.3" stroke="#178ccf" stroke-width="1.2" fill="none" opacity="0.77"/><path d="M0.0 204.3 L4.0 204.9 L8.0 205.9 L12.0 207.2 L16.0 208.8 L20.0 210.4 L24.0 212.1 L28.0 213.6 L32.0 214.7 L36.0 215.6 L40.0 216.0 L44.0 216.0 L48.0 215.7 L52.0 215.0 L56.0 214.0 L60.0 213.0 L64.0 212.0 L68.0 211.1 L72.0 210.4 L76.0 210.1 L80.0 210.1 L84.0 210.5 L88.0 211.2 L92.0 212.2 L96.0 213.3 L100.0 214.6 L104.0 215.7 L108.0 216.6 L112.0 217.3 L116.0 217.6 L120.0 217.4 L124.0 216.8 L128.0 215.8 L132.0 214.4 L136.0 212.7 L140.0 211.0 L144.0 209.2 L148.0 207.6 L152.0 206.3 L156.0 205.3 L160.0 204.7 L164.0 204.6 L168.0 205.0 L172.0 205.8 L176.0 207.0 L180.0 208.3 L184.0 209.7 L188.0 211.1 L192.0 212.4 L196.0 213.3 L200.0 214.0 L204.0 214.2 L208.0 214.1 L212.0 213.7 L216.0 212.9 L220.0 212.0" stroke="#5cc6f6" stroke-width="1.2" fill="none" opacity="0.64"/><path d="M0.0 207.1 L4.0 207.8 L8.0 208.9 L12.0 210.3 L16.0 211.9 L20.0 213.5 L24.0 215.0 L28.0 216.3 L32.0 217.3 L36.0 217.9 L40.0 218.1 L44.0 217.9 L48.0 217.4 L52.0 216.6 L56.0 215.6 L60.0 214.6 L64.0 213.7 L68.0 213.0 L72.0 212.5 L76.0 212.5 L80.0 212.7 L84.0 213.4 L88.0 214.3 L92.0 215.5 L96.0 216.7 L100.0 218.0 L104.0 219.1 L108.0 220.0 L112.0 220.5 L116.0 220.6 L120.0 220.2 L124.0 219.4 L128.0 218.2 L132.0 216.7 L136.0 215.0 L140.0 213.2 L144.0 211.5 L148.0 209.9 L152.0 208.7 L156.0 207.9 L160.0 207.5 L164.0 207.7 L168.0 208.2 L172.0 209.1 L176.0 210.3 L180.0 211.6 L184.0 213.0 L188.0 214.2 L192.0 215.3 L196.0 216.0 L200.0 216.4 L204.0 216.4 L208.0 216.1 L212.0 215.4 L216.0 214.5 L220.0 213.6" stroke="#178ccf" stroke-width="1.2" fill="none" opacity="0.51"/><path d="M0.0 209.9 L4.0 210.7 L8.0 211.9 L12.0 213.4 L16.0 214.9 L20.0 216.5 L24.0 217.8 L28.0 218.9 L32.0 219.7 L36.0 220.1 L40.0 220.0 L44.0 219.6 L48.0 219.0 L52.0 218.1 L56.0 217.1 L60.0 216.2 L64.0 215.4 L68.0 214.8 L72.0 214.6 L76.0 214.8 L80.0 215.3 L84.0 216.2 L88.0 217.3 L92.0 218.6 L96.0 220.0 L100.0 221.3 L104.0 222.3 L108.0 223.1 L112.0 223.5 L116.0 223.4 L120.0 222.8 L124.0 221.8 L128.0 220.5 L132.0 218.8 L136.0 217.1 L140.0 215.3 L144.0 213.6 L148.0 212.2 L152.0 211.2 L156.0 210.6 L160.0 210.4 L164.0 210.7 L168.0 211.4 L172.0 212.3 L176.0 213.5 L180.0 214.8 L184.0 216.1 L188.0 217.2 L192.0 218.0 L196.0 218.5 L200.0 218.6 L204.0 218.4 L208.0 217.8 L212.0 217.0 L216.0 216.0 L220.0 215.0" stroke="#5cc6f6" stroke-width="1.2" fill="none" opacity="0.37"/><path d="M0.0 212.7 L4.0 213.7 L8.0 215.0 L12.0 216.4 L16.0 217.9 L20.0 219.3 L24.0 220.5 L28.0 221.4 L32.0 221.9 L36.0 222.0 L40.0 221.8 L44.0 221.2 L48.0 220.4 L52.0 219.4 L56.0 218.5 L60.0 217.6 L64.0 217.0 L68.0 216.7 L72.0 216.7 L76.0 217.1 L80.0 217.9 L84.0 219.0 L88.0 220.3 L92.0 221.7 L96.0 223.1 L100.0 224.4 L104.0 225.4 L108.0 226.0 L112.0 226.2 L116.0 225.9 L120.0 225.2 L124.0 224.0 L128.0 222.6 L132.0 220.9 L136.0 219.1 L140.0 217.4 L144.0 215.8 L148.0 214.6 L152.0 213.7 L156.0 213.3 L160.0 213.3 L164.0 213.8 L168.0 214.5 L172.0 215.6 L176.0 216.8 L180.0 218.0 L184.0 219.1 L188.0 220.0 L192.0 220.6 L196.0 220.8 L200.0 220.7 L204.0 220.2 L208.0 219.4 L212.0 218.5 L216.0 217.4 L220.0 216.4" stroke="#178ccf" stroke-width="1.2" fill="none" opacity="0.27"/><path d="M0.0 215.7 L4.0 216.8 L8.0 218.1 L12.0 219.5 L16.0 220.9 L20.0 222.1 L24.0 223.1 L28.0 223.7 L32.0 224.0 L36.0 223.9 L40.0 223.4 L44.0 222.7 L48.0 221.8 L52.0 220.8 L56.0 219.9 L60.0 219.2 L64.0 218.7 L68.0 218.6 L72.0 218.9 L76.0 219.5 L80.0 220.5 L84.0 221.8 L88.0 223.3 L92.0 224.8 L96.0 226.2 L100.0 227.4 L104.0 228.3 L108.0 228.8 L112.0 228.8 L116.0 228.3 L120.0 227.4 L124.0 226.2 L128.0 224.6 L132.0 222.9 L136.0 221.1 L140.0 219.5 L144.0 218.1 L148.0 217.0 L152.0 216.4 L156.0 216.1 L160.0 216.3 L164.0 216.9 L168.0 217.8 L172.0 218.9 L176.0 220.0 L180.0 221.1 L184.0 222.1 L188.0 222.7 L192.0 223.1 L196.0 223.0 L200.0 222.6 L204.0 221.9 L208.0 221.0 L212.0 219.9 L216.0 218.9 L220.0 217.9" stroke="#5cc6f6" stroke-width="1.2" fill="none" opacity="0.21"/><path d="M0.0 218.8 L4.0 220.0 L8.0 221.3 L12.0 222.6 L16.0 223.8 L20.0 224.9 L24.0 225.6 L28.0 226.0 L32.0 226.0 L36.0 225.7 L40.0 225.0 L44.0 224.2 L48.0 223.2 L52.0 222.2 L56.0 221.4 L60.0 220.8 L64.0 220.5 L68.0 220.6 L72.0 221.2 L76.0 222.1 L80.0 223.3 L84.0 224.7 L88.0 226.3 L92.0 227.8 L96.0 229.2 L100.0 230.4 L104.0 231.1 L108.0 231.4 L112.0 231.3 L116.0 230.7 L120.0 229.6 L124.0 228.2 L128.0 226.6 L132.0 224.9 L136.0 223.2 L140.0 221.7 L144.0 220.5 L148.0 219.6 L152.0 219.2 L156.0 219.1 L160.0 219.5 L164.0 220.2 L168.0 221.2 L172.0 222.3 L176.0 223.3 L180.0 224.3 L184.0 225.0 L188.0 225.5 L192.0 225.5 L196.0 225.2 L200.0 224.6 L204.0 223.7 L208.0 222.6 L212.0 221.5 L216.0 220.4 L220.0 219.5" stroke="#178ccf" stroke-width="1.2" fill="none" opacity="0.20"/></svg>
  <div style="position:absolute;left:31px;top:31px;width:156px;height:155px;background:#fff"></div>
  <svg style="position:absolute;left:39px;top:38.5px" width="140" height="140" viewBox="0 0 37 37" shape-rendering="crispEdges"><path d="M0 0h7v1h-7zM8 0h2v1h-2zM11 0h1v1h-1zM13 0h2v1h-2zM16 0h5v1h-5zM22 0h2v1h-2zM27 0h1v1h-1zM30 0h7v1h-7zM0 1h1v1h-1zM6 1h1v1h-1zM8 1h1v1h-1zM10 1h4v1h-4zM15 1h1v1h-1zM18 1h1v1h-1zM20 1h3v1h-3zM24 1h2v1h-2zM27 1h2v1h-2zM30 1h1v1h-1zM36 1h1v1h-1zM0 2h1v1h-1zM2 2h3v1h-3zM6 2h1v1h-1zM10 2h1v1h-1zM15 2h1v1h-1zM17 2h2v1h-2zM20 2h3v1h-3zM27 2h1v1h-1zM30 2h1v1h-1zM32 2h3v1h-3zM36 2h1v1h-1zM0 3h1v1h-1zM2 3h3v1h-3zM6 3h1v1h-1zM10 3h1v1h-1zM13 3h1v1h-1zM15 3h1v1h-1zM20 3h2v1h-2zM23 3h5v1h-5zM30 3h1v1h-1zM32 3h3v1h-3zM36 3h1v1h-1zM0 4h1v1h-1zM2 4h3v1h-3zM6 4h1v1h-1zM8 4h3v1h-3zM12 4h2v1h-2zM18 4h3v1h-3zM23 4h5v1h-5zM30 4h1v1h-1zM32 4h3v1h-3zM36 4h1v1h-1zM0 5h1v1h-1zM6 5h1v1h-1zM8 5h4v1h-4zM18 5h1v1h-1zM23 5h3v1h-3zM27 5h2v1h-2zM30 5h1v1h-1zM36 5h1v1h-1zM0 6h7v1h-7zM8 6h1v1h-1zM10 6h1v1h-1zM12 6h1v1h-1zM14 6h1v1h-1zM16 6h1v1h-1zM18 6h1v1h-1zM20 6h1v1h-1zM22 6h1v1h-1zM24 6h1v1h-1zM26 6h1v1h-1zM28 6h1v1h-1zM30 6h7v1h-7zM8 7h9v1h-9zM19 7h5v1h-5zM26 7h3v1h-3zM0 8h3v1h-3zM4 8h3v1h-3zM9 8h1v1h-1zM11 8h1v1h-1zM16 8h3v1h-3zM22 8h2v1h-2zM30 8h1v1h-1zM32 8h5v1h-5zM2 9h1v1h-1zM7 9h5v1h-5zM15 9h1v1h-1zM18 9h1v1h-1zM23 9h2v1h-2zM26 9h1v1h-1zM29 9h2v1h-2zM33 9h3v1h-3zM1 10h1v1h-1zM5 10h2v1h-2zM8 10h2v1h-2zM14 10h1v1h-1zM17 10h4v1h-4zM22 10h3v1h-3zM26 10h2v1h-2zM30 10h1v1h-1zM35 10h2v1h-2zM0 11h2v1h-2zM3 11h2v1h-2zM8 11h1v1h-1zM12 11h1v1h-1zM14 11h2v1h-2zM21 11h1v1h-1zM26 11h1v1h-1zM28 11h1v1h-1zM33 11h1v1h-1zM0 12h7v1h-7zM10 12h1v1h-1zM13 12h1v1h-1zM16 12h1v1h-1zM18 12h2v1h-2zM22 12h2v1h-2zM25 12h3v1h-3zM29 12h1v1h-1zM31 12h3v1h-3zM36 12h1v1h-1zM3 13h3v1h-3zM8 13h3v1h-3zM13 13h2v1h-2zM18 13h2v1h-2zM21 13h2v1h-2zM26 13h1v1h-1zM28 13h1v1h-1zM30 13h2v1h-2zM34 13h2v1h-2zM0 14h8v1h-8zM9 14h1v1h-1zM11 14h5v1h-5zM18 14h2v1h-2zM21 14h1v1h-1zM23 14h2v1h-2zM26 14h1v1h-1zM30 14h1v1h-1zM34 14h3v1h-3zM0 15h2v1h-2zM3 15h3v1h-3zM10 15h7v1h-7zM20 15h1v1h-1zM22 15h5v1h-5zM28 15h1v1h-1zM30 15h7v1h-7zM0 16h1v1h-1zM6 16h1v1h-1zM8 16h2v1h-2zM11 16h1v1h-1zM14 16h1v1h-1zM20 16h1v1h-1zM30 16h5v1h-5zM3 17h2v1h-2zM11 17h1v1h-1zM13 17h3v1h-3zM17 17h1v1h-1zM20 17h3v1h-3zM27 17h3v1h-3zM31 17h1v1h-1zM33 17h3v1h-3zM2 18h1v1h-1zM4 18h4v1h-4zM9 18h1v1h-1zM12 18h2v1h-2zM16 18h3v1h-3zM20 18h1v1h-1zM22 18h1v1h-1zM25 18h1v1h-1zM30 18h1v1h-1zM32 18h5v1h-5zM0 19h4v1h-4zM5 19h1v1h-1zM9 19h1v1h-1zM13 19h3v1h-3zM18 19h5v1h-5zM24 19h1v1h-1zM26 19h2v1h-2zM29 19h2v1h-2zM2 20h1v1h-1zM4 20h1v1h-1zM6 20h1v1h-1zM8 20h2v1h-2zM11 20h4v1h-4zM17 20h1v1h-1zM19 20h1v1h-1zM21 20h4v1h-4zM26 20h2v1h-2zM30 20h7v1h-7zM0 21h1v1h-1zM4 21h2v1h-2zM8 21h4v1h-4zM13 21h1v1h-1zM17 21h5v1h-5zM25 21h2v1h-2zM29 21h1v1h-1zM31 21h2v1h-2zM0 22h3v1h-3zM6 22h1v1h-1zM10 22h1v1h-1zM12 22h1v1h-1zM14 22h1v1h-1zM17 22h3v1h-3zM22 22h2v1h-2zM26 22h2v1h-2zM29 22h3v1h-3zM35 22h2v1h-2zM0 23h1v1h-1zM3 23h3v1h-3zM8 23h2v1h-2zM12 23h4v1h-4zM17 23h1v1h-1zM21 23h1v1h-1zM23 23h1v1h-1zM25 23h2v1h-2zM28 23h1v1h-1zM30 23h4v1h-4zM36 23h1v1h-1zM0 24h2v1h-2zM3 24h5v1h-5zM13 24h2v1h-2zM17 24h1v1h-1zM19 24h7v1h-7zM27 24h1v1h-1zM29 24h2v1h-2zM33 24h4v1h-4zM1 25h2v1h-2zM4 25h2v1h-2zM9 25h3v1h-3zM13 25h1v1h-1zM16 25h2v1h-2zM20 25h1v1h-1zM22 25h3v1h-3zM29 25h3v1h-3zM34 25h3v1h-3zM0 26h1v1h-1zM2 26h1v1h-1zM6 26h1v1h-1zM9 26h3v1h-3zM13 26h2v1h-2zM16 26h3v1h-3zM20 26h1v1h-1zM24 26h4v1h-4zM29 26h3v1h-3zM0 27h1v1h-1zM2 27h1v1h-1zM4 27h1v1h-1zM7 27h4v1h-4zM13 27h2v1h-2zM17 27h1v1h-1zM21 27h2v1h-2zM26 27h4v1h-4zM33 27h1v1h-1zM35 27h2v1h-2zM2 28h1v1h-1zM5 28h6v1h-6zM13 28h3v1h-3zM17 28h3v1h-3zM22 28h3v1h-3zM27 28h7v1h-7zM35 28h2v1h-2zM8 29h1v1h-1zM10 29h1v1h-1zM12 29h2v1h-2zM16 29h2v1h-2zM19 29h2v1h-2zM22 29h1v1h-1zM24 29h1v1h-1zM26 29h3v1h-3zM32 29h2v1h-2zM0 30h7v1h-7zM8 30h1v1h-1zM10 30h1v1h-1zM12 30h2v1h-2zM16 30h2v1h-2zM20 30h2v1h-2zM24 30h2v1h-2zM27 30h2v1h-2zM30 30h1v1h-1zM32 30h1v1h-1zM36 30h1v1h-1zM0 31h1v1h-1zM6 31h1v1h-1zM9 31h2v1h-2zM13 31h3v1h-3zM17 31h3v1h-3zM22 31h1v1h-1zM25 31h1v1h-1zM27 31h2v1h-2zM32 31h1v1h-1zM36 31h1v1h-1zM0 32h1v1h-1zM2 32h3v1h-3zM6 32h1v1h-1zM8 32h1v1h-1zM10 32h1v1h-1zM12 32h3v1h-3zM16 32h2v1h-2zM20 32h13v1h-13zM34 32h1v1h-1zM36 32h1v1h-1zM0 33h1v1h-1zM2 33h3v1h-3zM6 33h1v1h-1zM11 33h1v1h-1zM13 33h1v1h-1zM15 33h1v1h-1zM20 33h1v1h-1zM22 33h1v1h-1zM25 33h1v1h-1zM28 33h2v1h-2zM31 33h1v1h-1zM33 33h1v1h-1zM35 33h1v1h-1zM0 34h1v1h-1zM2 34h3v1h-3zM6 34h1v1h-1zM9 34h2v1h-2zM12 34h4v1h-4zM19 34h1v1h-1zM21 34h1v1h-1zM24 34h1v1h-1zM29 34h1v1h-1zM32 34h1v1h-1zM34 34h1v1h-1zM0 35h1v1h-1zM6 35h1v1h-1zM8 35h1v1h-1zM10 35h2v1h-2zM13 35h1v1h-1zM15 35h1v1h-1zM20 35h4v1h-4zM25 35h1v1h-1zM28 35h2v1h-2zM31 35h6v1h-6zM0 36h7v1h-7zM10 36h1v1h-1zM12 36h2v1h-2zM15 36h3v1h-3zM21 36h3v1h-3zM26 36h1v1h-1zM28 36h1v1h-1zM31 36h1v1h-1zM33 36h1v1h-1zM35 36h2v1h-2z" fill="#000"/></svg>
  <svg style="position:absolute;left:195px;top:31px" width="12" height="98" viewBox="0 0 12 98"><g stroke="#e8f6ff" stroke-width="1.6"><path d="M1 10.0 L11 2.0"/><path d="M1 16.0 L11 8.0"/><path d="M1 22.0 L11 14.0"/><path d="M1 28.0 L11 20.0"/><path d="M1 34.0 L11 26.0"/><path d="M1 40.0 L11 32.0"/><path d="M1 46.0 L11 38.0"/><path d="M1 52.0 L11 44.0"/><path d="M1 58.0 L11 50.0"/><path d="M1 64.0 L11 56.0"/><path d="M1 70.0 L11 62.0"/><path d="M1 76.0 L11 68.0"/><path d="M1 82.0 L11 74.0"/><path d="M1 88.0 L11 80.0"/><path d="M1 94.0 L11 86.0"/><path d="M1 100.0 L11 92.0"/></g></svg>
  <div style="position:absolute;left:99.5px;top:195px;font-size:14px;font-weight:bold;letter-spacing:2.2px;color:#eaf6fd;-webkit-text-stroke:0.4px #eaf6fd;line-height:1;white-space:nowrap">SCAN FOR</div>
  <div style="position:absolute;left:202.5px;top:171px;transform:translate(-50%,-50%) rotate(-90deg);font-size:14px;font-weight:bold;letter-spacing:1.9px;color:#eaf6fd;-webkit-text-stroke:0.4px #eaf6fd;line-height:1;white-space:nowrap">DETAILS</div>
</div>

<!-- Card 5: Bewertung / Zusammenfassung -->
<div class="card" style="left:56px;top:672px;width:915px;height:200px"></div>
<div class="lab" style="left:56px;top:672px;width:29px;height:200px"><span style="letter-spacing:1.9px;top:calc(50% + 4.5px)">BEWERTUNG</span></div>
<div class="abs b navy" style="left:110px;top:695.5px;font-size:18px;letter-spacing:0.25px">GUTER GESUNDHEITSZUSTAND – KEINE AUFFÄLLIGKEITEN</div>
<div class="abs gray" style="left:110px;top:740.6px;font-size:14px;letter-spacing:0.27px">Basierend auf der detaillierten Batteriediagnose, die mit dem AVILOO FLASH Test durchgeführt</div>
<div class="abs gray" style="left:110px;top:760.6px;font-size:14px;letter-spacing:0.27px">wurde, bestätigen wir hiermit, dass sich die Antriebsbatterie dieses Fahrzeugs in einem guten</div>
<svg class="abs" style="left:0;top:0" width="1024" height="768" viewBox="0 0 1024 768">
  <g stroke="#2b8fca" stroke-width="2.1" fill="none" stroke-linecap="round" stroke-linejoin="round">
    <path d="M759 770 C759.5 762 760.5 754 761.5 747.5 C763 754 765 761 766.5 768"/>
    <path d="M766.5 768 C768 762 771 757.5 775 758 C779 759 779 766 775 768"/>
    <path d="M782 770 C783 764 785 760 789 759.5 C791 759.5 792 761 793 761"/>
    <path d="M800 759.5 C796 759 794 764 796 767 C798 769 801 767 803 764 C804 766 805 768 807 768"/>
    <path d="M808 768 C809 764 810 761 811 760 C811 764 812 767 815 767"/>
    <path d="M822 760.5 C819 759 817 762 820 764 C824 766 828 768 836 769"/>
    <path d="M838 750.5 C845 745.5 855 743.5 861 746.5 C864 750 858 755.5 851 757 C857 760 864 764 870 769"/>
    <path d="M855 748 C854 754 853 760 852 765.5"/>
    <path d="M868 763 C872 761 876 758.5 874 756.5 C871 755 866.5 759 868 763.5 C869.5 768 875 768.5 879 765"/>
    <path d="M884 769 C885 763 888 759 892 759.5 C894 760 893 763 891 765 C893 767 897 767 899 764"/>
    <path d="M903 761 C899 760 897 765 900 768 C903 770 908 766 911 762 C914 758.5 925 753 934.5 748.5"/>
  </g>
</svg>
</body>
</html>
